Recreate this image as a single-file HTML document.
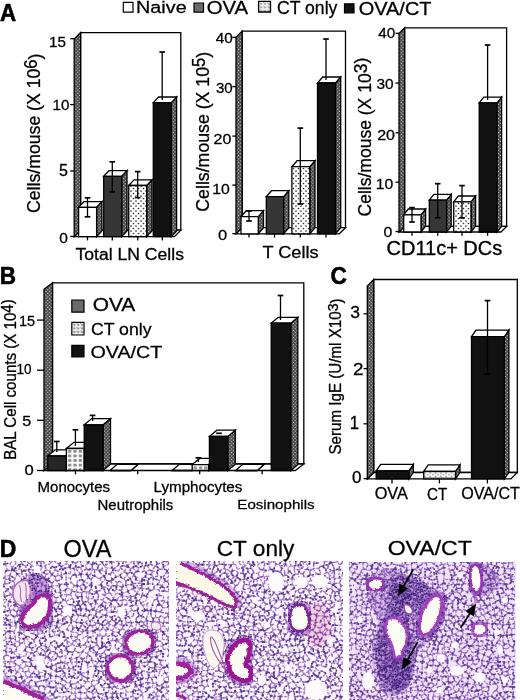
<!DOCTYPE html><html><head><meta charset="utf-8"><style>
html,body{margin:0;padding:0;background:#fff;overflow:hidden;}
svg{display:block;will-change:transform;}
text{font-family:"Liberation Sans", sans-serif;}
</style></head><body>
<svg width="520" height="700" viewBox="0 0 520 700">
<defs>
<pattern id="wall" width="2.5" height="2.5" patternUnits="userSpaceOnUse" patternTransform="rotate(45)">
<rect width="2.5" height="2.5" fill="#4a4a4a"/><rect x="0.6" y="0.6" width="1.1" height="1.1" fill="#d8d8d8"/>
</pattern>
<pattern id="side" width="2.5" height="2.5" patternUnits="userSpaceOnUse" patternTransform="rotate(45)">
<rect width="2.5" height="2.5" fill="#444"/><rect x="0.6" y="0.6" width="1.15" height="1.15" fill="#d8d8d8"/>
</pattern>
<pattern id="dots" width="5" height="5" patternUnits="userSpaceOnUse">
<rect width="5" height="5" fill="#fff"/><circle cx="1" cy="1" r="0.85" fill="#333"/><circle cx="3.5" cy="3.5" r="0.85" fill="#333"/>
</pattern>
<pattern id="ldots" width="2.6" height="2.6" patternUnits="userSpaceOnUse">
<rect width="2.6" height="2.6" fill="#fff"/><rect width="1.3" height="1.3" fill="#555"/><rect x="1.3" y="1.3" width="1.3" height="1.3" fill="#555"/>
</pattern>
<pattern id="cdots" width="5.3" height="8.3" patternUnits="userSpaceOnUse" x="424.95" y="470.65">
<rect width="5.3" height="8.3" fill="#9a9a9a"/><circle cx="2.65" cy="4.15" r="2.45" fill="#fff"/><circle cx="2.65" cy="4.15" r="0.75" fill="#777"/>
</pattern>
<pattern id="lgrid" width="3.9" height="3.6" patternUnits="userSpaceOnUse" x="259.2" y="2">
<rect width="3.9" height="3.6" fill="#fff"/><rect x="0.7" y="0.7" width="2.5" height="2.2" rx="0.5" fill="#aaa"/><circle cx="0" cy="0" r="0.6" fill="#222"/>
</pattern>
<pattern id="lgrid2" width="3.8" height="3.6" patternUnits="userSpaceOnUse" x="72.5" y="323">
<rect width="3.8" height="3.6" fill="#fff"/><rect x="0.7" y="0.7" width="2.4" height="2.2" rx="0.5" fill="#999"/><circle cx="0" cy="0" r="0.6" fill="#333"/>
</pattern>
<pattern id="grid" width="5.35" height="4.6" patternUnits="userSpaceOnUse" x="67" y="449">
<rect width="5.35" height="4.6" fill="#fff"/><rect x="0.9" y="0.9" width="3.5" height="2.8" rx="0.9" fill="#8c8c8c"/>
</pattern>
<pattern id="grid2" width="5.3" height="6" patternUnits="userSpaceOnUse" x="192.6" y="465">
<rect width="5.3" height="6" fill="#fff"/><rect x="0.9" y="1.2" width="3.5" height="3.4" rx="1" fill="#9a9a9a"/>
</pattern>

<pattern id="alv" width="168" height="168" patternUnits="userSpaceOnUse">
<rect width="168" height="168" fill="#fdf7fd"/>
<path d="M135.9 150.5L138.0 145.8M135.9 150.5L131.9 145.7M133.6 143.6L132.5 144.4M131.9 145.7L132.5 144.4M137.3 144.3L138.0 145.8M70.8 74.1L72.0 71.5M72.0 71.5L75.2 70.8M76.5 71.1L75.2 70.8M71.6 77.0L76.0 76.4M11.0 134.7L10.5 136.6M11.0 134.7L10.3 134.0M10.3 134.0L6.2 134.1M6.2 134.1L5.2 136.1M10.5 136.6L13.3 140.8M7.3 139.0L7.2 140.2M56.6 168.3L56.0 172.2M168.2 152.1L169.2 146.7M81.7 75.4L77.2 77.4M58.3 116.4L62.5 115.6M58.3 116.4L57.1 112.0M60.3 110.5L64.0 113.4M64.0 113.4L62.5 115.6M57.1 112.0L58.0 110.7M51.8 79.4L51.8 81.9M51.8 81.9L59.4 81.7M59.8 80.9L57.2 77.2M59.8 80.9L59.4 81.7M55.5 75.7L57.2 77.2M66.8 80.9L71.2 78.4M66.8 80.9L66.3 80.6M70.8 74.1L66.1 74.1M66.1 74.1L66.3 80.6M57.2 77.2L62.2 74.8M80.7 70.4L80.7 70.3M75.2 70.8L74.2 64.4M74.2 64.4L75.1 63.8M60.3 110.5L61.9 108.2M64.0 113.4L64.4 113.4M64.4 113.4L68.0 111.9M68.0 111.9L67.2 107.3M73.0 111.8L77.2 110.8M72.8 106.7L75.4 105.9M71.8 106.2L72.8 106.7M70.9 113.7L68.0 111.9M70.9 113.7L73.0 111.8M67.2 107.3L67.6 106.2M116.4 72.6L120.1 71.9M117.1 78.8L113.2 75.3M128.2 87.0L125.8 81.2M132.9 80.4L125.9 81.1M133.1 79.8L132.9 80.4M119.9 77.0L123.8 81.7M126.0 77.0L123.6 74.5M123.6 74.5L121.2 73.9M143.7 118.2L146.6 116.3M143.7 118.2L140.7 117.6M142.4 112.3L140.7 117.6M142.4 112.3L146.2 114.4M-2.9 76.9L-1.1 77.7M2.2 81.6L1.3 82.5M1.3 82.5L-4.0 83.7M-0.3 87.9L-3.7 86.7M-0.3 87.9L-1.4 92.0M1.0 87.2L1.3 82.5M1.0 87.2L-0.3 87.9M0.1 135.8L0.6 136.9M0.3 139.0L0.6 136.9M0.3 139.0L-4.7 141.0M26.4 161.9L24.4 157.9M31.5 161.9L29.3 162.8M31.5 161.9L31.3 158.1M5.6 146.4L6.6 143.6M6.6 143.6L6.1 142.4M6.1 142.4L1.7 141.2M1.7 141.2L-0.0 145.2M-0.0 145.2L1.2 146.7M5.2 136.1L0.6 136.9M0.3 139.0L1.7 141.2M7.2 140.2L6.1 142.4M67.5 137.4L72.5 140.1M66.6 143.4L72.5 140.2M66.3 135.4L66.5 134.6M66.3 135.4L67.5 137.4M72.5 140.1L73.3 137.2M70.7 132.8L73.3 137.2M62.5 115.6L63.4 120.3M28.6 166.6L29.3 162.8M28.6 166.6L30.9 170.4M33.3 168.8L30.9 170.4M33.3 168.8L35.2 164.1M35.2 164.1L34.9 163.1M62.5 165.7L60.6 164.0M60.6 164.0L56.7 163.5M56.6 168.3L56.1 167.4M56.1 167.4L52.7 166.1M138.5 169.7L140.9 168.9M138.5 169.7L137.5 170.4M63.8 168.4L65.3 169.3M65.3 169.3L64.9 171.2M65.3 169.3L68.4 169.0M62.5 165.7L63.8 164.0M63.8 164.0L70.0 165.3M68.4 169.0L70.0 165.3M74.8 170.1L72.9 164.5M82.6 155.5L82.8 156.4M86.8 152.6L86.4 158.1M76.7 157.8L81.8 158.3M76.7 157.8L76.7 157.9M80.6 163.2L76.6 161.7M80.6 163.2L81.4 162.5M76.7 157.9L76.6 161.7M81.4 162.5L81.8 158.3M79.5 152.7L76.6 153.8M81.8 158.3L82.8 156.4M111.5 150.1L113.2 152.6M111.5 150.1L111.6 149.2M119.2 147.7L117.4 145.5M119.2 149.3L115.3 152.5M117.4 145.5L116.2 145.1M113.2 152.6L115.3 152.5M122.2 152.8L119.2 149.3M115.3 152.5L116.8 153.6M100.8 149.8L102.9 153.4M93.8 127.0L96.9 125.2M92.4 121.7L93.1 127.1M96.9 125.2L95.1 121.0M168.0 145.2L169.7 141.2M113.2 152.6L112.1 157.8M116.8 153.6L119.1 157.3M112.1 157.8L113.5 159.1M113.5 159.1L119.1 157.3M122.6 153.2L119.5 157.4M122.6 153.2L122.2 152.8M119.5 157.4L119.1 157.3M140.9 134.6L139.1 139.1M133.7 137.7L133.5 137.3M133.6 143.6L133.7 137.7M137.3 144.3L140.3 141.2M140.3 141.2L139.1 139.1M156.8 152.9L156.1 148.3M156.8 152.9L162.3 148.9M156.6 153.2L153.3 152.1M151.9 146.0L156.1 148.3M151.9 146.0L151.0 147.1M156.6 153.2L156.9 154.4M160.4 156.4L156.9 154.4M163.3 145.4L168.0 145.2M168.2 152.1L167.3 152.3M163.3 145.4L162.8 142.3M162.8 142.3L158.2 141.9M159.6 146.8L156.5 143.3M151.9 146.0L152.6 143.3M156.5 143.3L152.6 143.3M150.9 147.2L148.0 149.3M150.9 147.2L144.2 143.3M144.2 143.3L143.1 147.8M151.0 147.1L150.9 147.2M153.3 152.1L151.1 153.8M154.0 158.1L149.5 157.6M151.1 153.8L149.5 157.6M167.1 160.9L172.7 157.0M167.1 160.9L166.6 162.4M166.0 169.3L171.4 167.2M168.4 163.4L171.4 167.2M-0.7 152.3L-4.0 150.9M0.2 152.1L1.2 146.7M116.4 72.6L112.4 67.4M112.1 75.4L110.2 70.0M81.3 69.8L86.6 70.4M81.3 69.8L81.7 67.4M86.6 70.4L88.5 65.8M80.7 70.3L81.3 69.8M75.8 63.0L75.1 63.8M75.8 63.0L80.9 63.5M80.9 63.5L81.7 67.4M106.7 54.5L107.6 50.6M106.7 54.5L103.8 56.0M106.4 50.0L107.6 50.6M106.7 54.5L111.1 57.3M111.2 58.2L103.5 56.8M92.9 59.9L93.0 55.3M95.1 59.2L98.0 55.4M93.0 55.3L96.2 53.2M98.0 55.4L97.3 53.3M91.9 60.8L92.9 59.9M91.9 60.8L88.2 58.8M88.2 58.8L90.8 54.3M98.6 61.1L95.1 59.2M98.6 61.1L102.4 59.1M102.5 50.9L100.1 49.8M102.3 58.3L103.5 56.8M100.1 49.8L99.8 50.0M99.8 50.0L97.3 53.3M138.3 39.2L139.4 36.4M132.5 33.8L138.9 35.2M112.0 15.3L112.9 21.7M114.6 14.6L116.3 15.4M115.5 20.5L116.6 16.1M116.3 15.4L116.6 16.1M112.4 22.0L108.4 20.2M108.4 20.2L109.4 15.3M109.5 15.2L112.0 15.3M117.3 25.6L112.4 25.5M112.4 25.4L112.4 25.5M106.4 50.0L106.0 47.0M100.7 44.8L102.5 43.7M106.0 47.0L102.5 43.7M102.6 16.0L109.4 15.3M108.4 20.2L105.6 20.9M97.2 4.1L99.1 -0.8M93.7 3.5L96.1 -3.1M99.1 -0.8L96.1 -3.1M88.3 -0.0L95.8 -3.6M88.3 -0.0L87.7 -5.3M103.0 -0.6L102.8 -0.4M97.2 4.1L99.7 6.4M98.8 11.0L93.5 14.2M98.7 8.3L92.5 8.9M93.5 14.2L92.3 13.5M92.3 13.5L91.1 10.6M95.0 16.4L97.0 18.0M93.7 3.5L93.5 3.5M93.5 3.5L92.5 8.9M65.2 46.3L61.7 48.1M65.2 46.3L66.8 41.7M61.7 48.1L59.5 45.5M66.8 41.7L65.9 40.3M65.9 40.3L64.3 41.1M64.3 41.1L59.5 45.5M173.7 17.8L167.5 19.5M170.5 24.2L167.2 20.9M167.2 20.9L167.5 19.5M170.5 24.2L170.6 24.4M166.0 1.3L171.4 -0.8M166.0 1.3L164.8 0.4M166.0 1.3L168.0 4.8M4.9 121.2L9.7 120.3M9.7 120.3L10.2 122.2M10.3 118.7L14.9 118.2M10.3 118.7L9.7 120.3M16.3 121.8L10.2 122.2M15.5 118.7L14.9 118.2M6.2 134.1L4.7 130.6M7.8 127.3L6.8 127.8M11.3 144.6L6.6 143.6M13.3 140.8L14.2 141.4M35.1 69.8L33.7 74.3M33.4 129.7L35.9 123.4M29.6 127.9L29.9 123.5M29.9 123.5L35.9 123.4M30.1 115.9L30.9 117.2M30.1 115.9L24.1 117.3M29.0 122.3L30.9 117.2M29.0 122.3L25.7 121.9M24.2 126.5L23.4 123.1M29.9 123.5L29.0 122.3M15.5 118.7L19.9 116.7M14.9 118.2L14.6 112.6M17.3 111.4L17.1 111.3M49.9 125.4L44.5 119.0M49.9 125.4L50.7 120.5M50.7 120.5L50.4 119.2M50.4 119.2L46.8 117.9M55.6 105.7L58.0 110.7M52.5 113.1L49.9 111.2M49.9 111.2L50.8 107.9M50.8 107.9L55.1 105.5M31.1 91.4L28.5 86.9M31.1 91.4L34.9 91.4M35.2 86.6L30.3 84.3M28.5 86.9L30.3 84.3M74.2 64.4L70.7 64.3M70.5 69.7L70.7 64.3M66.0 74.1L66.3 69.4M66.1 74.1L66.0 74.1M66.3 80.6L62.3 79.9M70.5 69.7L66.3 69.4M65.6 67.5L66.1 69.2M70.7 64.3L70.2 63.9M62.5 64.6L65.6 67.5M62.5 64.6L60.8 71.2M55.6 105.7L57.6 104.5M99.9 74.4L101.6 78.8M101.6 78.8L105.6 75.4M104.0 72.1L104.3 72.1M97.4 74.2L97.2 74.8M97.4 74.2L99.9 74.4M100.9 81.2L101.6 78.8M100.9 81.2L96.9 81.0M97.4 74.2L96.7 73.1M99.9 68.4L104.0 72.1M106.6 80.9L107.9 77.2M107.9 77.2L105.6 75.4M102.6 82.7L103.4 82.9M104.5 82.6L103.4 82.9M110.2 70.0L106.3 70.2M106.3 70.2L104.3 72.1M101.2 65.6L105.9 68.2M80.3 111.1L80.9 105.2M80.3 111.1L81.8 112.1M81.8 112.1L84.4 111.6M80.9 105.2L85.9 104.9M86.8 105.9L85.9 104.9M80.3 111.1L79.0 111.2M75.4 105.9L75.8 105.3M80.7 105.0L75.8 105.3M71.8 106.2L72.9 100.9M72.9 100.9L74.9 102.2M75.8 105.3L74.9 102.2M78.0 97.9L81.8 95.6M78.7 100.8L80.2 102.0M108.6 45.2L106.0 47.0M108.6 45.2L111.4 48.7M112.9 51.2L112.4 50.5M112.0 50.3L112.4 50.5M138.1 50.7L135.4 45.9M131.5 50.1L132.3 45.4M132.3 45.4L135.4 45.9M132.2 55.8L126.2 54.0M126.2 54.0L125.5 52.4M126.4 51.1L125.5 52.4M126.4 51.1L131.5 50.1M120.1 71.9L120.3 70.5M113.1 65.7L118.4 67.2M118.4 67.2L120.5 63.7M120.3 70.5L124.6 67.9M124.6 67.2L124.6 67.9M127.9 87.6L128.2 87.0M133.4 84.5L134.2 86.2M135.7 76.0L141.8 77.4M141.8 77.4L141.8 79.0M141.9 81.3L133.5 82.2M141.9 81.3L142.2 79.8M173.2 94.3L167.9 99.0M168.8 101.7L167.9 99.0M172.2 108.2L168.9 107.8M140.7 117.6L138.4 118.8M138.4 118.8L140.3 122.1M143.7 120.7L141.9 122.0M147.2 116.9L152.5 118.0M147.2 116.9L146.9 121.9M152.4 121.4L152.5 118.0M146.6 116.3L147.2 116.9M159.3 118.6L157.4 123.1M153.1 117.3L152.5 118.0M152.4 121.4L153.8 122.6M147.4 125.0L147.9 123.7M147.4 125.0L151.9 129.1M151.9 129.1L152.7 128.6M122.6 122.4L122.6 124.6M127.5 126.9L125.9 126.9M127.5 126.9L129.9 122.2M122.6 124.6L125.9 126.9M0.9 119.2L0.6 112.9M0.9 119.2L-4.3 118.2M-0.2 112.2L0.6 112.9M-0.2 112.2L-3.5 114.2M22.5 75.7L17.5 70.0M17.5 70.0L21.3 68.9M2.2 81.6L2.9 81.5M2.9 81.5L6.9 85.6M10.3 106.6L13.3 105.7M15.6 100.6L8.5 102.6M-3.3 97.7L-0.3 98.8M-0.1 92.7L4.5 92.3M6.9 85.8L11.1 90.5M15.2 46.2L16.6 45.4M15.2 46.2L14.5 46.0M13.6 39.0L14.3 38.2M18.2 42.7L17.3 38.1M14.3 38.2L17.3 38.1M22.5 41.8L22.3 37.6M22.3 37.6L22.0 37.1M31.3 61.4L35.7 63.7M31.3 61.4L30.2 65.0M30.2 65.0L36.0 67.5M35.7 63.7L36.3 67.2M37.0 61.1L37.2 57.4M37.0 61.1L41.8 62.1M37.2 57.4L40.6 57.8M45.8 49.3L43.4 51.0M43.4 51.0L44.8 54.1M51.1 50.2L50.0 49.2M51.1 50.2L48.3 55.5M36.5 56.4L37.2 57.4M54.2 50.9L56.3 46.1M54.2 50.9L51.1 50.2M50.8 44.8L50.0 49.2M55.5 75.7L55.4 72.6M60.5 71.6L57.9 71.4M55.4 72.6L57.9 71.4M34.8 44.7L34.9 44.6M28.6 39.5L30.9 36.8M28.6 39.5L28.3 41.1M30.9 36.8L32.2 36.9M32.2 36.9L34.9 44.6M25.1 168.4L23.4 167.6M25.1 168.4L26.0 171.7M23.4 167.6L20.9 169.8M26.4 161.9L22.7 164.4M22.7 164.4L23.4 167.6M28.6 166.6L25.1 168.4M20.1 163.7L16.8 167.7M20.1 163.7L22.7 164.4M16.8 167.7L16.8 167.9M16.8 167.9L20.9 169.8M16.8 167.9L14.9 172.0M21.0 148.5L19.6 150.8M19.6 150.8L15.8 146.6M16.9 143.6L15.8 146.6M13.7 148.6L15.8 146.6M16.8 143.0L14.3 141.7M11.6 147.4L12.1 148.2M24.2 157.4L24.4 157.9M24.2 157.4L23.8 157.3M19.4 162.2L23.8 157.3M45.3 148.9L48.9 145.0M45.3 148.9L43.8 145.9M48.9 145.0L48.4 143.8M48.4 143.8L47.4 143.7M47.4 143.7L43.8 145.9M45.3 148.9L45.3 151.6M45.3 151.6L40.5 150.7M40.5 150.7L42.0 145.6M66.3 143.8L62.1 140.5M66.5 146.0L61.9 146.8M61.9 146.8L58.6 142.4M72.7 140.4L72.5 140.2M69.1 147.8L68.1 147.9M59.6 135.9L55.6 136.7M59.6 135.9L60.2 133.9M55.5 136.6L55.6 136.7M58.6 130.5L55.1 131.6M58.0 142.4L58.6 142.4M58.0 142.4L55.6 136.7M66.5 134.6L65.0 132.6M61.1 127.8L63.4 127.8M61.1 127.8L58.6 130.5M52.4 137.8L55.5 136.6M56.1 144.0L50.4 140.5M61.1 127.8L59.8 126.4M55.1 131.6L53.4 128.2M50.6 132.7L49.6 132.5M49.6 132.5L49.4 126.1M48.9 145.0L51.0 147.4M56.1 144.0L54.8 147.7M48.4 143.8L50.4 140.5M51.0 147.4L54.8 147.7M44.7 171.8L45.8 168.2M45.8 168.2L45.3 166.8M45.3 166.8L44.3 166.9M33.3 168.8L38.0 171.8M35.2 164.1L39.5 168.4M39.1 155.8L37.0 156.5M39.1 155.8L40.6 156.9M40.6 156.9L39.5 161.2M35.2 162.9L38.1 162.2M39.5 152.0L34.6 152.0M35.5 155.8L34.6 152.0M35.5 155.8L37.0 156.5M40.5 150.7L40.2 150.8M31.4 156.8L35.5 155.8M81.4 169.3L81.4 169.4M88.2 168.2L88.3 168.4M136.2 163.4L138.5 163.1M136.2 163.4L138.5 169.7M138.5 163.1L142.2 165.5M148.2 160.4L143.7 163.0M142.6 166.6L147.5 168.1M149.5 163.4L147.5 168.1M136.2 163.4L134.6 163.2M134.6 163.2L134.5 157.6M140.1 159.3L134.5 157.6M137.5 170.4L136.2 170.8M132.2 167.4L133.1 164.2M132.2 167.4L136.1 170.8M136.1 170.8L136.2 170.8M87.9 159.2L91.3 156.4M95.4 162.4L91.3 156.4M95.4 162.4L87.7 162.7M86.4 158.1L87.9 159.2M86.8 152.6L88.3 151.2M91.8 153.3L88.3 151.2M91.4 155.9L97.8 158.3M97.8 158.3L95.7 162.6M88.3 168.0L87.7 162.7M95.8 164.4L95.8 162.8M95.8 162.8L95.7 162.6M88.2 168.2L88.3 168.0M80.6 163.2L80.7 168.6M72.7 140.4L75.9 142.5M75.0 136.5L79.0 141.7M75.9 142.5L79.0 141.7M79.5 152.7L80.7 149.4M87.4 149.6L82.6 147.6M74.4 146.7L80.7 149.4M82.6 147.6L82.5 147.3M86.9 142.6L82.5 147.3M86.9 142.6L85.0 140.5M79.9 142.1L85.0 140.5M72.6 148.2L72.9 149.0M72.9 149.0L70.6 155.3M76.5 153.8L70.9 155.7M109.3 146.2L106.2 145.4M106.2 145.4L106.1 144.0M106.1 144.0L110.5 140.9M111.3 141.8L110.5 140.9M114.8 142.3L116.2 145.1M111.5 150.1L106.5 151.8M104.6 146.6L106.2 145.4M90.2 143.2L90.6 143.7M90.2 143.2L86.9 142.6M87.4 149.6L89.2 146.5M90.6 143.7L89.2 146.5M101.3 162.1L101.8 157.9M101.3 162.1L101.6 162.3M101.6 162.3L105.6 161.6M101.8 157.9L105.8 156.9M105.6 161.6L107.5 158.4M97.8 158.3L99.0 156.8M107.8 158.5L112.1 157.8M107.8 158.5L107.5 158.4M105.5 154.3L105.8 156.9M95.6 151.5L96.4 150.2M96.4 150.2L96.6 150.0M102.9 153.4L101.7 153.7M100.8 149.8L96.8 149.6M89.2 146.5L96.4 150.2M96.7 149.4L96.8 149.6M92.0 144.0L90.6 143.7M85.7 138.2L87.1 137.8M96.9 125.2L97.9 125.4M97.7 118.6L100.0 119.9M95.1 121.0L96.0 119.4M100.0 119.9L97.9 125.4M100.0 131.4L98.4 131.9M100.0 131.4L99.8 126.5M122.6 122.4L121.7 121.1M114.5 123.2L114.4 122.4M114.5 123.2L120.2 125.9M115.9 119.4L116.8 119.5M121.7 121.1L116.8 119.5M122.0 117.7L120.4 115.7M111.9 113.7L113.6 111.1M119.5 112.7L117.3 113.5M107.8 158.5L109.7 165.1M109.7 165.1L113.2 162.2M113.5 159.1L113.5 159.2M121.3 161.8L119.2 163.2M121.3 161.8L124.8 162.5M120.2 167.8L118.1 165.4M119.7 157.7L119.5 157.4M119.7 157.7L127.4 157.8M127.0 160.7L127.4 157.8M132.2 167.4L130.1 168.7M133.1 164.2L127.0 160.7M125.7 166.6L124.9 164.1M120.9 169.9L123.1 170.6M123.1 170.6L125.7 166.6M114.4 168.1L115.6 166.2M173.2 136.1L168.6 136.9M168.3 139.0L168.6 136.9M154.7 165.5L154.3 166.4M147.5 168.1L148.2 169.3M154.4 164.2L154.8 165.0M155.4 160.5L160.5 159.9M148.2 160.4L148.3 158.1M148.3 158.1L149.5 157.6M160.4 165.7L163.0 163.8M160.4 165.7L158.9 170.0M164.8 168.4L164.0 163.6M164.8 168.4L160.2 173.5M164.0 163.6L163.4 163.6M154.8 165.0L160.4 165.7M155.1 162.3L163.0 163.8M154.7 165.5L158.9 170.0M152.4 142.7L144.1 142.4M144.4 140.3L152.0 138.9M144.1 142.4L143.7 141.7M158.2 137.1L157.3 136.6M144.2 143.3L144.1 142.4M150.7 136.6L152.3 132.5M150.7 136.6L152.0 138.9M152.3 132.5L157.0 134.0M157.0 134.0L157.3 136.6M140.3 141.2L143.7 141.7M148.1 158.0L146.0 154.4M148.1 158.0L141.7 158.7M146.0 154.4L140.5 152.9M141.7 158.7L141.1 158.5M148.3 158.1L148.1 158.0M143.7 163.0L141.7 158.7M-0.7 152.3L-2.0 156.8M90.8 54.3L90.4 53.0M96.2 53.2L92.9 50.7M92.9 50.7L90.4 53.0M112.1 64.1L106.5 64.1M112.1 64.1L112.0 61.0M112.0 61.0L111.5 58.5M106.5 64.1L104.1 61.9M111.2 58.2L104.0 61.6M111.2 58.2L111.5 58.5M104.1 61.9L104.0 61.6M118.8 60.4L118.5 57.4M118.5 57.4L111.5 58.5M113.7 51.4L112.9 51.2M113.7 51.4L118.7 57.1M118.7 57.1L118.5 57.4M97.3 65.7L99.3 66.7M91.5 77.5L91.0 75.4M91.4 80.9L84.0 77.6M84.0 77.6L88.4 73.5M91.0 75.4L88.4 73.5M86.6 70.4L88.0 71.6M88.0 71.6L88.4 73.5M77.7 81.9L76.1 87.8M74.5 81.7L71.4 86.1M75.8 87.9L76.1 87.8M71.2 78.4L74.5 81.7M77.2 77.4L77.1 81.6M66.8 80.9L67.3 83.8M67.3 83.8L71.4 86.1M67.3 83.8L65.1 86.3M65.1 86.3L66.5 90.4M70.5 90.5L72.3 94.0M75.7 91.9L75.8 87.9M81.9 89.0L76.1 87.8M161.3 30.9L166.9 31.0M164.0 36.8L160.9 31.2M157.3 24.0L161.9 24.1M157.3 24.0L156.7 30.2M156.7 30.2L159.2 31.8M159.2 31.8L160.9 31.2M139.0 43.2L142.5 49.3M139.4 42.4L141.8 42.4M144.8 45.8L143.8 48.7M142.5 49.3L143.8 48.7M140.5 51.7L142.5 49.3M131.4 44.6L132.3 45.4M156.7 30.2L152.2 30.2M156.5 36.8L157.7 36.3M157.7 36.3L159.2 31.8M154.3 -1.6L154.7 5.0M154.7 5.0L151.2 5.3M151.2 5.3L149.1 5.2M149.1 5.2L148.2 1.3M124.0 35.0L123.1 36.0M128.1 38.6L124.2 40.4M125.6 34.2L128.1 35.0M108.8 12.7L105.7 10.7M112.8 10.4L113.4 8.3M105.7 10.7L105.7 9.7M112.0 5.9L113.4 8.3M109.5 15.2L108.8 12.7M114.6 14.6L112.8 10.4M102.1 15.4L102.6 16.0M102.3 14.3L105.7 10.7M100.1 6.3L105.7 9.7M105.4 3.7L106.7 8.2M112.0 5.5L111.3 1.7M120.1 9.9L120.1 10.1M120.1 9.9L119.1 9.1M120.1 10.1L116.3 15.4M119.1 9.1L113.4 8.3M112.0 5.5L118.4 4.0M119.1 9.1L118.4 4.0M111.3 1.7L111.4 1.7M114.4 0.1L118.6 3.4M117.3 25.6L119.0 26.6M119.0 26.6L117.7 30.1M117.7 39.6L115.5 35.9M117.7 39.6L122.4 38.8M118.0 32.5L118.3 31.3M134.4 10.2L132.3 9.3M134.4 10.2L138.0 8.1M138.0 8.1L136.2 2.8M132.3 9.3L131.9 8.7M136.1 2.8L136.2 2.8M136.1 2.8L131.8 8.0M131.9 8.7L131.8 8.0M125.9 9.5L131.9 8.7M131.3 7.3L127.2 5.9M100.6 44.7L97.1 37.7M88.2 0.2L88.3 0.4M87.6 9.3L91.1 10.6M87.6 9.3L87.5 6.8M102.5 43.7L103.0 42.8M103.0 42.8L102.4 36.2M98.8 22.2L103.6 21.6M98.8 22.2L98.3 24.2M103.6 21.6L101.1 28.2M101.0 28.3L101.1 28.2M97.0 19.2L98.8 22.2M93.0 26.1L97.0 30.4M100.0 30.1L97.0 30.4M100.0 30.1L101.0 28.3M105.8 23.1L104.0 27.9M106.6 29.0L104.0 27.9M105.6 20.9L105.8 23.1M103.0 -0.6L105.9 -1.9M111.4 1.7L109.1 -1.4M90.6 29.1L95.3 32.5M100.0 30.1L102.6 35.9M97.0 30.4L95.3 32.5M102.6 35.9L102.4 36.2M97.1 37.6L95.7 37.3M94.1 35.5L94.1 35.0M90.3 30.4L87.7 34.0M87.7 34.0L88.1 35.7M92.4 26.0L93.2 22.4M90.5 26.6L87.1 25.3M91.4 20.1L87.1 19.2M87.1 19.2L86.2 21.2M90.6 29.1L90.5 26.6M97.0 19.2L93.2 22.4M86.2 26.0L85.1 31.6M85.1 31.6L87.7 34.0M95.0 16.4L91.4 20.1M80.1 26.9L86.2 26.0M80.1 26.9L81.0 20.6M81.0 20.6L86.2 21.2M87.2 18.0L87.1 19.2M158.6 5.4L158.9 2.0M157.7 36.3L162.9 40.5M156.3 15.2L157.5 13.5M167.2 20.9L163.3 23.4M167.5 19.5L166.3 16.2M166.3 16.2L162.3 15.1M167.0 30.9L167.1 28.3M167.2 33.6L170.1 37.1M170.1 37.1L171.7 35.6M161.9 24.1L162.7 23.5M90.2 121.2L88.7 122.5M90.2 121.2L89.9 116.3M88.7 122.5L85.3 117.9M85.3 117.9L89.0 115.9M96.0 119.4L91.6 115.9M91.6 115.9L89.9 116.3M84.4 111.6L87.7 113.0M81.9 118.6L85.3 117.9M87.7 113.0L89.0 115.9M93.0 127.2L87.5 126.8M93.0 127.2L93.0 132.9M87.5 126.8L87.5 131.8M91.3 133.6L88.4 132.6M87.5 131.8L88.4 132.6M93.1 127.1L93.0 127.2M87.1 124.9L88.7 122.5M98.4 131.9L96.1 133.5M91.3 138.1L91.3 133.6M87.1 137.8L88.4 132.6M87.5 131.8L83.6 133.4M83.6 133.4L82.7 135.3M0.9 119.2L1.3 119.4M5.3 114.1L1.3 119.4M0.5 124.7L6.8 127.8M0.5 124.7L2.1 120.8M1.3 119.4L2.1 120.8M6.7 112.3L5.9 114.1M5.9 114.1L7.0 115.7M4.2 108.2L0.9 107.8M-0.1 109.4L0.9 107.8M-0.1 109.4L-0.2 112.2M14.6 112.6L13.1 112.2M10.3 118.7L9.3 117.0M16.3 121.8L16.6 122.3M19.9 116.7L20.6 116.9M24.1 117.3L23.2 116.2M20.5 122.6L21.6 123.3M-1.1 125.9L2.6 131.0M-4.4 129.5L0.1 133.4M4.7 130.6L2.6 131.0M0.1 135.8L0.1 133.4M25.0 146.1L21.0 148.5M16.8 143.0L19.1 142.0M25.3 144.8L26.4 143.2M23.9 138.2L26.4 143.2M39.8 76.4L40.1 78.0M33.4 74.6L37.0 79.8M37.0 79.8L40.1 78.0M15.7 100.8L18.3 103.5M16.8 107.9L18.1 106.2M18.3 103.5L18.1 106.2M50.4 119.2L52.5 117.2M49.3 111.3L47.1 113.6M45.1 104.2L48.3 105.0M49.3 111.3L43.9 108.0M59.4 81.7L59.4 83.8M65.1 86.3L60.8 87.0M59.4 83.8L60.8 87.0M66.5 90.4L60.8 90.9M60.8 90.9L60.4 88.0M60.8 87.0L60.4 88.0M52.8 91.6L55.6 88.6M55.6 88.6L55.0 85.6M51.3 91.2L52.0 83.4M52.0 83.4L55.0 85.6M60.4 88.0L55.6 88.6M51.5 82.4L52.0 83.4M30.9 97.7L28.5 96.7M30.0 92.2L28.5 96.7M51.9 100.8L52.0 100.9M52.0 100.9L52.7 101.0M54.0 99.3L50.1 94.3M45.1 100.5L51.9 100.8M46.2 96.7L48.5 95.9M45.1 104.2L44.0 102.2M44.0 102.2L45.1 100.5M56.1 97.9L55.9 94.1M56.1 97.9L54.0 99.3M51.6 91.5L50.1 94.3M33.2 80.9L30.3 84.0M33.2 80.9L30.1 76.5M30.3 84.0L27.3 80.7M27.3 80.7L29.1 76.5M35.2 86.6L36.6 84.2M30.3 84.3L30.3 84.0M35.8 81.5L36.6 84.2M33.4 74.6L30.1 76.5M30.5 69.2L29.3 76.5M33.1 117.1L30.9 117.2M34.9 115.9L34.4 111.6M33.2 102.3L29.5 105.2M33.2 102.3L34.0 102.3M29.5 105.2L32.2 107.8M61.7 48.1L62.2 51.0M58.0 44.9L56.3 46.1M54.2 50.9L54.6 51.6M54.6 51.6L61.9 51.3M62.2 51.0L61.9 51.3M62.5 64.6L62.4 64.5M69.9 63.3L62.4 64.5M67.6 106.2L66.7 103.0M66.7 103.0L63.2 103.2M57.6 104.5L59.4 99.7M60.5 92.6L63.6 96.1M67.0 90.9L64.9 96.4M63.6 96.1L59.4 99.6M59.4 99.6L59.4 99.7M96.8 87.5L96.5 88.7M90.8 85.0L96.2 88.8M90.8 85.0L91.9 81.4M96.2 88.8L96.5 88.7M91.5 80.9L91.9 81.4M102.6 82.7L100.8 86.2M93.3 94.6L93.3 90.7M93.3 94.6L88.4 94.8M88.4 94.8L88.1 94.4M88.1 94.4L89.3 88.3M89.3 88.3L93.3 90.7M98.7 90.8L97.9 95.3M89.2 88.1L86.4 87.8M86.4 87.8L86.4 93.9M86.4 93.9L88.1 94.4M83.4 98.4L83.4 99.2M87.9 97.1L89.1 99.9M85.9 104.9L86.3 102.2M80.2 102.0L83.4 99.2M88.4 94.8L87.9 97.1M95.4 96.9L95.3 97.3M91.0 100.4L95.3 97.3M91.0 100.4L89.1 99.9M72.3 94.1L66.1 97.3M74.2 97.0L72.7 100.6M66.1 97.3L67.4 101.1M72.3 94.0L72.3 94.1M64.9 96.4L66.1 97.3M72.9 100.9L72.7 100.6M66.7 103.0L67.4 101.1M118.7 57.1L119.1 56.8M120.7 62.4L123.2 61.7M119.1 56.8L122.8 57.2M122.8 57.2L123.2 61.7M124.6 67.2L127.0 62.3M119.0 45.2L118.6 50.5M113.7 51.4L118.6 50.5M112.4 50.5L116.7 43.4M116.7 43.4L119.0 45.2M119.1 56.8L121.0 51.8M125.5 52.4L122.1 51.5M125.2 56.2L122.8 57.2M131.4 44.6L130.1 44.8M126.4 51.1L126.6 48.2M122.5 45.6L122.6 45.5M117.7 39.6L116.6 43.1M141.8 54.3L141.1 58.0M144.4 61.9L145.7 61.5M144.4 61.9L144.0 66.9M138.0 67.1L140.9 69.0M138.0 67.1L138.4 64.0M127.0 62.3L127.3 62.2M127.4 61.8L132.6 57.0M135.9 73.2L135.7 76.0M133.9 71.4L130.3 74.7M123.6 74.5L127.4 71.5M130.3 74.7L127.4 71.5M124.6 67.9L127.5 69.7M127.4 71.5L127.5 69.7M133.6 111.7L133.5 107.1M136.3 113.8L139.6 111.6M133.5 107.1L137.1 106.4M137.1 106.4L137.9 105.6M139.6 111.6L142.0 111.8M142.0 111.8L144.1 107.0M136.9 89.9L136.7 89.1M136.7 89.1L140.2 84.3M140.2 84.3L141.7 83.7M141.7 83.7L142.0 84.1M134.9 92.2L130.8 92.6M134.2 86.2L136.7 89.1M130.6 92.4L130.8 92.6M133.7 83.5L140.2 84.3M126.8 110.5L131.7 105.8M131.7 105.8L130.2 102.3M127.9 87.6L122.1 89.5M130.6 92.4L128.7 92.9M122.1 89.5L121.7 90.5M121.9 91.6L128.7 92.9M121.7 91.3L121.7 90.5M123.8 81.7L122.2 83.2M122.1 89.5L121.5 86.7M122.2 83.2L121.5 86.7M117.1 78.8L116.7 81.3M153.1 117.3L153.5 114.9M158.6 114.0L155.6 113.2M153.5 114.9L155.6 113.2M142.6 101.5L145.1 106.3M142.6 101.5L147.1 100.1M146.9 106.3L147.1 100.1M167.9 99.0L167.7 98.8M167.7 98.8L167.9 92.7M172.3 89.3L169.0 87.2M164.5 114.2L161.2 111.6M159.8 118.3L163.2 118.5M163.7 118.2L163.2 118.5M163.7 118.2L164.5 114.2M163.7 118.2L168.9 119.2M168.6 112.9L168.9 119.2M162.8 103.9L167.9 103.4M168.9 107.8L167.9 109.4M155.6 113.2L155.4 107.1M138.7 126.7L138.9 126.9M139.8 127.1L145.6 125.5M147.4 125.0L146.3 125.6M126.7 118.4L131.0 118.5M126.7 118.4L125.2 115.8M131.0 118.5L129.6 113.4M125.2 115.8L125.9 111.8M126.2 111.7L125.9 111.8M125.0 120.8L126.7 118.4M133.6 111.7L129.6 113.4M133.5 107.1L131.7 105.8M126.8 110.5L126.2 111.7M131.1 121.0L131.5 119.0M131.1 121.0L135.1 125.5M131.5 119.0L136.1 117.6M135.1 125.5L136.9 118.2M136.9 118.2L136.1 117.6M129.9 122.2L131.1 121.0M138.4 118.8L136.9 118.2M135.4 126.3L138.7 126.7M135.4 126.3L135.1 125.5M131.4 134.7L131.9 129.7M127.2 132.7L129.5 128.2M129.5 128.2L131.8 129.2M131.8 129.2L131.9 129.7M138.1 133.0L131.9 129.7M133.5 137.3L131.5 136.1M127.5 126.9L129.5 128.2M138.1 133.0L138.9 126.9M127.5 141.1L129.3 137.1M129.6 147.6L124.8 144.0M129.6 147.6L131.9 145.7M117.4 145.5L122.5 140.9M124.5 142.4L122.5 140.9M112.3 126.3L114.5 123.2M120.2 125.9L118.7 128.5M118.7 128.5L112.7 127.6M112.7 136.4L112.3 130.5M112.7 136.4L108.8 137.3M112.7 136.4L117.0 136.7M117.0 136.7L116.3 132.9M114.8 142.3L117.2 136.9M108.8 137.3L108.7 137.7M112.7 127.6L112.2 130.4M116.3 132.9L118.8 129.6M16.2 58.8L14.5 56.4M21.4 59.8L21.8 58.4M19.5 60.8L19.1 60.7M26.5 72.0L30.3 69.1M27.7 66.3L25.8 65.7M25.8 65.7L25.4 66.1M25.7 74.4L26.5 72.0M25.7 74.4L29.1 76.5M30.5 69.2L30.3 69.1M22.3 67.2L21.3 68.9M22.3 67.2L25.4 66.1M24.6 74.4L25.7 74.4M22.3 67.2L20.1 64.2M25.8 62.3L21.4 59.8M8.6 79.8L10.9 77.3M14.5 80.8L13.8 77.0M13.8 77.0L10.9 77.3M6.9 85.6L10.6 83.6M5.1 75.1L9.2 75.8M9.2 75.8L10.9 77.3M21.0 77.2L21.3 81.7M21.0 77.2L22.5 75.7M28.5 86.9L26.4 86.6M26.4 86.6L24.8 87.9M4.6 107.8L5.8 102.5M8.5 102.6L8.0 102.1M-0.3 40.4L4.7 43.6M-0.3 40.4L2.1 37.3M4.7 43.6L7.9 40.9M7.9 40.9L7.9 40.7M7.9 40.7L2.1 37.3M20.2 46.0L23.9 43.6M20.2 46.0L23.2 50.9M23.6 51.0L25.0 44.6M16.3 49.2L20.0 51.5M20.0 51.5L23.2 50.9M24.6 51.7L23.1 56.8M28.3 41.1L24.8 44.0M30.2 47.2L32.1 45.2M30.2 47.2L25.0 44.6M4.7 43.6L4.6 44.4M13.6 39.0L8.4 40.1M22.0 37.1L24.4 34.1M29.7 35.1L24.4 34.1M8.3 36.5L10.2 32.4M10.2 32.4L12.4 34.0M19.3 36.6L18.1 32.7M12.4 34.0L18.1 32.7M37.0 61.1L35.7 63.7M41.8 62.1L42.3 62.6M42.3 62.6L39.9 67.1M40.5 74.1L41.9 73.1M41.9 73.1L41.8 68.3M50.4 59.7L45.3 61.6M45.3 61.6L45.0 62.0M59.7 60.6L61.5 55.3M61.4 55.2L54.7 54.6M67.8 56.3L64.2 51.2M54.6 51.6L54.7 54.6M50.7 58.3L53.7 56.7M59.8 61.3L55.1 63.6M55.1 63.6L55.3 65.5M59.7 60.6L59.8 61.3M66.9 57.3L66.8 59.6M66.8 59.6L61.4 62.7M69.9 63.3L69.6 62.3M69.6 62.3L66.8 59.6M62.4 64.5L61.7 63.6M57.9 71.4L57.9 67.6M55.4 72.6L52.1 70.8M37.1 35.1L32.2 36.9M37.1 35.1L36.9 42.0M34.9 44.6L35.8 44.1M36.9 42.0L35.8 44.1M41.7 49.7L41.4 44.4M36.6 49.1L34.8 44.7M35.8 44.1L41.4 44.4M0.2 152.1L3.4 153.0M6.2 148.3L6.1 151.0M13.7 148.6L17.0 152.6M9.9 152.2L11.3 154.4M17.0 152.6L11.3 154.4M19.6 150.8L18.9 153.0M17.0 152.6L18.9 153.0M47.4 143.7L45.2 142.0M45.2 142.0L46.1 135.9M46.1 135.9L46.0 135.7M45.2 142.0L41.0 141.7M40.1 142.9L41.0 141.7M40.2 150.8L36.5 147.2M36.5 147.2L37.6 143.3M41.0 141.7L41.2 140.4M56.9 123.2L58.3 124.2M58.3 124.2L62.8 120.3M62.8 120.3L57.6 118.3M57.6 118.3L57.3 118.5M59.8 126.4L58.3 124.2M52.0 126.4L56.9 123.2M49.9 125.9L49.9 125.4M50.7 120.5L56.7 122.2M63.4 120.3L62.8 120.3M52.5 117.2L57.3 118.5M50.1 170.7L45.8 168.2M31.4 156.8L30.4 155.1M30.4 155.1L33.8 151.4M31.4 144.2L36.1 142.3M32.7 148.7L33.1 148.9M61.9 146.8L61.6 147.2M54.8 147.7L55.6 149.1M55.6 149.1L56.7 149.8M60.6 164.0L60.0 158.7M56.7 163.5L55.7 160.7M55.7 160.7L56.3 159.7M122.6 153.2L124.8 153.1M127.4 157.8L127.6 157.1M127.6 157.1L124.8 153.1M123.2 146.7L125.8 151.1M129.2 148.8L125.8 151.1M125.8 151.1L124.8 153.1M60.9 158.1L60.2 153.3M64.4 159.1L66.4 151.9M66.4 151.9L62.6 152.0M58.0 152.0L54.5 156.5M63.8 164.0L64.7 159.3M66.7 151.7L66.4 151.9M66.6 159.5L70.1 165.2M70.1 165.2L72.7 164.3M71.1 158.3L73.6 163.0M72.7 164.3L73.6 163.0M64.7 159.3L66.6 159.5M76.7 157.9L71.1 158.3M76.6 161.7L73.6 163.0M105.2 139.7L105.2 141.6M112.3 126.3L108.3 125.1M114.4 122.4L109.3 120.2M109.3 120.2L108.3 125.1M120.0 112.0L122.4 110.8M120.0 112.0L116.5 108.0M116.5 108.0L121.0 104.4M121.0 104.4L121.7 105.4M119.5 112.7L120.0 112.0M125.9 111.8L122.4 110.8M125.9 105.4L121.7 105.4M86.8 105.9L89.6 106.6M89.6 106.6L92.2 105.4M89.6 106.6L89.8 110.3M91.6 115.9L95.1 112.1M89.8 110.3L95.1 112.1M96.0 98.4L95.3 97.3M116.5 108.0L113.8 107.5M113.8 107.5L112.8 108.1M168.5 124.7L170.1 120.8M168.6 112.9L173.3 114.1M168.9 119.2L169.3 119.4M144.6 137.6L149.8 136.2M149.8 136.2L146.4 132.1M150.7 136.6L149.8 136.2M144.4 140.3L144.6 137.6M151.7 129.7L146.4 132.1M146.3 125.6L145.1 131.9M151.9 129.1L151.7 129.7M162.5 135.4L168.1 135.8M170.6 131.0L168.1 133.4M168.1 133.4L168.1 135.8M162.5 135.4L162.2 131.5M162.2 131.5L163.6 129.5M154.3 166.4L154.7 173.0M92.9 50.7L92.3 47.3M93.0 46.8L92.3 47.3M94.1 44.4L93.2 42.0M91.7 35.9L91.1 41.3M93.2 42.0L91.1 41.3M84.4 87.4L82.7 87.9M82.7 87.9L80.0 82.3M80.0 82.3L82.8 79.8M83.7 77.6L82.8 79.8M86.4 87.8L84.4 87.4M81.9 89.0L82.7 87.9M77.7 81.9L80.0 82.3M94.6 72.1L94.6 65.9M94.5 72.1L90.4 70.4M90.4 70.4L92.7 64.9M92.7 64.9L94.6 65.9M96.7 73.1L94.6 72.1M97.3 65.7L94.6 65.9M92.4 64.6L92.7 64.9M145.0 31.1L146.1 30.6M145.0 31.1L142.7 29.9M142.7 29.9L143.1 25.1M143.2 36.6L139.4 36.4M143.2 36.6L145.1 32.1M138.9 35.2L139.9 30.9M145.1 32.1L145.0 31.1M139.9 30.9L142.7 29.9M156.5 36.8L154.7 40.1M154.7 40.1L150.7 38.6M150.7 38.6L150.3 35.6M151.6 30.9L146.1 30.6M148.2 35.7L150.3 35.6M152.2 30.2L151.6 27.3M151.6 27.3L149.5 25.1M147.5 0.1L142.6 -1.4M142.2 -2.5L142.6 -1.4M123.6 3.4L123.1 2.6M125.7 -1.4L130.1 0.7M131.3 7.3L129.8 1.9M122.7 8.4L124.9 8.8M120.1 9.9L122.7 8.4M118.6 3.4L120.9 1.9M132.2 -0.6L130.1 0.7M118.1 -2.6L120.2 -0.2M120.2 -0.2L124.9 -3.9M115.6 -1.8L114.4 0.1M115.6 -1.8L118.1 -2.6M167.1 67.5L169.0 72.4M169.0 72.4L164.3 74.9M164.3 74.9L162.8 73.6M169.0 72.4L171.6 73.6M164.3 74.9L165.1 76.9M167.1 66.5L167.1 67.5M163.4 64.7L161.7 65.4M160.2 72.1L161.6 73.4M144.0 66.9L145.7 67.9M147.4 61.7L149.8 65.9M149.8 65.9L145.7 67.9M150.5 59.9L147.4 61.7M149.8 65.9L152.2 67.3M116.3 20.9L120.1 21.9M120.1 21.9L120.9 25.2M102.6 35.9L105.5 35.3M106.6 29.0L107.4 29.9M112.4 27.9L111.2 29.4M107.4 29.9L111.2 29.4M115.5 35.9L112.6 35.5M118.3 31.3L117.7 30.1M108.9 42.2L108.8 42.1M108.9 42.2L111.7 42.9M111.7 42.9L113.0 42.7M113.0 42.7L111.6 36.1M108.6 45.2L108.9 42.2M103.0 42.8L108.8 42.1M111.4 48.7L111.7 42.9M105.5 35.3L109.1 36.9M112.6 35.5L111.6 36.1M80.1 26.9L80.2 31.0M85.1 31.6L81.8 32.4M62.1 29.4L62.1 25.8M62.1 25.8L65.1 23.9M67.4 25.7L65.1 23.9M66.2 36.5L68.4 35.2M71.9 44.5L72.9 40.0M87.2 37.0L86.0 37.4M87.6 9.3L85.9 9.9M87.2 18.0L83.5 14.1M85.9 9.9L83.5 14.1M45.2 22.6L45.4 23.7M44.2 21.4L40.8 21.0M40.8 21.0L37.7 24.4M37.7 24.4L38.3 25.8M49.8 20.2L53.1 22.7M49.8 20.2L45.2 22.6M46.1 25.9L45.4 23.7M46.1 25.9L53.1 22.7M53.1 22.7L53.1 22.7M49.8 20.2L51.1 15.5M49.2 14.4L51.1 15.5M49.2 14.4L47.5 14.7M47.5 14.7L45.0 15.4M42.0 13.3L38.3 14.7M39.6 19.8L40.8 21.0M65.9 28.9L68.2 31.9M68.4 35.2L68.2 31.9M64.3 41.1L59.4 39.6M63.0 35.0L59.4 39.6M57.2 34.4L55.4 39.1M57.2 34.4L62.4 34.4M55.4 39.4L55.4 39.1M38.7 27.9L44.5 28.8M36.3 30.8L38.7 27.9M62.1 29.4L56.7 28.9M58.7 24.0L62.1 25.8M58.7 24.0L55.8 26.1M46.2 26.4L51.4 27.5M51.4 27.5L54.9 25.7M50.2 44.0L52.1 40.3M46.6 7.9L49.5 10.0M49.5 10.0L50.6 9.3M49.2 14.4L49.5 10.0M47.5 14.7L45.3 7.7M45.3 7.7L46.6 7.9M46.8 -4.8L45.3 -1.2M86.7 64.9L85.4 61.7M80.9 63.5L81.6 62.2M81.6 62.2L85.4 61.7M88.2 58.8L88.0 58.8M88.0 58.8L85.4 61.7M92.3 47.3L89.3 47.1M89.3 47.1L86.6 44.8M77.5 46.0L84.1 44.8M77.5 46.0L76.5 45.0M83.0 41.6L80.3 40.0M78.2 40.2L80.3 40.0M77.1 38.9L78.2 40.2M84.1 44.9L86.6 44.8M84.1 44.9L84.1 44.8M81.9 36.0L80.3 40.0M77.1 38.9L76.7 36.0M160.4 -2.3L154.8 -3.0M158.9 2.0L160.4 -2.3M148.2 1.3L147.5 0.1M163.4 64.7L163.5 62.1M157.1 59.9L156.2 62.0M159.3 64.9L156.2 62.0M163.5 62.1L162.8 58.7M166.6 15.8L166.9 10.4M166.6 15.8L172.8 12.5M172.8 12.3L169.2 9.3M166.3 16.2L166.6 15.8M169.3 5.2L169.2 9.3M161.8 13.6L164.6 9.7M160.2 5.5L159.3 5.5M161.7 14.1L161.8 13.6M157.4 5.8L156.3 10.9M156.3 10.9L157.5 13.5M158.6 5.4L159.3 5.5M168.0 4.8L163.0 6.6M164.8 0.4L160.2 5.5M66.5 125.6L70.9 118.9M71.5 127.7L73.3 124.0M79.0 111.2L75.6 117.8M70.9 113.7L71.7 117.0M75.6 117.8L71.7 117.0M71.7 117.0L71.0 118.2M70.7 132.8L71.1 132.2M77.6 134.7L77.2 133.3M71.5 127.7L71.7 128.0M71.1 132.2L71.7 128.0M16.6 122.3L14.4 127.1M21.6 123.3L19.7 128.6M47.3 126.4L44.4 129.1M44.7 134.1L44.4 129.1M28.5 96.7L25.3 99.0M25.7 100.5L25.3 99.0M25.6 91.9L23.0 97.5M25.3 99.0L23.0 97.5M27.1 105.3L27.8 111.4M27.1 105.3L25.3 103.7M25.3 103.7L24.1 104.4M24.1 104.4L22.4 107.2M27.8 111.4L24.3 112.2M29.1 112.0L27.8 111.4M29.5 105.2L27.1 105.3M31.2 111.0L32.2 107.8M19.9 103.3L24.1 104.4M22.2 97.3L23.0 97.5M18.3 103.5L19.9 103.3M18.1 106.2L22.4 107.2M40.2 115.0L36.3 110.8M42.3 109.2L38.0 107.5M36.3 110.8L37.6 107.6M38.0 107.5L37.6 107.6M47.1 113.6L42.1 112.5M43.9 108.0L42.3 109.2M35.1 105.8L37.6 107.6M46.2 96.7L43.7 91.3M51.3 91.2L47.3 89.4M47.3 89.4L43.7 91.3M45.9 97.1L41.1 96.0M40.5 91.2L41.1 90.9M41.1 90.9L43.7 91.3M40.6 96.7L36.3 98.5M40.6 96.7L43.1 102.0M35.3 96.5L36.3 98.5M35.0 91.5L40.5 91.2M44.0 102.2L43.1 102.0M34.0 102.3L36.4 99.8M38.0 107.5L40.9 102.3M67.9 50.5L68.4 48.1M67.9 50.5L70.1 52.8M70.1 52.8L72.7 49.6M65.2 46.3L68.4 48.1M67.8 56.3L70.5 54.7M72.1 44.8L72.0 44.9M69.6 62.3L72.9 58.4M70.5 54.7L71.0 54.9M72.9 58.4L71.0 54.9M75.8 63.0L75.6 59.3M132.9 63.8L130.3 64.5M132.9 63.8L136.1 67.8M130.4 68.2L133.8 70.2M133.9 71.4L133.8 70.2M135.9 73.2L141.2 72.9M136.7 62.4L134.7 61.7M141.1 58.0L139.2 58.3M138.4 64.0L136.7 62.4M140.5 51.7L140.5 51.8M132.6 57.0L133.4 57.5M132.9 63.8L134.7 61.7M136.8 96.5L139.3 96.6M139.3 96.6L141.3 99.6M141.3 99.6L141.4 100.6M135.5 100.8L138.4 102.8M130.9 96.1L130.8 92.6M146.3 92.2L147.0 93.4M146.3 92.2L142.8 91.3M147.2 95.2L141.3 99.6M148.3 98.5L148.6 97.8M148.6 97.8L147.2 95.2M145.1 106.3L144.1 107.0M127.3 100.9L126.6 96.8M121.7 100.8L122.7 96.6M126.6 96.8L126.0 96.1M126.0 96.1L123.2 95.4M122.7 96.6L123.2 95.4M130.9 96.1L126.6 96.8M120.0 101.7L115.2 96.1M115.2 96.1L115.3 96.1M128.7 92.9L126.0 96.1M121.7 91.3L115.3 96.1M116.3 85.1L114.9 87.2M114.9 87.2L114.1 87.2M114.1 87.2L111.1 83.9M112.4 81.8L111.3 82.9M111.3 82.9L111.1 83.9M116.7 81.3L116.2 81.8M104.5 82.6L108.9 85.9M164.0 87.1L164.3 86.7M164.3 86.7L164.0 83.7M164.0 83.7L161.6 82.2M163.0 91.9L163.5 92.2M159.0 91.4L159.4 87.4M169.3 82.5L169.0 87.2M170.2 81.6L166.9 77.7M170.2 81.6L169.3 82.5M165.1 76.9L161.5 81.9M161.5 81.9L161.6 82.2M142.2 79.8L147.8 80.3M142.0 84.1L148.6 85.5M161.5 81.9L158.8 79.9M158.8 79.9L154.1 82.2M159.0 85.7L153.6 84.9M154.1 82.2L153.6 84.9M158.0 91.9L159.0 91.4M158.0 91.9L154.8 90.0M153.6 84.9L152.5 86.2M146.3 92.2L149.6 86.6M151.2 93.2L147.0 93.4M146.6 114.0L149.2 106.9M151.3 113.0L150.7 106.7M149.2 106.9L150.7 106.7M153.5 114.9L151.3 113.0M146.9 106.3L149.2 106.9M155.4 107.1L155.3 107.0M155.3 107.0L150.8 106.7M150.9 105.4L150.8 106.7M158.0 91.9L157.0 95.1M151.2 93.2L154.7 95.8M155.3 107.0L157.0 101.4M150.9 105.4L153.0 99.8M152.3 98.5L153.0 99.8M164.7 97.7L161.4 101.7M158.7 98.0L158.7 100.2M167.7 98.8L164.7 97.7M163.5 92.2L163.5 96.3M125.0 135.6L122.5 140.9M125.0 135.6L123.8 133.5M123.8 133.5L123.4 133.2M122.5 140.9L117.5 137.0M117.5 137.0L123.1 133.2M123.4 133.2L123.1 133.2M117.2 136.9L117.5 137.0M118.8 129.6L123.1 133.2M17.1 70.0L15.2 67.4M17.1 70.0L15.0 74.7M15.0 74.7L10.2 71.5M15.2 67.4L13.4 66.1M13.4 66.1L12.5 65.8M17.5 70.0L17.1 70.0M20.1 64.2L15.2 67.4M15.0 75.2L15.0 74.7M9.9 71.6L9.2 75.8M16.2 58.8L12.2 64.0M36.6 49.1L34.8 51.6M29.5 50.9L34.8 51.6M36.1 56.2L34.8 51.6M13.6 87.3L18.2 82.7M13.6 87.3L13.6 87.3M13.6 87.3L20.2 88.0M20.0 82.9L20.4 87.8M14.5 80.8L18.2 82.7M11.1 90.5L12.2 90.7M12.2 90.7L13.6 87.3M21.3 81.7L20.0 82.9M24.8 87.9L20.4 87.8M19.8 90.9L20.2 88.0M15.6 100.6L15.8 99.3M22.2 97.3L20.4 96.6M15.8 99.3L20.4 96.6M19.8 90.9L19.2 92.2M-0.1 103.4L0.9 107.8M0.8 101.7L-0.1 99.0M1.2 101.7L6.8 96.3M-0.1 99.0L5.2 94.3M5.2 94.3L6.8 96.3M-0.3 98.8L-0.1 99.0M13.0 46.2L11.0 51.1M11.0 51.1L13.8 53.4M13.8 56.2L13.8 53.4M38.3 5.0L44.7 3.8M44.7 3.8L45.0 7.6M45.0 7.6L42.4 9.3M45.3 7.7L45.0 7.6M51.0 3.6L50.1 2.7M50.1 2.7L45.8 0.2M45.8 0.2L44.7 3.8M30.9 2.4L33.3 0.8M33.3 0.8L38.0 3.8M38.0 3.8L38.0 4.7M38.0 4.7L37.8 4.8M30.6 8.0L35.1 9.7M39.5 0.4L44.3 -1.1M45.8 0.2L45.3 -1.2M35.4 10.3L41.5 8.7M29.7 35.1L29.8 31.8M24.4 34.1L23.9 31.4M36.1 14.1L36.4 14.3M36.2 20.3L34.4 18.5M20.4 29.8L20.0 26.2M14.0 28.8L15.6 25.6M52.1 70.8L52.0 70.8M52.0 70.8L47.5 75.7M46.9 76.1L41.3 78.8M41.3 78.8L40.1 78.0M45.3 73.7L47.2 75.8M42.3 43.3L46.4 43.7M46.4 43.7L46.6 43.6M46.6 43.6L46.6 42.9M46.6 42.9L42.3 36.6M41.9 36.5L42.3 36.6M41.4 44.4L42.3 43.3M45.8 49.3L46.4 43.7M50.2 44.0L46.6 43.6M37.1 35.1L37.1 35.1M41.2 35.9L41.9 36.5M52.1 40.3L49.8 38.5M47.5 38.8L46.6 42.9M44.5 36.7L42.3 36.6M44.5 36.7L47.5 38.8M9.7 163.2L9.7 163.2M9.7 163.2L14.7 162.4M15.6 166.8L14.7 162.4M5.0 170.4L3.4 167.2M3.4 167.2L7.4 163.3M11.5 171.7L11.1 166.3M5.0 171.2L5.0 170.4M16.8 167.7L15.6 166.8M19.2 153.4L19.4 154.0M13.1 158.2L16.5 160.4M16.9 160.3L16.5 160.4M11.3 154.4L10.6 157.3M10.6 157.3L13.1 158.2M19.4 162.2L16.9 160.3M9.7 158.1L10.6 157.3M9.7 158.1L9.7 163.2M14.7 162.4L16.5 160.4M33.9 137.9L34.7 138.7M37.0 132.3L39.9 134.2M39.5 137.7L39.9 134.2M36.1 142.3L34.7 138.7M41.2 140.4L39.5 137.7M33.4 129.7L36.9 131.8M36.9 131.8L37.0 132.3M44.7 134.1L39.9 134.2M26.4 151.6L26.0 147.6M28.0 153.8L31.3 149.0M26.0 147.6L31.3 149.0M25.0 146.1L26.0 147.6M19.2 153.4L26.4 151.6M32.7 148.7L31.3 149.0M28.3 142.6L26.4 143.2M50.0 154.7L46.4 162.3M46.8 163.2L46.4 162.3M49.9 163.1L51.7 161.9M46.4 162.3L46.4 162.3M55.6 149.1L50.9 154.9M54.5 156.5L51.0 154.9M55.7 160.7L51.7 161.9M109.7 165.1L109.1 166.6M114.4 168.1L111.4 169.7M105.6 161.6L105.9 166.1M88.3 168.4L93.3 171.5M95.8 164.4L96.1 164.9M96.1 164.9L93.7 171.5M140.1 153.1L137.0 153.1M134.4 157.4L129.4 156.6M101.4 138.2L102.6 138.9M102.6 138.9L101.6 143.7M97.4 139.7L97.3 140.5M99.1 144.4L101.1 144.4M101.1 144.4L101.6 143.7M105.2 139.7L102.6 138.9M100.0 131.4L102.2 132.5M96.8 138.9L97.4 139.7M96.7 149.4L99.1 144.4M106.2 126.3L107.7 125.4M106.2 126.3L102.9 124.8M102.9 124.8L102.7 121.5M99.8 126.5L102.9 124.8M101.6 120.1L102.7 121.5M108.5 118.1L106.0 115.5M101.6 120.1L103.5 117.0M115.0 103.7L111.1 100.2M111.3 107.9L111.1 100.2M106.0 111.0L107.3 108.3M111.3 107.9L107.3 108.3M157.4 123.1L157.6 123.5M152.7 128.6L155.6 128.7M157.8 132.3L156.5 129.3M155.6 128.7L156.5 129.3M163.6 128.5L161.5 127.1M163.6 128.5L166.9 125.9M163.4 121.2L167.0 125.7M163.4 121.2L160.3 125.0M167.0 125.7L166.9 125.9M163.6 129.5L163.6 128.5M156.5 129.3L161.5 127.1M170.6 131.0L166.9 125.9M163.2 118.5L163.4 121.2M168.5 124.7L167.0 125.7M28.6 -1.4L30.9 2.4M29.9 5.2L28.1 5.0M25.1 0.4L26.0 3.7M28.1 5.0L26.0 3.7M8.8 22.8L6.2 19.5M6.2 19.5L5.7 17.9M15.4 17.3L11.8 14.2M15.4 17.3L15.3 19.3M11.7 20.8L14.8 20.2M15.3 19.3L14.8 20.2M9.0 17.1L11.8 14.2M15.4 17.3L20.2 13.7M20.2 13.7L20.1 12.2M162.3 41.1L158.7 44.2M152.2 45.6L156.9 45.7M154.7 40.3L157.8 44.5M154.7 40.3L154.7 40.1M162.3 41.1L162.9 40.5M158.7 44.2L157.8 44.5M151.3 56.1L152.7 55.0M146.8 54.7L147.7 50.2M151.9 50.8L150.4 49.5M149.6 49.5L150.4 49.5M146.6 54.7L146.8 54.7M150.5 59.9L151.3 56.1M154.5 62.5L156.2 62.0M155.7 55.5L152.7 55.0M143.8 48.7L147.7 50.2M152.2 45.6L150.4 49.5M157.0 48.8L156.9 45.7M157.0 48.8L151.9 50.8M147.2 44.4L149.6 49.5M149.2 40.5L146.0 37.5M148.3 42.8L148.6 42.7M148.3 42.8L144.4 40.6M148.2 35.7L146.0 37.5M147.2 44.4L148.3 42.8M141.8 42.4L144.4 40.6M143.2 36.6L144.6 37.8M134.4 10.2L135.8 12.8M138.0 8.1L140.1 8.1M135.8 12.8L140.8 13.4M140.8 13.4L141.1 12.7M148.4 15.4L152.1 15.5M152.1 15.5L153.5 11.5M153.4 11.5L153.5 11.5M140.8 13.4L140.9 13.7M147.6 16.7L148.4 15.4M151.2 5.3L153.4 11.5M147.5 6.9L147.4 10.1M156.3 10.9L153.5 11.5M156.3 15.2L153.8 16.3M154.3 20.3L149.7 21.7M154.3 20.3L155.8 21.3M149.7 21.7L154.7 24.8M156.7 23.6L154.7 24.8M158.3 18.8L155.8 21.3M151.6 27.3L154.7 24.8M157.3 24.0L156.7 23.6M140.9 0.9L138.5 1.7M140.9 0.9L143.3 6.2M143.3 6.2L141.1 7.1M141.1 7.1L137.5 2.4M137.5 2.4L138.5 1.7M142.6 -1.4L140.9 0.9M147.5 6.9L143.3 6.2M161.6 73.4L159.7 76.5M158.8 79.9L158.7 79.5M159.7 76.5L158.7 79.5M116.6 16.1L121.6 17.2M120.1 21.9L121.3 20.8M121.6 17.2L123.8 15.4M126.4 26.2L127.4 26.7M127.6 27.7L127.4 26.7M127.6 27.7L125.3 31.6M120.9 25.2L123.9 26.4M121.3 20.8L125.6 21.3M125.6 34.2L125.3 31.6M131.4 33.1L131.1 32.3M131.4 33.1L132.1 33.4M131.1 32.3L134.1 25.4M132.1 33.4L137.1 28.8M137.1 28.8L136.4 26.9M136.4 26.9L134.1 25.4M128.1 35.0L131.4 33.1M127.6 27.7L131.1 32.3M132.7 23.9L134.1 25.4M75.8 29.5L73.9 34.3M78.3 31.8L75.5 34.6M76.7 36.0L75.5 34.6M80.2 31.0L78.3 31.8M67.4 25.7L68.7 25.7M68.2 31.9L70.8 27.9M73.2 34.2L72.6 28.2M72.6 28.2L75.0 26.9M76.0 25.8L75.0 26.9M80.2 20.0L74.8 22.0M80.2 20.0L80.0 16.5M48.1 33.9L50.3 34.8M50.3 34.8L51.2 34.5M53.2 32.3L51.9 30.9M44.5 36.7L48.1 33.9M49.8 38.5L50.3 34.8M54.9 25.7L55.8 26.1M89.3 47.1L87.8 50.5M84.1 44.9L83.3 50.9M83.3 50.9L87.8 50.5M90.4 53.0L88.8 52.4M88.0 58.8L85.1 55.9M163.7 48.0L166.5 43.8M168.4 50.5L168.8 46.8M163.5 48.8L163.6 49.6M163.3 40.4L165.8 41.1M166.5 43.8L165.8 41.1M170.1 37.3L167.7 40.4M170.0 51.7L169.1 51.3M76.2 123.2L76.8 118.6M80.2 123.8L82.0 119.9M76.8 118.6L81.8 118.7M73.3 124.0L76.2 123.2M87.1 124.9L82.0 119.9M87.1 126.2L84.2 126.9M77.9 130.6L77.1 128.6M82.7 128.0L78.2 126.8M82.7 128.0L81.8 130.8M77.2 133.3L77.9 130.6M71.7 128.0L77.1 128.6M84.2 126.9L82.7 128.0M78.4 124.9L78.2 126.8M24.2 126.5L23.5 130.1M19.7 128.6L19.9 129.0M23.5 130.1L26.2 132.8M23.9 138.2L24.5 134.9M30.2 139.4L26.0 133.4M26.2 132.8L26.0 133.4M18.8 137.6L15.8 137.3M18.8 137.6L20.4 134.6M20.4 134.6L18.3 133.1M15.8 137.3L15.0 134.2M24.5 134.9L20.4 134.6M44.5 119.0L44.1 119.1M43.7 122.8L44.1 119.1M33.1 117.1L37.0 122.3M37.0 122.3L36.8 123.2M37.0 122.3L40.3 117.1M50.5 82.7L47.1 88.3M75.7 51.3L74.8 53.6M74.8 53.6L78.6 57.0M81.9 52.7L82.1 54.8M80.3 56.7L78.6 57.0M77.5 46.0L78.0 49.8M83.3 50.9L81.9 52.7M81.6 62.2L80.3 56.7M111.0 89.6L113.3 94.4M108.6 88.8L105.8 90.3M113.4 95.8L113.3 94.4M105.0 91.3L105.0 92.2M116.4 89.2L113.3 94.4M108.9 85.9L108.6 88.8M115.2 96.1L113.4 95.8M110.9 98.3L111.0 100.0M110.9 98.3L111.5 97.1M111.1 100.2L111.0 100.0M102.8 95.8L105.0 92.2M102.8 95.8L97.9 95.3M28.7 51.5L32.5 57.2M32.5 57.2L30.1 59.7M28.0 58.2L29.0 59.7M30.1 59.7L29.0 59.7M24.6 51.7L27.1 52.0M29.5 50.9L28.7 51.5M36.1 56.2L32.5 57.2M31.3 61.4L30.1 59.7M25.8 62.3L29.0 59.7M12.8 91.7L8.8 97.4M13.2 91.9L15.3 98.8M15.8 99.3L15.3 98.8M-4.4 49.6L0.4 50.5M-4.3 48.0L-1.5 43.8M0.4 50.5L0.8 46.8M0.8 46.8L-1.5 43.8M-2.2 41.1L-1.5 43.8M-0.3 40.4L-2.2 41.1M7.3 66.2L5.5 59.7M12.2 64.0L10.0 59.6M13.8 56.2L12.7 56.6M10.0 59.6L12.7 56.6M-4.0 36.8L-0.8 33.6M-1.1 31.0L-0.8 33.6M2.1 37.3L2.1 37.1M8.3 36.5L3.7 35.6M2.1 37.1L3.7 35.6M29.8 31.8L30.7 31.1M21.6 24.9L20.0 26.2M31.0 26.0L27.0 26.6M31.1 20.2L29.7 19.5M31.1 20.2L32.8 24.3M28.0 20.0L27.4 20.7M30.7 31.1L31.0 26.0M26.7 28.9L27.0 26.6M36.1 14.1L29.7 14.1M34.4 18.5L31.1 20.2M22.6 15.8L23.5 15.9M23.5 15.9L28.0 20.0M8.7 30.5L8.7 24.7M8.7 30.5L5.4 30.7M5.4 30.7L2.6 24.8M2.6 24.4L8.5 24.2M8.5 24.2L8.7 24.7M9.8 31.2L8.7 30.5M3.7 35.6L5.4 30.7M-1.1 31.0L-1.0 30.9M-0.9 28.3L2.6 24.8M-0.9 28.3L-1.0 30.9M8.8 22.8L8.5 24.2M2.5 24.2L6.2 19.5M2.5 24.2L2.6 24.4M46.1 65.9L49.6 67.0M49.6 67.0L50.4 69.1M41.8 68.3L43.5 68.1M45.3 73.7L45.8 70.5M47.5 75.7L47.2 75.8M9.7 158.1L5.2 157.3M7.4 163.3L5.1 162.1M5.1 162.1L5.2 157.3M4.7 157.0L-0.9 160.9M99.1 167.2L97.2 172.1M102.8 167.6L103.1 170.5M96.1 164.9L99.1 167.2M103.0 167.4L102.8 167.6M131.2 151.2L136.1 152.0M130.6 154.1L136.7 152.7M136.1 152.0L136.7 152.7M129.2 148.8L131.2 151.2M107.3 108.3L106.1 105.6M105.8 111.2L103.7 111.2M103.7 111.2L98.8 114.4M95.6 111.9L98.3 114.5M98.3 114.5L98.8 114.4M25.1 0.4L23.4 -0.4M21.4 5.1L26.0 3.7M21.4 5.1L21.4 5.0M21.4 5.0L20.9 1.8M16.8 -0.1L20.9 1.8M16.8 -0.3L20.1 -4.3M22.3 9.7L22.6 9.4M22.6 9.4L23.5 9.1M23.5 9.1L29.1 10.8M29.0 13.3L27.5 13.7M23.5 15.9L27.5 13.7M21.4 5.1L22.6 9.4M28.1 5.0L23.5 9.1M29.7 14.1L29.0 13.3M0.0 4.8L-5.0 6.6M-1.7 16.2L-0.5 19.5M-0.9 28.3L-4.7 23.4M2.5 24.2L-0.8 20.9M-1.4 15.8L-1.1 10.4M4.8 12.5L4.8 12.3M4.8 12.3L1.2 9.3M-3.4 9.7L-1.1 10.4M5.7 17.8L4.8 12.5M10.3 12.0L11.7 13.8M10.3 12.0L6.9 11.1M6.9 11.1L4.8 12.3M6.9 11.1L7.2 4.8M5.0 3.2L7.2 4.8M163.4 57.2L164.3 57.0M163.4 57.2L161.6 54.8M163.6 49.6L162.1 50.8M164.3 57.0L169.1 51.3M155.7 55.5L156.5 55.0M140.9 13.7L140.2 18.3M139.4 18.3L140.2 18.3M139.4 18.3L133.3 18.8M146.9 19.2L142.6 21.0M132.7 23.9L133.1 21.2M133.1 21.2L141.7 22.9M143.1 25.1L142.0 22.8M142.6 21.0L142.0 22.8M141.7 22.9L142.0 22.8M141.2 72.9L142.3 74.3M145.7 67.9L146.7 69.9M146.7 69.9L144.9 73.2M144.9 73.2L142.3 74.3M141.8 77.4L142.2 75.9M142.3 74.3L142.2 75.9M152.2 67.3L152.2 67.5M146.7 69.9L151.9 70.7M152.2 67.5L151.9 70.7M159.3 64.9L156.9 67.4M152.2 67.5L156.9 67.4M126.3 20.2L125.3 15.6M126.3 20.2L132.9 19.9M129.0 14.6L126.8 14.7M126.8 14.7L125.3 15.6M123.8 15.4L125.3 15.6M133.3 18.8L133.2 19.0M125.9 9.5L126.8 14.7M50.1 2.7L52.7 -1.9M61.6 16.1L56.0 16.0M56.3 17.5L56.0 16.0M56.3 17.5L59.2 21.2M59.2 21.2L63.1 20.2M64.8 20.7L66.8 19.1M64.8 20.7L63.1 20.2M66.7 18.0L66.8 19.1M66.7 18.0L64.3 13.9M64.3 13.9L64.1 14.0M55.5 15.3L56.0 16.0M74.7 21.8L71.9 21.2M74.7 21.8L75.9 16.5M75.9 16.5L72.0 15.9M72.0 15.9L71.2 20.3M71.2 20.3L71.9 21.2M76.5 15.9L80.0 16.5M76.5 15.9L75.9 16.5M70.8 13.2L66.7 18.0M76.5 15.9L75.5 11.7M75.5 11.7L70.8 12.1M70.0 -2.7L70.1 -2.8M169.1 60.2L170.6 61.0M163.5 62.1L169.1 60.2M170.0 51.7L171.1 54.7M41.0 125.5L38.6 129.8M36.8 123.2L37.8 130.2M44.4 129.1L43.6 128.8M36.8 123.2L36.8 123.2M36.9 131.8L37.8 130.2M45.0 85.4L46.1 82.3M42.2 80.8L46.0 82.2M46.0 82.2L46.1 82.3M40.4 84.6L41.5 86.0M47.1 88.3L45.0 85.4M41.1 90.9L41.5 86.0M41.3 78.8L42.2 80.8M1.1 60.2L-0.7 58.0M-0.7 58.0L-3.7 57.0M-0.9 66.5L0.4 66.0M-0.9 66.5L-0.9 67.5M5.0 67.7L5.4 72.0M1.0 72.4L3.6 73.6M3.6 73.6L4.4 73.6M1.1 60.2L2.6 61.0M2.6 61.0L0.4 66.0M5.5 59.7L2.6 61.0M9.9 71.6L5.4 72.0M-1.1 77.7L3.6 73.6M3.1 54.7L2.0 51.7M5.2 57.2L8.6 53.9M2.0 51.7L6.3 49.9M6.3 49.9L8.3 51.7M-0.7 58.0L3.1 54.7M-3.7 57.0L1.1 51.3M1.1 51.3L2.0 51.7M5.6 59.6L5.2 57.2M12.7 56.6L8.6 53.9M11.0 51.1L8.3 51.7M3.4 167.2L0.4 163.4M3.4 167.2L-2.0 169.3M0.4 163.4L-1.4 162.4M-1.4 162.4L-4.0 163.6M-3.2 168.4L-2.0 169.3M5.1 162.1L0.4 163.4M-0.9 160.9L-1.4 162.4M101.4 101.1L104.9 103.5M110.9 98.3L106.4 98.9M106.1 105.5L104.9 103.5M102.8 95.8L103.2 97.5M99.2 101.5L96.0 107.1M99.2 101.5L100.3 101.5M98.9 108.0L96.5 107.9M96.0 107.1L96.5 107.9M96.0 98.4L99.2 101.5M93.8 105.8L96.0 107.1M106.1 105.6L101.3 106.0M103.7 111.2L98.9 108.0M15.8 7.8L12.0 9.3M15.8 7.8L16.0 5.7M16.0 5.7L14.9 4.0M14.9 4.0L11.5 3.7M9.7 4.6L11.5 3.7M10.3 12.0L12.0 9.3M7.2 4.8L9.7 4.6M15.6 -1.2L11.1 -1.7M5.0 3.2L5.0 2.4M5.0 2.4L10.2 -2.6M149.1 74.5L148.0 76.9M149.1 74.5L152.7 73.0M153.5 74.5L153.5 74.8M153.5 74.5L153.3 73.4M153.5 74.8L152.2 79.4M153.3 73.4L152.7 73.0M148.3 79.9L152.2 79.4M144.9 73.2L149.1 74.5M151.9 70.7L152.7 73.0M159.7 76.5L153.5 74.5M88.2 0.2L81.4 1.3M80.6 -4.8L80.7 0.6M81.4 1.3L80.7 0.6M69.9 11.1L66.7 10.9M70.6 4.0L71.9 4.9M64.3 13.9L66.7 10.9M70.8 12.1L69.9 11.1M68.4 1.0L70.6 4.0M64.9 3.2L66.0 6.6M59.2 4.7L61.6 6.5M56.0 4.3L56.0 4.2M56.0 4.3L55.3 9.0M55.3 9.0L56.5 12.1M62.4 7.9L59.7 11.2M56.5 12.1L59.7 11.2M63.8 0.4L59.2 4.7M51.0 3.6L56.0 4.3M50.6 9.3L55.3 9.0M55.5 15.3L56.5 12.1M0.4 -4.6L3.4 -0.8M3.4 -0.8L7.4 -4.7M-2.0 1.3L3.4 -0.8M5.0 2.4L3.4 -0.8M56.7 -4.5L56.1 -0.6M56.1 -0.6L56.6 0.3M56.6 0.3L62.4 -1.7M62.5 -2.3L62.4 -1.7M52.7 -1.9L56.1 -0.6M56.0 4.2L56.6 0.3M70.0 -2.7L68.4 1.0M81.9 7.4L77.8 9.8M81.9 7.4L81.9 3.4M81.9 14.3L77.8 9.8M81.4 1.3L81.4 1.4M75.5 11.7L77.7 9.8M72.9 4.7L76.3 7.0M72.9 4.7L71.9 4.9M72.9 -3.5L74.8 2.1M72.9 -3.5L80.1 0.6M72.9 4.7L74.8 2.1M80.7 0.6L80.1 0.6" stroke="#a87ecc" stroke-width="1.35" fill="none" stroke-dasharray="2.6 1.0"/>
<path d="M133.6 143.6L137.3 144.3M70.8 74.1L71.6 77.0M76.5 71.1L76.0 76.4M10.5 136.6L7.3 139.0M13.3 140.8L7.2 140.2M62.4 166.3L56.6 168.3M63.8 168.4L59.2 172.7M171.4 153.0L168.2 152.1M160.7 156.2L166.0 156.8M80.7 70.4L76.5 71.1M80.7 70.4L81.7 75.4M76.0 76.4L77.2 77.4M60.3 110.5L58.0 110.7M51.8 79.4L55.5 75.7M59.8 80.9L62.3 79.9M80.7 70.3L75.1 63.8M61.9 108.2L67.2 107.3M77.2 110.8L75.4 105.9M119.9 77.0L117.1 78.8M116.4 72.6L113.2 75.3M133.4 84.5L133.7 83.5M133.4 84.5L128.2 87.0M133.7 83.5L133.5 82.2M133.5 82.2L132.9 80.4M125.9 81.1L125.8 81.2M126.0 77.0L130.3 74.9M126.0 77.0L125.9 81.1M130.3 74.9L133.1 79.8M146.2 114.4L146.6 116.3M-1.1 77.7L2.2 81.6M-5.5 135.4L0.1 135.8M26.4 161.9L29.3 162.8M24.4 157.9L31.3 158.1M5.6 146.4L1.2 146.7M-4.7 145.4L-0.0 145.2M67.5 137.4L66.6 143.4M72.5 140.1L72.5 140.2M64.4 113.4L66.3 118.6M66.3 118.6L63.5 120.4M63.4 120.3L63.5 120.4M31.5 161.9L34.9 163.1M62.5 165.7L62.4 166.3M56.7 163.5L56.1 167.4M68.4 169.0L70.6 172.0M80.1 168.6L74.8 170.1M80.1 168.6L72.9 164.5M82.6 155.5L86.8 152.6M86.4 158.1L82.8 156.4M76.7 157.8L76.6 153.8M82.6 155.5L79.5 152.7M122.2 152.8L116.8 153.6M106.5 151.8L105.5 154.3M106.5 151.8L104.1 148.6M104.1 148.6L100.8 149.8M105.5 154.3L102.9 153.4M93.8 127.0L93.1 127.1M92.4 121.7L95.1 121.0M168.0 145.2L169.2 146.7M138.2 133.3L140.9 134.6M138.2 133.3L133.5 137.3M139.1 139.1L133.7 137.7M156.1 148.3L159.6 146.8M159.6 146.8L162.1 147.5M156.6 153.2L156.8 152.9M160.4 156.4L160.7 156.2M164.0 150.9L162.3 148.9M148.0 149.3L143.1 147.8M148.0 149.3L147.9 150.0M173.1 162.1L168.4 163.4M166.6 162.4L168.4 163.4M112.1 75.4L113.2 75.3M110.2 70.0L112.4 67.4M88.5 65.8L86.7 64.9M86.7 64.9L81.7 67.4M106.4 50.0L102.5 50.9M102.5 50.9L103.8 56.0M111.1 57.3L111.2 58.2M103.8 56.0L103.5 56.8M92.9 59.9L95.1 59.2M90.8 54.3L93.0 55.3M102.4 59.1L102.3 58.3M102.3 58.3L98.0 55.4M133.1 39.3L132.5 33.8M133.1 39.3L138.3 39.2M112.9 21.7L115.5 20.5M112.4 22.0L112.9 21.7M109.4 15.3L109.5 15.2M112.4 22.0L112.4 25.4M117.3 25.6L116.3 20.9M116.3 20.9L115.5 20.5M100.7 44.8L100.1 49.8M105.6 20.9L105.3 20.8M97.2 4.1L93.7 3.5M99.7 6.4L100.1 6.3M102.8 -0.4L103.1 2.5M100.1 6.3L103.1 2.5M102.1 15.4L102.3 14.3M102.1 15.4L97.0 18.0M95.0 16.4L93.5 14.2M102.3 14.3L98.8 11.0M99.7 6.4L98.7 8.3M164.0 -4.4L164.8 0.4M169.3 5.2L168.0 4.8M10.2 122.2L9.9 127.2M16.3 121.8L15.5 118.7M10.3 134.0L9.9 127.2M9.9 127.2L9.9 127.2M4.7 130.6L6.8 127.8M14.3 141.7L14.2 141.4M40.5 74.1L39.8 76.4M39.8 76.4L33.7 74.3M33.4 129.7L29.7 129.1M24.1 117.3L25.7 121.9M25.7 121.9L23.4 123.1M19.9 116.7L17.3 111.4M14.6 112.6L17.1 111.3M55.6 105.7L55.1 105.5M57.1 112.0L52.5 113.1M35.2 86.6L34.9 91.4M66.3 69.4L66.1 69.2M66.1 69.2L60.8 71.2M62.4 74.1L60.5 71.6M60.5 71.6L60.8 71.2M61.9 108.2L61.1 105.2M57.6 104.5L61.1 105.2M99.9 74.4L104.0 72.1M105.6 75.4L104.3 72.1M107.9 77.2L110.8 76.7M110.8 76.7L112.1 75.4M101.2 65.6L99.3 66.7M106.3 70.2L105.9 68.2M99.9 68.4L99.3 66.7M84.4 111.6L86.8 105.9M79.0 111.2L77.2 110.8M80.9 105.2L80.7 105.0M82.2 93.3L81.6 92.2M82.2 93.3L81.8 95.6M81.6 92.2L78.2 92.8M76.0 97.0L78.0 97.9M80.7 105.0L80.2 102.0M74.9 102.2L78.7 100.8M112.0 50.3L111.4 48.7M111.1 57.3L112.9 51.2M133.0 53.2L131.5 50.1M132.2 55.8L133.0 53.2M112.4 67.4L113.1 65.7M119.0 60.9L113.0 65.5M120.7 62.4L120.5 63.7M113.1 65.7L113.0 65.5M120.5 63.7L124.6 67.2M127.9 87.6L130.3 91.5M133.5 79.6L141.8 79.0M133.1 79.8L133.5 79.6M168.8 101.7L167.9 103.4M143.7 118.2L143.7 120.7M146.9 121.9L147.9 123.7M143.7 120.7L146.9 121.9M159.3 118.6L153.1 117.3M157.4 123.1L153.8 122.6M122.6 122.4L125.0 120.8M22.5 75.7L24.6 74.4M24.6 74.4L21.3 68.9M6.9 85.8L4.3 89.3M15.7 100.8L15.6 100.6M15.7 100.8L13.3 105.7M10.3 106.6L9.9 106.3M9.9 106.3L8.5 102.6M-1.4 92.0L-0.1 92.7M-0.1 92.7L-0.3 98.8M4.3 89.3L4.5 92.3M11.1 90.5L4.8 92.6M16.6 45.4L18.2 42.7M14.5 46.0L13.6 39.0M22.5 41.8L18.2 42.7M17.3 38.1L19.3 36.6M36.3 67.2L36.0 67.5M40.6 57.8L41.8 62.1M45.8 49.3L50.0 49.2M48.3 55.5L44.8 54.1M36.5 56.4L42.8 50.8M42.8 50.8L43.4 51.0M40.6 57.8L43.1 57.0M43.1 57.0L44.8 54.1M50.8 44.8L56.3 46.1M28.3 41.1L32.1 45.2M21.0 148.5L16.9 143.6M11.3 144.6L11.6 147.4M5.6 146.4L6.2 148.3M11.6 147.4L6.2 148.3M13.7 148.6L12.1 148.2M20.1 163.7L19.4 162.2M43.8 145.9L42.0 145.6M66.3 143.8L66.5 146.0M62.1 140.5L58.6 142.4M66.6 143.4L66.3 143.8M68.1 147.9L66.5 146.0M66.3 135.4L62.7 138.1M62.7 138.1L62.1 140.5M54.9 132.0L55.1 131.6M65.0 132.6L60.2 133.9M65.0 132.6L63.4 127.8M50.6 132.7L54.9 132.0M56.1 144.0L58.0 142.4M52.4 137.8L50.4 139.1M50.4 140.5L50.4 139.1M59.8 126.4L53.4 128.2M49.4 126.1L49.9 125.9M52.0 126.4L53.4 128.2M45.3 151.6L46.3 152.5M46.3 152.5L47.5 152.6M47.5 152.6L51.0 147.4M39.5 168.4L38.0 171.8M37.0 156.5L35.2 162.9M39.5 161.2L38.1 162.2M46.3 152.5L43.3 157.2M43.3 157.2L40.6 156.9M34.9 163.1L35.2 162.9M44.3 166.9L38.1 162.2M81.4 169.3L80.7 168.6M80.7 168.6L80.1 168.6M88.2 168.2L81.4 169.3M81.9 171.4L81.4 169.4M142.6 166.6L140.9 168.9M138.5 163.1L140.1 159.3M133.1 164.2L134.6 163.2M87.9 159.2L87.4 162.3M91.8 153.3L91.4 155.9M91.4 155.9L91.3 156.4M95.7 162.6L95.4 162.4M72.6 148.2L69.1 147.8M74.4 146.7L75.9 142.5M73.3 137.2L75.0 136.5M87.4 149.6L88.3 151.2M80.7 149.4L82.6 147.6M79.0 141.7L79.3 141.7M76.6 153.8L76.5 153.8M68.1 147.9L66.7 151.7M70.9 155.7L70.6 155.3M109.3 146.2L111.3 141.8M104.1 148.6L104.6 146.6M95.8 162.8L101.3 162.1M99.0 156.8L101.8 157.9M98.9 156.4L95.6 151.5M101.7 153.7L96.6 150.0M99.0 156.8L98.9 156.4M96.8 149.6L96.6 150.0M96.7 149.4L92.0 144.0M90.2 143.2L90.4 138.9M85.7 138.2L85.0 140.5M97.7 118.6L96.0 119.4M93.8 127.0L98.4 131.9M114.4 122.4L115.9 119.4M122.6 124.6L120.2 125.9M121.7 121.1L122.0 117.7M116.8 119.5L120.4 115.7M114.8 117.2L117.3 113.5M114.8 117.2L112.3 116.4M112.3 116.4L111.9 113.7M115.9 119.4L114.8 117.2M120.4 115.7L119.5 112.7M113.2 162.2L113.5 159.2M124.8 162.5L124.9 164.1M124.9 164.1L120.2 167.8M119.2 163.2L118.1 165.4M115.6 166.2L118.1 165.4M120.9 169.9L118.6 171.4M118.6 171.4L114.4 168.1M162.8 142.3L163.3 141.0M169.7 141.2L168.3 139.0M163.3 141.0L168.3 139.0M163.3 141.0L161.0 137.2M158.2 137.1L161.0 137.2M149.5 163.4L154.4 164.2M154.7 165.5L154.8 165.0M154.3 166.4L148.2 169.3M154.0 158.1L155.4 160.5M160.4 156.4L160.5 159.9M154.4 164.2L155.1 162.3M155.4 160.5L155.1 162.3M163.0 163.8L163.4 163.6M166.6 162.4L164.0 163.6M166.0 169.3L164.8 168.4M160.5 159.9L163.4 163.6M152.4 142.7L152.1 139.1M144.4 140.3L143.7 141.7M152.0 138.9L152.1 139.1M152.6 143.3L152.4 142.7M157.3 136.6L152.1 139.1M142.3 148.3L143.1 147.8M141.1 158.5L140.1 153.1M147.9 150.0L146.0 154.4M142.3 148.3L140.5 152.9M105.9 68.2L106.5 64.1M113.0 65.5L112.1 64.1M119.0 60.9L118.8 60.4M102.4 59.1L104.0 61.6M111.2 58.2L111.2 58.2M98.6 61.1L97.3 65.7M91.5 80.9L91.5 77.5M81.7 75.4L83.7 77.6M83.7 77.6L84.0 77.6M77.1 81.6L77.7 81.9M77.1 81.6L74.5 81.7M71.8 87.1L71.4 86.1M71.8 87.1L75.8 87.9M70.5 90.5L67.0 90.9M70.5 90.5L71.8 87.1M67.0 90.9L66.5 90.4M81.6 92.2L81.9 89.0M75.7 91.9L78.2 92.8M167.2 33.6L166.9 31.0M161.3 30.9L160.9 31.2M161.3 30.9L161.9 24.1M139.0 43.2L139.4 42.4M141.8 42.4L144.8 45.8M140.5 51.7L138.1 50.7M135.4 45.9L139.0 43.2M133.1 39.3L131.6 40.9M138.3 39.2L139.4 42.4M131.6 40.9L131.4 44.6M156.5 36.8L151.5 34.3M151.5 34.3L151.6 30.9M154.3 -1.6L148.2 1.3M123.1 36.0L122.4 38.8M122.4 38.8L124.2 40.4M128.1 38.6L128.1 35.0M108.8 12.7L112.8 10.4M106.7 8.2L112.0 5.9M112.0 5.5L112.0 5.9M111.3 1.7L105.4 3.7M118.4 4.0L118.6 3.4M111.4 1.7L114.4 0.1M112.4 25.5L112.4 27.9M112.4 27.9L117.7 30.1M115.5 35.9L118.0 32.5M124.9 8.8L127.2 5.9M131.3 7.3L131.8 8.0M100.6 44.7L97.1 44.0M97.1 44.0L97.1 37.7M88.3 0.4L87.4 6.4M88.3 -0.0L88.2 0.2M100.7 44.8L100.6 44.7M102.4 36.2L97.1 37.6M98.3 24.2L101.0 28.3M97.0 18.0L97.0 19.2M93.0 26.1L98.3 24.2M107.7 25.7L106.6 29.0M107.7 25.7L105.8 23.1M112.4 25.4L107.7 25.7M90.3 30.4L94.1 35.0M94.1 35.0L95.3 32.5M95.7 37.3L94.1 35.5M92.4 26.0L90.5 26.6M93.2 22.4L91.4 20.1M87.1 25.3L86.2 21.2M87.2 18.0L92.3 13.5M154.3 -1.6L154.7 -2.5M154.7 5.0L157.4 5.8M157.4 5.8L158.6 5.4M164.0 36.8L163.3 40.4M163.3 40.4L162.9 40.5M158.3 18.8L160.5 18.5M158.3 18.8L156.3 15.2M160.5 18.5L162.3 15.1M157.5 13.5L161.7 14.1M161.7 14.1L162.3 15.1M163.3 23.4L162.7 23.5M170.6 24.8L167.1 28.3M170.6 24.4L170.6 24.8M163.3 23.4L167.1 28.3M92.4 121.7L90.2 121.2M87.1 124.9L87.1 126.2M87.1 126.2L87.5 126.8M96.8 138.9L96.1 133.5M96.8 138.9L91.3 138.1M75.0 136.5L77.6 134.7M79.3 141.7L80.1 136.5M0.6 112.9L5.3 114.1M4.9 121.2L4.3 120.9M4.3 120.9L2.1 120.8M-4.6 121.2L-1.0 125.7M-1.0 125.7L0.5 124.7M6.7 112.3L10.5 110.3M10.5 110.3L13.1 112.2M9.3 117.0L7.0 115.7M5.3 114.1L5.9 114.1M10.3 106.6L10.5 110.3M9.9 106.3L4.6 107.8M13.3 105.7L16.8 107.9M16.8 107.9L17.1 111.3M4.3 120.9L7.0 115.7M23.4 123.1L21.6 123.3M-1.1 125.9L-4.4 128.5M0.1 133.4L2.6 131.0M25.0 146.1L25.3 144.8M19.1 142.0L20.3 139.5M20.3 139.5L23.9 138.2M33.4 74.6L33.7 74.3M52.5 113.1L52.5 117.2M49.9 111.2L49.3 111.3M46.8 117.9L47.1 113.6M45.1 104.2L43.9 108.0M50.8 107.9L48.3 105.0M55.9 94.1L60.5 92.6M55.9 94.1L52.8 91.6M60.5 92.6L60.8 90.9M51.8 81.9L51.5 82.4M30.9 97.7L35.3 96.5M31.1 91.4L30.0 92.2M34.9 91.4L35.0 91.5M51.9 100.8L48.5 95.9M52.7 101.0L54.0 99.3M50.1 94.3L48.5 95.9M45.9 97.1L45.1 100.5M45.9 97.1L46.2 96.7M55.1 105.5L52.7 101.0M30.1 76.5L29.3 76.5M29.1 76.5L29.3 76.5M35.1 69.2L30.5 69.2M33.1 117.1L34.9 115.9M29.1 112.0L31.2 111.0M31.2 111.0L34.4 111.6M32.2 107.8L35.1 105.8M58.0 44.9L59.5 45.5M70.2 63.9L69.9 63.3M61.1 105.2L63.2 103.2M63.2 103.2L59.4 99.7M64.9 96.4L63.6 96.1M56.1 97.9L59.4 99.6M95.3 81.7L96.8 87.5M100.8 86.2L96.8 87.5M98.7 90.8L96.5 88.7M97.9 95.3L95.4 96.9M96.2 88.8L93.3 90.7M89.2 88.1L90.8 85.0M86.3 102.2L83.4 99.2M83.4 98.4L87.9 97.1M78.0 97.9L78.7 100.8M81.8 95.6L83.4 98.4M72.3 94.1L74.2 97.0M72.7 100.6L67.4 101.1M123.2 61.7L127.0 62.3M119.0 45.2L122.5 45.6M122.5 45.6L122.1 51.5M118.6 50.5L121.0 51.8M126.2 54.0L125.2 56.2M130.1 44.8L124.6 42.6M130.1 44.8L126.6 48.2M126.6 48.2L122.6 45.5M124.6 42.6L122.6 45.5M131.6 40.9L128.1 38.6M124.2 40.4L124.6 42.6M116.6 43.1L116.7 43.4M146.6 54.7L145.7 61.5M144.0 66.9L140.9 69.0M143.1 61.3L138.4 64.0M125.2 56.2L127.4 61.8M130.3 74.9L130.3 74.7M135.9 73.2L133.9 71.4M137.1 106.4L139.6 111.6M136.9 89.9L142.4 91.5M142.4 91.5L142.8 91.3M142.8 91.3L142.0 84.1M134.9 92.2L136.9 89.9M141.9 81.3L141.7 83.7M126.8 110.5L125.9 105.4M130.2 102.3L129.9 102.3M121.9 91.6L121.7 91.3M122.2 83.2L116.7 81.3M159.8 118.3L158.6 114.0M159.8 118.3L159.3 118.6M145.1 106.3L146.9 106.3M172.5 92.3L167.9 92.7M164.5 114.2L167.8 112.2M167.8 112.2L167.9 109.4M167.9 109.4L160.9 108.4M158.6 114.0L161.2 111.6M168.6 112.9L167.8 112.2M160.6 107.9L160.9 108.4M160.6 107.9L162.8 103.9M160.6 107.9L155.4 107.1M138.7 126.7L140.3 122.1M141.9 122.0L145.6 125.5M129.6 113.4L126.2 111.7M131.0 118.5L131.5 119.0M136.3 113.8L136.1 117.6M131.4 134.7L127.2 132.7M138.1 133.0L138.2 133.3M131.5 136.1L131.4 134.7M135.4 126.3L131.8 129.2M132.5 144.4L127.5 141.1M131.5 136.1L129.3 137.1M124.8 144.0L124.5 142.4M127.5 141.1L124.5 142.4M124.8 144.0L123.2 146.7M123.2 146.7L119.2 147.7M112.3 126.3L112.7 127.6M107.3 132.7L112.2 130.4M112.3 130.5L112.2 130.4M112.3 130.5L116.3 132.9M108.7 137.7L110.5 140.9M117.0 136.7L117.2 136.9M118.7 128.5L118.8 129.6M21.8 58.4L18.7 54.3M18.7 54.3L14.5 56.4M26.5 72.0L25.4 66.1M30.3 69.1L27.7 66.3M30.2 65.0L27.7 66.3M20.1 64.2L19.5 60.8M11.5 83.7L14.5 80.8M2.9 81.5L4.7 79.5M4.7 79.5L8.6 79.8M4.7 79.5L5.1 75.1M27.3 80.7L24.7 82.2M21.3 81.7L24.7 82.2M24.7 82.2L26.4 86.6M30.0 92.2L25.7 91.9M25.7 91.9L24.8 87.9M23.6 51.0L23.2 50.9M25.0 44.6L24.8 44.0M23.9 43.6L24.8 44.0M16.6 45.4L20.2 46.0M22.5 41.8L23.9 43.6M20.0 51.5L18.7 54.3M24.6 51.7L23.6 51.0M28.6 39.5L22.3 37.6M4.6 44.4L6.8 48.4M7.9 40.9L11.5 45.8M6.8 48.4L11.5 45.8M14.5 46.0L13.0 46.2M13.0 46.2L11.5 45.8M30.9 36.8L29.7 35.1M36.3 67.2L39.9 67.1M43.1 57.0L45.3 61.6M48.3 55.5L50.7 58.3M50.7 58.3L50.4 59.7M59.7 60.6L53.7 56.7M61.5 55.3L61.4 55.2M67.8 56.3L66.9 57.3M66.9 57.3L61.5 55.3M64.2 51.2L62.2 51.0M61.9 51.3L61.4 55.2M59.8 61.3L61.4 62.7M61.7 63.6L61.4 62.7M61.7 63.6L57.9 67.6M57.9 67.6L55.3 65.5M51.7 62.3L55.1 63.6M52.1 70.8L55.3 65.5M41.7 49.7L36.6 49.1M3.4 153.0L6.1 151.0M6.1 151.0L9.9 152.2M40.1 142.9L37.6 143.3M46.0 135.7L41.2 140.4M56.9 123.2L56.7 122.2M56.7 122.2L57.3 118.5M58.3 116.4L57.6 118.3M34.6 152.0L33.8 151.4M36.5 147.2L33.1 148.9M33.8 151.4L33.1 148.9M31.4 144.2L32.7 148.7M61.6 147.2L56.7 149.8M60.0 158.7L56.3 159.7M129.6 147.6L129.2 148.8M60.9 158.1L64.4 159.1M60.2 153.3L62.6 152.0M60.0 158.7L60.9 158.1M58.0 152.0L60.2 153.3M64.7 159.3L64.4 159.1M61.6 147.2L62.6 152.0M56.7 149.8L58.0 152.0M66.6 159.5L70.5 157.6M71.1 158.3L70.5 157.6M70.9 155.7L70.5 157.6M70.0 165.3L70.1 165.2M72.9 164.5L72.7 164.3M108.7 137.7L105.2 139.7M106.1 144.0L105.2 141.6M108.5 118.1L108.5 118.4M108.5 118.1L112.3 116.4M109.3 120.2L108.5 118.4M122.4 110.8L121.7 105.4M91.0 100.4L92.2 105.4M87.7 113.0L89.8 110.3M96.0 98.4L93.8 105.8M92.2 105.4L93.8 105.8M120.0 101.7L120.3 101.8M120.0 101.7L115.0 103.7M120.3 101.8L121.0 104.4M142.8 134.2L144.4 132.2M139.8 127.1L144.4 132.2M168.6 136.9L168.1 135.8M157.0 134.0L157.8 132.3M168.1 133.4L163.6 129.5M99.8 50.0L93.0 46.8M97.1 44.0L94.1 44.4M95.7 37.3L93.2 42.0M88.1 35.7L87.2 37.0M87.2 37.0L88.9 41.3M91.1 41.3L88.9 41.3M85.8 83.2L82.8 79.8M85.8 83.2L84.4 87.4M91.4 80.9L85.8 83.2M94.6 72.1L94.5 72.1M91.0 75.4L94.5 72.1M88.0 71.6L90.4 70.4M88.5 65.8L92.4 64.6M92.4 64.6L91.9 60.8M151.5 34.3L150.3 35.6M145.1 32.1L148.2 35.7M147.5 26.0L149.5 25.1M147.5 0.1L149.5 -4.6M126.3 3.9L129.8 1.9M126.3 3.9L123.6 3.4M123.1 2.6L125.7 -1.4M129.8 1.9L130.1 0.7M127.2 5.9L126.3 3.9M122.7 8.4L123.6 3.4M120.9 1.9L123.1 2.6M136.1 2.8L132.2 -0.6M120.9 1.9L120.2 -0.2M125.7 -1.4L124.9 -3.9M132.2 -0.6L133.1 -3.8M167.1 67.5L162.8 73.6M166.9 77.7L171.6 73.6M166.9 77.7L165.1 76.9M167.1 66.5L163.4 64.7M147.4 61.7L145.7 61.5M150.5 59.9L154.5 62.5M154.5 62.5L152.2 67.3M105.5 35.3L107.4 29.9M111.2 29.4L112.6 35.5M111.6 36.1L109.1 36.9M116.6 43.1L113.0 42.7M80.1 26.9L80.1 26.9M80.2 31.0L81.8 32.4M65.9 28.9L67.4 25.7M66.8 41.7L71.9 44.5M65.9 40.3L66.2 36.5M72.9 40.0L70.7 35.4M70.7 35.4L68.4 35.2M81.5 35.4L81.8 32.4M81.5 35.4L81.9 36.0M45.2 22.6L44.2 21.4M45.4 23.7L38.3 25.8M45.0 15.4L44.2 21.4M42.0 13.3L45.0 15.4M38.3 14.7L39.6 19.8M35.9 23.9L36.2 20.3M35.9 23.9L37.7 24.4M39.6 19.8L36.2 20.3M62.3 29.7L62.4 34.4M66.2 36.5L63.0 35.0M62.4 34.4L63.0 35.0M58.0 44.9L56.7 40.8M59.4 39.6L56.7 40.8M56.7 40.8L55.4 39.4M38.7 27.9L38.3 25.8M46.1 25.9L46.2 26.4M46.2 26.4L45.4 28.2M44.5 28.8L45.4 28.2M37.1 35.1L36.3 30.8M37.1 35.1L41.2 35.9M44.5 28.8L41.2 35.9M57.2 34.4L55.6 32.2M53.1 22.7L54.9 25.7M50.8 44.8L50.2 44.0M46.6 7.9L50.7 4.2M50.7 4.2L50.6 9.3M44.3 -1.1L45.3 -1.2M88.9 41.3L86.6 44.8M76.5 45.0L78.2 40.2M84.1 44.8L83.0 41.6M72.1 44.8L71.9 44.5M72.9 40.0L77.1 38.9M86.0 37.4L83.0 41.6M76.7 36.0L81.5 35.4M154.7 -2.5L154.8 -3.0M170.1 37.1L170.1 37.3M157.1 59.9L162.8 58.7M161.7 65.4L159.3 64.9M169.2 9.3L166.9 10.4M161.8 13.6L159.3 5.5M164.6 9.7L163.0 6.6M163.0 6.6L160.2 5.5M166.9 10.4L164.6 9.7M66.5 125.6L71.5 127.7M73.3 124.0L70.9 118.9M65.8 125.6L66.5 125.6M71.0 118.2L70.9 118.9M77.2 133.3L71.1 132.2M9.9 127.2L13.8 127.4M13.8 127.4L14.4 127.1M45.8 135.1L44.7 134.1M30.9 97.7L31.6 101.2M31.6 101.2L25.7 100.5M22.4 107.2L22.2 110.7M24.3 112.2L22.2 110.7M31.6 101.2L33.2 102.3M25.7 100.5L25.3 103.7M17.3 111.4L22.2 110.7M40.2 115.0L42.1 112.5M42.1 112.5L42.3 109.2M34.9 115.9L39.9 116.2M39.9 116.2L40.2 115.0M34.4 111.6L36.3 110.8M41.1 96.0L40.5 91.2M40.9 102.3L43.1 102.0M36.4 99.8L36.3 98.5M41.1 96.0L40.6 96.7M68.4 48.1L72.0 44.9M72.0 44.9L72.7 49.6M64.2 51.2L67.9 50.5M72.9 58.4L75.6 59.3M130.3 64.5L130.4 68.2M136.1 67.8L133.8 70.2M127.3 62.2L130.3 64.5M127.5 69.7L130.4 68.2M138.0 67.1L136.1 67.8M139.2 58.3L136.7 62.4M139.2 58.3L134.8 57.3M134.8 57.3L133.4 57.5M133.4 57.5L134.7 61.7M141.8 54.3L140.5 51.8M136.8 96.5L136.6 96.7M136.6 96.7L135.5 100.8M134.9 92.2L136.8 96.5M130.9 96.1L131.4 97.4M131.4 97.4L136.6 96.7M142.4 91.5L139.3 96.6M130.4 102.1L135.5 100.8M147.2 95.2L147.0 93.4M142.6 101.5L141.4 100.6M147.1 100.1L148.3 98.5M137.9 105.6L138.4 102.8M127.3 100.9L121.7 100.8M120.3 101.8L121.7 100.8M115.3 96.1L122.7 96.6M121.9 91.6L123.2 95.4M116.3 85.1L116.2 81.8M116.2 81.8L112.4 81.8M121.5 86.7L116.3 85.1M121.7 90.5L116.4 89.2M110.8 76.7L112.4 81.8M106.6 80.9L111.3 82.9M108.9 85.9L111.1 83.9M164.0 87.1L159.4 87.4M161.6 82.2L159.0 85.7M159.4 87.4L159.0 85.7M167.7 87.9L164.3 86.7M159.0 91.4L163.0 91.9M169.3 82.5L164.0 83.7M152.5 86.2L149.6 86.6M148.6 85.5L149.6 86.6M146.2 114.4L146.6 114.0M150.7 106.7L150.8 106.7M157.0 95.1L154.7 95.8M148.6 97.8L152.3 98.5M154.7 95.8L152.3 98.5M163.5 96.3L164.7 97.7M163.5 96.3L158.7 98.0M161.4 101.7L158.7 100.2M157.0 95.1L158.7 98.0M162.8 103.9L161.4 101.7M157.0 101.4L158.7 100.2M129.3 137.1L125.0 135.6M122.5 140.9L122.5 140.9M127.2 132.7L123.8 133.5M125.9 126.9L123.4 133.2M10.2 71.5L11.3 66.5M11.3 66.5L12.5 65.8M9.9 71.6L10.2 71.5M19.1 60.7L13.4 66.1M12.2 64.0L12.5 65.8M30.2 47.2L29.5 50.9M36.5 56.4L36.1 56.2M42.8 50.8L41.7 49.7M18.2 82.7L20.0 82.9M20.2 88.0L20.4 87.8M11.5 83.7L13.6 87.3M25.6 91.9L19.8 90.9M0.8 101.7L1.2 101.7M-0.1 103.4L0.8 101.7M5.8 102.5L1.2 101.7M8.0 102.1L8.6 97.5M16.3 49.2L13.8 53.4M14.5 56.4L13.8 56.2M38.3 5.0L41.5 8.7M42.4 9.3L41.5 8.7M30.9 2.4L30.1 5.0M30.1 5.0L37.8 4.8M29.9 5.2L30.1 5.0M35.2 -3.9L33.3 0.8M35.2 -3.9L39.5 0.4M39.5 0.4L38.0 3.8M38.3 5.0L38.0 4.7M35.4 10.3L35.1 9.7M23.9 31.4L26.7 28.9M35.4 10.3L36.1 14.1M38.3 14.7L36.4 14.3M20.4 29.8L18.2 32.2M15.9 25.3L15.6 25.6M23.9 31.4L20.4 29.8M18.1 32.7L18.2 32.2M10.2 32.4L9.8 31.2M9.8 31.2L14.0 28.8M51.8 79.4L47.5 75.7M46.9 76.1L47.2 75.8M41.9 73.1L45.3 73.7M42.3 43.3L41.5 40.2M41.5 40.2L41.9 36.5M47.5 38.8L49.8 38.5M9.7 163.2L10.2 165.4M11.1 166.3L10.2 165.4M11.1 166.3L15.6 166.8M5.0 170.4L10.2 165.4M7.4 163.3L9.7 163.2M19.2 153.4L19.1 153.3M19.1 153.3L13.1 158.2M23.8 157.3L19.4 154.0M33.9 137.9L34.0 136.0M34.0 136.0L37.0 132.3M31.4 144.2L28.3 142.6M30.2 139.4L28.3 142.6M27.5 132.2L34.0 136.0M28.1 154.0L28.0 153.8M50.9 154.9L50.0 154.7M50.9 154.9L51.0 154.9M51.0 154.9L51.7 161.9M46.8 163.2L49.9 163.1M47.5 152.6L50.0 154.7M43.3 157.2L46.4 162.3M52.7 166.1L49.9 163.1M111.4 169.7L109.1 166.6M109.1 166.6L105.9 166.1M101.6 162.3L103.0 167.4M105.9 166.1L103.0 167.4M134.5 157.6L134.4 157.4M134.4 157.4L137.0 153.1M127.6 157.1L129.4 156.6M130.1 168.7L129.8 169.9M129.8 169.9L126.3 171.9M97.3 140.5L99.1 144.4M102.2 132.5L101.4 138.2M102.2 132.5L105.9 131.9M105.2 141.6L101.6 143.7M92.0 144.0L97.3 140.5M107.7 125.4L105.5 120.9M102.7 121.5L105.5 120.9M105.9 131.9L106.2 126.3M108.3 125.1L107.7 125.4M108.5 118.4L105.5 120.9M100.0 119.9L101.6 120.1M111.9 113.7L106.0 111.0M105.8 111.2L106.0 115.5M103.5 117.0L106.0 115.5M112.8 108.1L111.3 107.9M155.6 128.7L157.6 123.5M160.3 125.0L161.5 127.1M28.6 -1.4L25.1 0.4M11.7 20.8L9.0 17.1M20.1 12.2L17.1 10.0M163.7 48.0L162.3 41.1M163.7 48.0L163.5 48.8M163.5 48.8L158.7 44.2M152.2 45.6L150.9 43.7M156.9 45.7L157.8 44.5M151.3 56.1L146.8 54.7M157.1 59.9L155.7 55.5M147.2 44.4L144.8 45.8M149.2 40.5L148.6 42.7M144.4 40.6L144.6 37.8M144.6 37.8L146.0 37.5M150.7 38.6L149.2 40.5M141.1 12.7L140.1 8.1M147.6 10.5L148.4 15.4M147.6 10.5L153.4 11.5M141.1 12.7L147.4 10.1M147.4 10.1L147.6 10.5M147.6 16.7L140.9 13.7M149.1 5.2L147.5 6.9M155.8 21.3L156.7 23.6M149.5 21.7L149.7 21.7M146.9 19.2L147.6 16.7M149.5 25.1L149.5 21.7M136.2 -4.6L138.5 1.7M140.1 8.1L141.1 7.1M136.2 2.8L137.5 2.4M120.1 10.1L123.8 15.4M126.4 26.2L123.9 26.4M123.9 26.4L121.8 30.6M121.8 30.6L125.3 31.6M125.6 21.3L126.4 26.2M121.3 30.9L121.8 30.6M132.5 33.8L132.1 33.4M132.7 23.9L127.4 26.7M109.1 -1.4L109.7 -2.9M75.8 29.5L78.3 31.8M73.9 34.3L75.5 34.6M73.2 34.2L73.9 34.3M68.7 25.7L70.8 27.9M70.8 27.9L72.6 28.2M75.8 29.5L75.0 26.9M80.1 26.9L76.0 25.8M81.0 20.6L80.2 20.0M76.0 25.8L74.8 22.0M83.5 14.1L81.9 14.3M80.0 16.5L81.9 14.3M48.1 33.9L47.5 30.9M47.5 30.9L51.9 30.9M51.2 34.5L53.2 32.3M45.4 28.2L47.5 30.9M51.4 27.5L51.9 30.9M55.6 32.2L53.2 32.3M88.8 52.4L87.8 50.5M168.4 50.5L163.6 49.6M165.8 41.1L167.7 40.4M168.4 66.0L173.0 67.7M168.4 50.5L169.1 51.3M168.8 46.8L172.6 44.4M167.7 40.4L172.7 43.6M170.2 81.6L170.9 81.5M78.4 124.9L80.2 123.8M78.4 124.9L76.2 123.2M81.8 118.7L82.0 119.9M75.6 117.8L76.8 118.6M84.2 126.9L80.2 123.8M81.9 118.6L81.8 118.7M77.9 130.6L81.8 130.8M19.9 129.0L23.5 130.1M27.5 132.2L26.2 132.8M24.5 134.9L26.0 133.4M14.2 141.4L15.8 137.3M20.3 139.5L18.8 137.6M19.9 129.0L18.3 133.1M13.8 127.4L15.4 133.7M11.0 134.7L15.0 134.2M35.9 123.4L36.8 123.2M39.9 116.2L40.3 117.1M40.3 117.1L44.1 119.1M47.3 89.4L47.1 88.3M75.7 51.3L78.0 49.8M78.0 49.8L81.9 52.7M72.7 49.6L75.7 51.3M71.0 54.9L74.8 53.6M75.6 59.3L78.6 57.0M85.1 55.9L82.1 54.8M111.0 89.6L108.6 88.8M111.5 97.1L105.0 92.2M111.5 97.1L113.4 95.8M105.8 90.3L105.0 91.3M103.4 82.9L105.8 90.3M102.2 90.2L105.0 91.3M27.1 52.0L28.7 51.5M23.1 56.8L28.0 58.2M12.8 91.7L13.2 91.9M8.8 97.4L15.3 98.8M12.2 90.7L12.8 91.7M19.2 92.2L13.2 91.9M8.6 97.5L8.8 97.4M4.6 44.4L0.8 46.8M7.3 66.2L11.3 66.5M5.5 59.7L5.6 59.6M5.6 59.6L10.0 59.6M-0.8 33.6L2.1 37.1M36.3 30.8L34.7 29.9M20.2 13.7L22.6 15.8M15.3 19.3L21.7 21.2M22.6 15.8L21.7 21.2M21.6 24.9L21.9 21.6M14.8 20.2L15.9 25.3M31.0 26.0L32.2 25.5M26.7 26.3L27.4 20.7M34.7 29.9L32.2 25.5M29.7 14.1L29.7 19.5M21.6 24.9L26.7 26.3M21.9 21.6L27.4 20.7M5.4 30.7L5.4 30.7M2.6 24.4L2.6 24.8M-1.0 30.9L5.4 30.7M46.1 65.9L43.5 68.1M43.5 68.1L45.8 70.5M45.8 70.5L50.4 69.1M51.7 62.3L49.6 67.0M45.0 62.0L46.1 65.9M52.0 70.8L50.4 69.1M3.4 153.0L4.7 157.0M4.7 157.0L5.2 157.3M99.1 167.2L102.8 167.6M135.9 150.5L136.1 152.0M111.0 100.0L106.1 105.5M106.1 105.6L106.1 105.5M97.7 118.6L98.3 114.5M95.1 112.1L95.6 111.9M23.4 -0.4L22.7 -3.6M16.8 -0.1L16.8 -0.3M22.3 9.7L27.5 13.7M29.1 10.8L29.0 13.3M20.1 12.2L22.3 9.7M30.6 8.0L29.1 10.8M0.0 4.8L-2.0 1.3M-3.2 0.4L-2.0 1.3M-4.7 23.4L-0.8 20.9M5.7 17.8L5.7 17.9M5.7 17.8L-0.5 19.5M-1.4 15.8L4.8 12.5M-1.1 10.4L1.2 9.3M-1.7 16.2L-1.4 15.8M1.3 5.2L1.2 9.3M1.3 5.2L0.0 4.8M161.6 54.8L162.1 50.8M161.6 54.8L156.5 55.0M162.1 50.8L157.5 49.4M156.5 55.0L157.5 49.4M163.4 57.2L162.8 58.7M157.0 48.8L157.5 49.4M135.8 12.8L135.7 13.0M135.7 13.0L139.4 18.3M135.7 13.0L133.3 18.8M140.2 18.3L142.6 21.0M136.4 26.9L141.7 22.9M156.9 67.4L158.0 72.0M133.2 19.0L132.9 19.9M133.1 21.2L132.9 19.9M132.3 9.3L129.0 14.6M61.6 16.1L63.1 20.2M64.1 14.0L61.6 16.1M53.1 22.7L56.3 17.5M51.1 15.5L55.5 15.3M68.7 25.7L71.9 21.2M70.8 13.2L72.0 15.9M66.8 19.1L71.2 20.3M70.8 13.2L70.8 12.1M167.3 58.0L171.1 54.7M164.3 57.0L167.3 58.0M41.0 125.5L40.6 124.4M40.6 124.4L36.8 123.2M37.8 130.2L38.6 129.8M43.6 128.8L38.6 129.8M42.2 80.8L40.4 84.6M50.5 82.7L46.1 82.3M46.9 76.1L46.0 82.2M-0.9 67.5L1.0 72.4M5.4 72.0L4.4 73.6M-4.6 64.7L-0.9 66.5M-3.7 74.9L1.0 72.4M7.3 66.2L5.0 67.7M5.1 75.1L4.4 73.6M8.3 51.7L8.6 53.9M6.8 48.4L6.3 49.9M1.1 51.3L0.4 50.5M3.4 167.2L3.4 167.2M105.4 171.7L111.3 169.7M111.4 169.7L111.3 169.7M101.4 101.1L103.2 97.5M104.9 103.5L106.4 98.9M103.2 97.5L106.4 98.9M100.3 101.5L101.3 106.0M101.3 106.0L98.9 108.0M101.4 101.1L100.3 101.5M95.6 111.9L96.5 107.9M12.0 9.3L9.7 4.6M17.1 10.0L15.8 7.8M21.4 5.0L16.0 5.7M16.8 -0.1L14.9 4.0M16.8 -0.3L15.6 -1.2M11.1 -1.7L10.2 -2.6M148.0 76.9L148.3 79.9M142.2 75.9L148.0 76.9M147.8 80.3L148.3 79.9M158.0 72.0L153.3 73.4M69.9 11.1L71.9 4.9M66.7 10.9L65.1 8.7M70.6 4.0L66.0 6.6M65.3 1.3L64.9 3.2M59.2 4.7L56.0 4.2M62.4 7.9L61.6 6.5M65.3 1.3L63.8 0.4M64.9 3.2L61.6 6.5M65.1 8.7L62.4 7.9M64.1 14.0L59.7 11.2M3.4 -0.8L3.4 -0.8M63.8 0.4L62.4 -1.7M81.9 3.4L81.4 1.4M81.4 1.4L76.3 7.0M77.8 9.8L77.7 9.8M85.9 9.9L81.9 7.4M87.4 6.4L81.9 3.4M80.1 0.6L74.8 2.1" stroke="#9060c0" stroke-width="1.5" fill="none" stroke-dasharray="3 1.2"/>
<g fill="#553a92"><circle cx="133.4" cy="143.8" r="0.8"/><circle cx="71.1" cy="75.0" r="0.9"/><circle cx="73.5" cy="71.1" r="1.0"/><circle cx="75.5" cy="70.8" r="1.0"/><circle cx="6.4" cy="137.8" r="0.9"/><circle cx="11.6" cy="138.2" r="0.8"/><circle cx="63.2" cy="167.5" r="1.0"/><circle cx="58.4" cy="167.7" r="0.9"/><circle cx="62.7" cy="169.4" r="1.0"/><circle cx="162.9" cy="152.6" r="1.1"/><circle cx="62.8" cy="115.1" r="1.0"/><circle cx="57.7" cy="111.1" r="1.1"/><circle cx="59.1" cy="79.9" r="0.7"/><circle cx="59.5" cy="81.4" r="0.7"/><circle cx="66.5" cy="80.8" r="1.0"/><circle cx="71.3" cy="77.8" r="0.8"/><circle cx="66.3" cy="78.8" r="1.1"/><circle cx="59.1" cy="76.3" r="0.8"/><circle cx="80.7" cy="70.3" r="1.1"/><circle cx="73.0" cy="110.6" r="1.1"/><circle cx="75.9" cy="107.3" r="1.2"/><circle cx="73.8" cy="106.4" r="1.0"/><circle cx="72.3" cy="106.5" r="0.8"/><circle cx="72.1" cy="112.6" r="1.1"/><circle cx="67.5" cy="106.4" r="1.0"/><circle cx="115.6" cy="73.3" r="1.0"/><circle cx="120.8" cy="73.2" r="1.1"/><circle cx="133.5" cy="82.5" r="0.8"/><circle cx="128.3" cy="75.9" r="1.1"/><circle cx="132.2" cy="78.3" r="1.1"/><circle cx="142.0" cy="117.9" r="0.7"/><circle cx="143.4" cy="112.8" r="0.7"/><circle cx="146.3" cy="115.0" r="0.8"/><circle cx="1.9" cy="81.8" r="1.1"/><circle cx="-0.7" cy="89.6" r="0.9"/><circle cx="30.3" cy="162.4" r="0.8"/><circle cx="31.4" cy="159.3" r="0.8"/><circle cx="5.0" cy="142.1" r="0.7"/><circle cx="1.2" cy="142.4" r="0.7"/><circle cx="0.9" cy="146.4" r="1.2"/><circle cx="68.8" cy="142.2" r="0.8"/><circle cx="67.9" cy="134.0" r="1.0"/><circle cx="62.7" cy="116.9" r="0.8"/><circle cx="30.2" cy="169.2" r="0.8"/><circle cx="32.7" cy="162.3" r="0.8"/><circle cx="35.1" cy="163.8" r="1.0"/><circle cx="59.6" cy="163.9" r="0.9"/><circle cx="56.3" cy="167.7" r="0.9"/><circle cx="137.9" cy="170.1" r="0.8"/><circle cx="79.0" cy="158.0" r="1.2"/><circle cx="81.7" cy="160.0" r="0.9"/><circle cx="81.6" cy="154.6" r="1.1"/><circle cx="82.3" cy="157.2" r="0.8"/><circle cx="111.5" cy="149.5" r="0.9"/><circle cx="113.6" cy="152.6" r="0.8"/><circle cx="106.1" cy="152.8" r="1.0"/><circle cx="95.2" cy="126.2" r="1.0"/><circle cx="117.3" cy="157.9" r="0.9"/><circle cx="119.4" cy="157.4" r="1.0"/><circle cx="140.2" cy="134.2" r="1.2"/><circle cx="158.9" cy="147.1" r="0.7"/><circle cx="161.0" cy="147.2" r="1.2"/><circle cx="155.8" cy="152.9" r="1.1"/><circle cx="159.5" cy="155.9" r="1.0"/><circle cx="163.1" cy="149.8" r="1.1"/><circle cx="167.9" cy="152.2" r="0.8"/><circle cx="157.5" cy="142.5" r="0.8"/><circle cx="143.7" cy="145.1" r="0.9"/><circle cx="151.6" cy="153.4" r="0.9"/><circle cx="149.9" cy="152.4" r="1.0"/><circle cx="150.6" cy="157.7" r="1.1"/><circle cx="150.4" cy="155.5" r="0.9"/><circle cx="166.9" cy="161.6" r="1.1"/><circle cx="167.7" cy="163.0" r="1.0"/><circle cx="170.1" cy="167.7" r="0.9"/><circle cx="-1.4" cy="152.0" r="0.7"/><circle cx="112.4" cy="75.4" r="1.2"/><circle cx="81.2" cy="69.9" r="0.7"/><circle cx="78.7" cy="63.3" r="1.1"/><circle cx="107.4" cy="50.5" r="1.0"/><circle cx="109.6" cy="56.4" r="1.0"/><circle cx="111.2" cy="57.8" r="1.2"/><circle cx="106.6" cy="57.4" r="0.9"/><circle cx="92.9" cy="58.9" r="0.8"/><circle cx="92.2" cy="60.6" r="1.0"/><circle cx="91.8" cy="54.8" r="1.0"/><circle cx="102.3" cy="58.6" r="0.9"/><circle cx="100.8" cy="57.3" r="0.8"/><circle cx="132.7" cy="36.2" r="1.1"/><circle cx="113.3" cy="14.9" r="0.8"/><circle cx="115.2" cy="14.9" r="0.8"/><circle cx="109.5" cy="15.3" r="1.1"/><circle cx="117.1" cy="24.6" r="1.0"/><circle cx="112.4" cy="25.4" r="1.2"/><circle cx="101.5" cy="44.3" r="1.0"/><circle cx="103.9" cy="45.0" r="1.0"/><circle cx="103.8" cy="18.0" r="1.0"/><circle cx="106.9" cy="20.6" r="0.9"/><circle cx="95.1" cy="-0.4" r="0.7"/><circle cx="102.9" cy="-0.5" r="1.0"/><circle cx="101.1" cy="5.0" r="1.1"/><circle cx="98.8" cy="10.1" r="1.1"/><circle cx="91.7" cy="9.8" r="0.8"/><circle cx="100.7" cy="12.8" r="0.7"/><circle cx="98.9" cy="7.9" r="0.8"/><circle cx="63.6" cy="47.1" r="0.8"/><circle cx="66.5" cy="41.2" r="1.0"/><circle cx="165.7" cy="1.1" r="0.9"/><circle cx="6.3" cy="124.2" r="0.7"/><circle cx="6.4" cy="120.9" r="0.9"/><circle cx="9.8" cy="120.9" r="0.7"/><circle cx="8.4" cy="127.3" r="1.1"/><circle cx="15.7" cy="119.6" r="1.2"/><circle cx="15.2" cy="118.5" r="0.7"/><circle cx="9.9" cy="127.2" r="1.0"/><circle cx="7.4" cy="127.5" r="0.8"/><circle cx="5.8" cy="129.1" r="0.7"/><circle cx="40.3" cy="74.8" r="1.0"/><circle cx="27.3" cy="122.1" r="1.2"/><circle cx="18.2" cy="117.5" r="1.2"/><circle cx="19.3" cy="115.3" r="0.9"/><circle cx="50.4" cy="122.4" r="1.1"/><circle cx="48.5" cy="118.5" r="0.9"/><circle cx="56.4" cy="107.5" r="1.1"/><circle cx="50.5" cy="109.1" r="1.2"/><circle cx="73.4" cy="64.4" r="1.0"/><circle cx="66.2" cy="69.3" r="1.0"/><circle cx="61.9" cy="73.5" r="1.1"/><circle cx="63.1" cy="65.3" r="1.1"/><circle cx="56.0" cy="105.4" r="0.9"/><circle cx="60.0" cy="105.0" r="0.9"/><circle cx="104.7" cy="73.3" r="0.8"/><circle cx="104.1" cy="72.1" r="1.2"/><circle cx="101.1" cy="80.6" r="1.1"/><circle cx="101.7" cy="81.9" r="1.1"/><circle cx="109.0" cy="70.1" r="0.8"/><circle cx="99.9" cy="66.3" r="0.8"/><circle cx="106.1" cy="69.2" r="0.9"/><circle cx="99.6" cy="67.6" r="0.9"/><circle cx="83.8" cy="111.7" r="1.1"/><circle cx="86.2" cy="105.2" r="1.1"/><circle cx="78.2" cy="111.0" r="0.8"/><circle cx="80.8" cy="105.1" r="1.1"/><circle cx="75.2" cy="103.1" r="0.9"/><circle cx="81.9" cy="92.8" r="1.0"/><circle cx="77.7" cy="93.7" r="1.2"/><circle cx="79.1" cy="97.2" r="1.1"/><circle cx="80.4" cy="102.9" r="1.0"/><circle cx="77.6" cy="101.1" r="1.2"/><circle cx="79.4" cy="101.4" r="1.0"/><circle cx="131.9" cy="48.1" r="0.9"/><circle cx="132.4" cy="55.1" r="1.0"/><circle cx="129.6" cy="50.5" r="0.8"/><circle cx="120.2" cy="71.2" r="0.7"/><circle cx="112.8" cy="66.3" r="0.8"/><circle cx="115.7" cy="66.5" r="0.8"/><circle cx="142.1" cy="80.1" r="1.0"/><circle cx="168.2" cy="99.9" r="1.1"/><circle cx="168.2" cy="102.9" r="1.1"/><circle cx="139.6" cy="118.2" r="1.0"/><circle cx="141.4" cy="122.0" r="1.1"/><circle cx="152.5" cy="119.6" r="1.1"/><circle cx="147.0" cy="116.7" r="0.9"/><circle cx="152.7" cy="117.7" r="0.9"/><circle cx="149.0" cy="126.5" r="1.0"/><circle cx="152.5" cy="128.8" r="1.1"/><circle cx="153.5" cy="124.1" r="0.7"/><circle cx="123.7" cy="121.6" r="1.0"/><circle cx="126.8" cy="121.3" r="1.1"/><circle cx="0.1" cy="112.4" r="0.9"/><circle cx="-2.0" cy="113.3" r="0.8"/><circle cx="23.8" cy="75.0" r="0.8"/><circle cx="3.9" cy="82.5" r="1.1"/><circle cx="2.7" cy="88.3" r="1.1"/><circle cx="16.9" cy="44.8" r="1.0"/><circle cx="17.9" cy="41.1" r="1.0"/><circle cx="33.5" cy="66.4" r="1.1"/><circle cx="39.0" cy="57.6" r="0.8"/><circle cx="40.8" cy="52.6" r="0.8"/><circle cx="43.2" cy="51.0" r="1.1"/><circle cx="50.6" cy="46.1" r="0.9"/><circle cx="52.3" cy="45.2" r="0.9"/><circle cx="29.8" cy="38.1" r="0.9"/><circle cx="31.6" cy="36.8" r="1.0"/><circle cx="32.9" cy="39.0" r="0.7"/><circle cx="25.3" cy="169.2" r="1.1"/><circle cx="25.8" cy="168.0" r="0.9"/><circle cx="18.3" cy="168.5" r="1.1"/><circle cx="20.1" cy="147.4" r="0.8"/><circle cx="5.9" cy="147.4" r="0.8"/><circle cx="11.9" cy="147.9" r="0.7"/><circle cx="23.9" cy="157.4" r="0.8"/><circle cx="47.0" cy="147.1" r="0.9"/><circle cx="44.5" cy="147.2" r="0.7"/><circle cx="43.3" cy="151.2" r="1.1"/><circle cx="40.9" cy="149.1" r="0.8"/><circle cx="66.4" cy="144.4" r="1.0"/><circle cx="64.0" cy="142.0" r="1.1"/><circle cx="59.9" cy="141.7" r="1.0"/><circle cx="68.8" cy="147.8" r="1.0"/><circle cx="67.4" cy="147.0" r="0.9"/><circle cx="62.4" cy="139.5" r="1.1"/><circle cx="59.1" cy="131.5" r="1.2"/><circle cx="61.2" cy="137.0" r="0.7"/><circle cx="58.3" cy="142.4" r="1.2"/><circle cx="64.0" cy="132.9" r="1.1"/><circle cx="63.9" cy="129.5" r="1.1"/><circle cx="62.6" cy="127.8" r="1.0"/><circle cx="54.2" cy="137.1" r="0.8"/><circle cx="50.8" cy="138.8" r="0.9"/><circle cx="50.1" cy="132.6" r="0.9"/><circle cx="49.6" cy="130.5" r="1.1"/><circle cx="45.3" cy="169.8" r="0.9"/><circle cx="45.5" cy="167.4" r="1.1"/><circle cx="35.1" cy="170.0" r="0.9"/><circle cx="38.9" cy="161.7" r="1.2"/><circle cx="35.8" cy="156.0" r="0.8"/><circle cx="40.3" cy="150.8" r="1.1"/><circle cx="35.1" cy="162.9" r="1.1"/><circle cx="81.4" cy="169.3" r="0.7"/><circle cx="80.4" cy="168.6" r="1.1"/><circle cx="136.9" cy="163.3" r="0.9"/><circle cx="149.1" cy="162.6" r="0.7"/><circle cx="144.8" cy="162.4" r="1.1"/><circle cx="133.5" cy="168.5" r="1.1"/><circle cx="133.6" cy="163.9" r="1.1"/><circle cx="136.1" cy="170.8" r="1.1"/><circle cx="88.9" cy="158.4" r="1.1"/><circle cx="95.7" cy="162.6" r="1.1"/><circle cx="88.2" cy="168.2" r="1.1"/><circle cx="80.6" cy="165.2" r="1.0"/><circle cx="73.3" cy="147.7" r="0.8"/><circle cx="82.6" cy="147.5" r="0.8"/><circle cx="80.5" cy="143.2" r="0.8"/><circle cx="83.6" cy="141.0" r="0.8"/><circle cx="76.6" cy="153.8" r="1.1"/><circle cx="72.3" cy="150.7" r="0.8"/><circle cx="69.7" cy="154.5" r="1.0"/><circle cx="108.6" cy="146.0" r="1.1"/><circle cx="90.1" cy="144.6" r="1.0"/><circle cx="104.7" cy="161.7" r="1.2"/><circle cx="103.0" cy="157.6" r="1.1"/><circle cx="106.3" cy="157.3" r="1.1"/><circle cx="100.7" cy="154.7" r="0.8"/><circle cx="100.1" cy="152.5" r="1.1"/><circle cx="96.0" cy="150.8" r="1.0"/><circle cx="99.0" cy="156.7" r="1.0"/><circle cx="102.0" cy="153.6" r="0.7"/><circle cx="94.0" cy="146.3" r="0.9"/><circle cx="88.5" cy="138.3" r="1.0"/><circle cx="97.4" cy="125.3" r="0.8"/><circle cx="98.8" cy="125.9" r="0.7"/><circle cx="115.3" cy="120.7" r="1.0"/><circle cx="116.1" cy="119.5" r="0.9"/><circle cx="119.4" cy="116.8" r="1.0"/><circle cx="121.6" cy="117.2" r="1.0"/><circle cx="112.1" cy="115.4" r="0.9"/><circle cx="112.2" cy="113.1" r="0.9"/><circle cx="114.8" cy="111.9" r="0.9"/><circle cx="113.3" cy="161.3" r="1.2"/><circle cx="124.8" cy="163.4" r="1.1"/><circle cx="118.5" cy="164.6" r="0.7"/><circle cx="120.5" cy="159.8" r="1.2"/><circle cx="129.7" cy="162.2" r="1.1"/><circle cx="121.7" cy="170.1" r="1.1"/><circle cx="120.7" cy="169.1" r="0.7"/><circle cx="124.9" cy="167.9" r="0.8"/><circle cx="114.7" cy="164.6" r="1.1"/><circle cx="166.1" cy="139.8" r="1.1"/><circle cx="152.5" cy="163.9" r="0.7"/><circle cx="152.9" cy="167.1" r="1.1"/><circle cx="149.2" cy="157.8" r="1.2"/><circle cx="155.3" cy="161.4" r="1.1"/><circle cx="163.3" cy="163.6" r="1.0"/><circle cx="156.5" cy="167.4" r="1.0"/><circle cx="152.3" cy="141.5" r="0.8"/><circle cx="148.2" cy="142.5" r="1.1"/><circle cx="152.5" cy="142.9" r="1.2"/><circle cx="151.9" cy="133.6" r="0.8"/><circle cx="141.2" cy="147.7" r="1.1"/><circle cx="142.6" cy="148.1" r="0.8"/><circle cx="141.8" cy="141.4" r="0.8"/><circle cx="144.8" cy="158.4" r="0.8"/><circle cx="140.8" cy="157.3" r="1.2"/><circle cx="141.6" cy="150.2" r="1.0"/><circle cx="90.6" cy="53.6" r="1.2"/><circle cx="105.8" cy="60.7" r="0.9"/><circle cx="111.3" cy="58.3" r="1.1"/><circle cx="118.8" cy="59.8" r="1.0"/><circle cx="102.1" cy="64.4" r="0.8"/><circle cx="115.8" cy="53.8" r="1.0"/><circle cx="97.7" cy="64.0" r="1.0"/><circle cx="91.5" cy="79.1" r="1.0"/><circle cx="89.4" cy="74.3" r="0.8"/><circle cx="82.3" cy="76.1" r="1.0"/><circle cx="77.3" cy="81.7" r="1.1"/><circle cx="74.8" cy="87.7" r="0.8"/><circle cx="78.1" cy="88.2" r="0.8"/><circle cx="165.9" cy="34.8" r="0.9"/><circle cx="162.1" cy="33.3" r="1.0"/><circle cx="157.0" cy="27.5" r="0.8"/><circle cx="161.6" cy="28.0" r="0.9"/><circle cx="140.8" cy="46.4" r="1.1"/><circle cx="144.4" cy="46.9" r="1.0"/><circle cx="143.3" cy="48.9" r="0.8"/><circle cx="136.2" cy="45.3" r="1.0"/><circle cx="132.6" cy="39.8" r="0.7"/><circle cx="139.1" cy="41.4" r="1.0"/><circle cx="131.5" cy="42.0" r="1.1"/><circle cx="151.9" cy="30.5" r="0.8"/><circle cx="148.6" cy="3.2" r="1.1"/><circle cx="125.2" cy="34.4" r="1.0"/><circle cx="111.9" cy="10.9" r="1.0"/><circle cx="108.0" cy="12.2" r="1.0"/><circle cx="109.1" cy="14.0" r="0.8"/><circle cx="113.1" cy="11.2" r="0.7"/><circle cx="103.9" cy="2.9" r="1.0"/><circle cx="117.7" cy="25.9" r="0.8"/><circle cx="122.4" cy="32.6" r="0.7"/><circle cx="135.5" cy="9.6" r="0.8"/><circle cx="137.3" cy="6.0" r="1.1"/><circle cx="131.9" cy="8.3" r="0.8"/><circle cx="88.8" cy="6.1" r="0.9"/><circle cx="87.5" cy="6.7" r="0.9"/><circle cx="100.7" cy="44.7" r="0.9"/><circle cx="102.5" cy="37.5" r="1.2"/><circle cx="98.8" cy="37.1" r="0.9"/><circle cx="101.2" cy="21.9" r="0.8"/><circle cx="99.2" cy="25.6" r="1.0"/><circle cx="98.2" cy="21.1" r="1.2"/><circle cx="95.8" cy="29.1" r="1.0"/><circle cx="94.6" cy="25.6" r="0.8"/><circle cx="106.7" cy="24.4" r="1.0"/><circle cx="105.7" cy="22.0" r="1.0"/><circle cx="102.6" cy="28.1" r="0.8"/><circle cx="90.4" cy="30.0" r="0.9"/><circle cx="94.4" cy="34.4" r="0.8"/><circle cx="88.0" cy="25.7" r="1.1"/><circle cx="90.6" cy="27.1" r="1.1"/><circle cx="94.3" cy="17.2" r="0.9"/><circle cx="89.6" cy="15.9" r="0.9"/><circle cx="155.7" cy="5.2" r="0.8"/><circle cx="159.8" cy="38.0" r="0.7"/><circle cx="159.6" cy="18.6" r="1.1"/><circle cx="157.5" cy="17.3" r="1.0"/><circle cx="161.9" cy="15.9" r="0.8"/><circle cx="163.1" cy="23.4" r="1.2"/><circle cx="161.3" cy="20.1" r="1.2"/><circle cx="163.1" cy="15.3" r="1.1"/><circle cx="171.8" cy="30.7" r="0.7"/><circle cx="169.8" cy="25.5" r="0.8"/><circle cx="89.9" cy="121.4" r="0.8"/><circle cx="90.0" cy="117.5" r="1.0"/><circle cx="81.9" cy="115.9" r="1.0"/><circle cx="87.5" cy="128.9" r="0.9"/><circle cx="93.0" cy="127.2" r="0.9"/><circle cx="87.7" cy="124.0" r="0.7"/><circle cx="96.2" cy="134.8" r="1.2"/><circle cx="92.7" cy="138.3" r="1.0"/><circle cx="79.5" cy="140.1" r="1.1"/><circle cx="79.2" cy="135.8" r="0.9"/><circle cx="3.4" cy="113.6" r="0.7"/><circle cx="2.2" cy="118.2" r="1.1"/><circle cx="-0.7" cy="125.5" r="1.1"/><circle cx="10.3" cy="115.7" r="0.8"/><circle cx="6.4" cy="114.8" r="1.0"/><circle cx="2.5" cy="108.0" r="0.9"/><circle cx="5.9" cy="110.9" r="0.9"/><circle cx="4.3" cy="108.0" r="1.1"/><circle cx="7.4" cy="107.0" r="1.0"/><circle cx="13.4" cy="112.3" r="1.1"/><circle cx="5.4" cy="118.7" r="1.1"/><circle cx="22.2" cy="116.5" r="0.9"/><circle cx="1.9" cy="129.9" r="0.8"/><circle cx="-2.3" cy="131.3" r="1.0"/><circle cx="3.4" cy="130.9" r="0.9"/><circle cx="38.4" cy="79.0" r="1.1"/><circle cx="17.4" cy="102.6" r="0.8"/><circle cx="17.3" cy="107.3" r="0.9"/><circle cx="52.5" cy="115.8" r="1.0"/><circle cx="49.7" cy="111.2" r="1.0"/><circle cx="51.4" cy="118.3" r="1.1"/><circle cx="49.8" cy="106.7" r="0.7"/><circle cx="59.4" cy="82.7" r="0.9"/><circle cx="60.4" cy="86.1" r="0.9"/><circle cx="60.5" cy="88.9" r="0.8"/><circle cx="55.3" cy="87.2" r="0.9"/><circle cx="51.4" cy="91.3" r="1.2"/><circle cx="60.7" cy="91.8" r="1.0"/><circle cx="35.2" cy="94.8" r="0.9"/><circle cx="50.4" cy="100.8" r="0.9"/><circle cx="44.4" cy="101.6" r="0.8"/><circle cx="54.3" cy="104.0" r="0.8"/><circle cx="55.4" cy="98.4" r="1.0"/><circle cx="31.6" cy="78.5" r="0.7"/><circle cx="30.0" cy="76.5" r="0.9"/><circle cx="33.8" cy="81.0" r="0.9"/><circle cx="32.4" cy="117.1" r="0.8"/><circle cx="33.6" cy="116.7" r="0.9"/><circle cx="34.6" cy="113.4" r="1.0"/><circle cx="31.4" cy="103.7" r="1.2"/><circle cx="65.4" cy="64.1" r="1.1"/><circle cx="67.0" cy="104.2" r="1.0"/><circle cx="65.8" cy="103.0" r="1.2"/><circle cx="58.3" cy="102.5" r="0.9"/><circle cx="60.6" cy="98.6" r="1.1"/><circle cx="95.8" cy="83.4" r="1.1"/><circle cx="96.7" cy="88.0" r="1.2"/><circle cx="101.8" cy="84.3" r="0.9"/><circle cx="93.3" cy="92.6" r="0.8"/><circle cx="92.1" cy="90.0" r="1.1"/><circle cx="94.8" cy="96.3" r="1.1"/><circle cx="84.8" cy="100.6" r="1.1"/><circle cx="86.0" cy="97.7" r="0.8"/><circle cx="82.7" cy="99.9" r="0.7"/><circle cx="78.3" cy="99.1" r="1.1"/><circle cx="73.7" cy="98.1" r="1.1"/><circle cx="69.3" cy="100.9" r="0.9"/><circle cx="123.0" cy="59.2" r="0.9"/><circle cx="120.3" cy="51.4" r="1.2"/><circle cx="121.8" cy="51.6" r="1.0"/><circle cx="115.9" cy="51.0" r="1.1"/><circle cx="123.0" cy="51.7" r="0.9"/><circle cx="124.1" cy="56.6" r="0.9"/><circle cx="127.9" cy="43.9" r="1.1"/><circle cx="123.9" cy="43.6" r="1.1"/><circle cx="130.6" cy="40.2" r="1.0"/><circle cx="124.3" cy="41.0" r="1.1"/><circle cx="146.1" cy="58.8" r="0.9"/><circle cx="142.0" cy="59.5" r="0.9"/><circle cx="144.2" cy="64.3" r="0.7"/><circle cx="138.7" cy="67.6" r="0.8"/><circle cx="127.2" cy="62.2" r="0.7"/><circle cx="127.4" cy="62.1" r="0.8"/><circle cx="130.3" cy="74.8" r="0.8"/><circle cx="135.8" cy="74.6" r="1.0"/><circle cx="133.5" cy="109.7" r="0.8"/><circle cx="138.7" cy="112.2" r="0.9"/><circle cx="135.0" cy="106.8" r="0.8"/><circle cx="138.5" cy="109.5" r="1.0"/><circle cx="137.3" cy="106.3" r="1.1"/><circle cx="142.2" cy="106.6" r="0.9"/><circle cx="136.9" cy="89.7" r="0.9"/><circle cx="140.9" cy="84.0" r="0.8"/><circle cx="135.7" cy="91.3" r="0.8"/><circle cx="130.4" cy="91.8" r="0.7"/><circle cx="126.3" cy="107.8" r="0.9"/><circle cx="121.8" cy="90.2" r="1.0"/><circle cx="121.7" cy="90.8" r="1.0"/><circle cx="122.8" cy="82.6" r="1.1"/><circle cx="121.8" cy="88.3" r="1.0"/><circle cx="121.7" cy="85.8" r="0.7"/><circle cx="153.3" cy="115.9" r="0.8"/><circle cx="145.7" cy="106.3" r="1.0"/><circle cx="169.3" cy="92.6" r="1.2"/><circle cx="167.8" cy="99.0" r="1.1"/><circle cx="160.5" cy="112.2" r="0.8"/><circle cx="166.9" cy="118.8" r="1.0"/><circle cx="146.6" cy="125.5" r="0.8"/><circle cx="129.0" cy="118.5" r="0.8"/><circle cx="125.5" cy="114.0" r="1.2"/><circle cx="128.3" cy="112.8" r="0.8"/><circle cx="126.4" cy="111.4" r="0.8"/><circle cx="136.5" cy="117.9" r="1.2"/><circle cx="131.2" cy="118.7" r="0.8"/><circle cx="131.8" cy="129.4" r="1.2"/><circle cx="136.7" cy="132.3" r="0.8"/><circle cx="133.1" cy="137.0" r="0.8"/><circle cx="128.6" cy="138.5" r="1.0"/><circle cx="125.3" cy="142.0" r="0.9"/><circle cx="108.1" cy="135.1" r="0.9"/><circle cx="115.7" cy="136.7" r="1.1"/><circle cx="115.4" cy="132.4" r="0.8"/><circle cx="115.4" cy="141.0" r="0.8"/><circle cx="108.7" cy="137.4" r="0.9"/><circle cx="109.4" cy="139.0" r="1.2"/><circle cx="118.7" cy="128.8" r="1.1"/><circle cx="112.3" cy="129.8" r="1.1"/><circle cx="20.5" cy="60.2" r="0.8"/><circle cx="16.0" cy="55.7" r="1.1"/><circle cx="19.2" cy="60.8" r="0.9"/><circle cx="23.8" cy="66.7" r="0.9"/><circle cx="24.9" cy="74.4" r="1.0"/><circle cx="29.0" cy="65.6" r="1.0"/><circle cx="25.8" cy="63.4" r="0.7"/><circle cx="19.6" cy="61.7" r="0.8"/><circle cx="11.0" cy="83.6" r="0.9"/><circle cx="10.2" cy="82.7" r="0.8"/><circle cx="9.5" cy="78.8" r="0.9"/><circle cx="12.9" cy="77.1" r="0.8"/><circle cx="9.9" cy="76.4" r="0.8"/><circle cx="21.9" cy="76.3" r="1.2"/><circle cx="25.3" cy="81.9" r="1.0"/><circle cx="23.0" cy="81.9" r="1.0"/><circle cx="27.8" cy="86.8" r="1.1"/><circle cx="2.0" cy="41.9" r="0.9"/><circle cx="6.5" cy="42.1" r="1.1"/><circle cx="7.9" cy="40.8" r="0.8"/><circle cx="22.0" cy="44.8" r="1.0"/><circle cx="22.2" cy="49.2" r="0.7"/><circle cx="23.4" cy="50.9" r="1.1"/><circle cx="24.5" cy="47.1" r="0.7"/><circle cx="13.3" cy="46.1" r="0.9"/><circle cx="8.4" cy="38.6" r="1.0"/><circle cx="49.5" cy="56.9" r="0.8"/><circle cx="61.5" cy="55.3" r="0.8"/><circle cx="54.7" cy="53.7" r="1.2"/><circle cx="56.3" cy="63.0" r="1.0"/><circle cx="59.9" cy="65.5" r="0.9"/><circle cx="54.3" cy="63.3" r="0.9"/><circle cx="69.7" cy="62.7" r="1.2"/><circle cx="54.7" cy="72.3" r="0.8"/><circle cx="35.8" cy="35.6" r="0.9"/><circle cx="41.4" cy="45.6" r="0.8"/><circle cx="11.7" cy="149.0" r="1.0"/><circle cx="13.4" cy="153.7" r="1.2"/><circle cx="17.7" cy="152.8" r="0.9"/><circle cx="46.1" cy="142.8" r="1.0"/><circle cx="45.9" cy="135.5" r="0.9"/><circle cx="46.0" cy="135.8" r="0.8"/><circle cx="41.1" cy="144.3" r="0.8"/><circle cx="37.2" cy="144.6" r="0.9"/><circle cx="56.8" cy="122.5" r="0.9"/><circle cx="57.5" cy="118.4" r="1.2"/><circle cx="55.7" cy="124.1" r="0.8"/><circle cx="58.0" cy="117.2" r="1.1"/><circle cx="31.0" cy="156.2" r="0.7"/><circle cx="29.5" cy="154.7" r="1.0"/><circle cx="32.9" cy="143.6" r="0.9"/><circle cx="55.4" cy="148.8" r="0.7"/><circle cx="58.1" cy="159.2" r="1.0"/><circle cx="127.7" cy="149.8" r="1.1"/><circle cx="60.6" cy="158.3" r="0.7"/><circle cx="55.9" cy="154.7" r="1.0"/><circle cx="69.0" cy="163.5" r="0.8"/><circle cx="106.7" cy="138.8" r="0.8"/><circle cx="118.4" cy="106.5" r="0.9"/><circle cx="119.6" cy="112.6" r="0.9"/><circle cx="88.4" cy="106.3" r="0.9"/><circle cx="89.3" cy="110.9" r="1.0"/><circle cx="89.6" cy="107.5" r="0.8"/><circle cx="93.6" cy="113.7" r="1.0"/><circle cx="95.5" cy="97.6" r="0.9"/><circle cx="92.6" cy="105.5" r="1.1"/><circle cx="120.7" cy="103.4" r="0.7"/><circle cx="114.6" cy="104.9" r="0.9"/><circle cx="113.4" cy="107.7" r="1.2"/><circle cx="169.9" cy="120.5" r="1.2"/><circle cx="145.9" cy="132.1" r="0.9"/><circle cx="144.4" cy="139.7" r="0.8"/><circle cx="141.5" cy="134.5" r="1.0"/><circle cx="145.7" cy="128.9" r="0.9"/><circle cx="169.1" cy="132.4" r="0.9"/><circle cx="162.5" cy="131.0" r="0.8"/><circle cx="95.4" cy="47.9" r="0.9"/><circle cx="92.8" cy="46.9" r="1.2"/><circle cx="93.4" cy="45.9" r="0.8"/><circle cx="94.0" cy="40.4" r="0.8"/><circle cx="91.3" cy="39.1" r="0.8"/><circle cx="83.6" cy="80.7" r="1.2"/><circle cx="92.8" cy="71.4" r="0.8"/><circle cx="89.7" cy="65.4" r="1.1"/><circle cx="144.5" cy="30.8" r="0.7"/><circle cx="151.6" cy="39.0" r="1.1"/><circle cx="148.8" cy="25.5" r="0.8"/><circle cx="142.4" cy="-1.9" r="0.7"/><circle cx="127.1" cy="3.4" r="0.7"/><circle cx="130.1" cy="0.9" r="0.8"/><circle cx="123.7" cy="8.6" r="1.0"/><circle cx="163.9" cy="74.6" r="0.7"/><circle cx="165.9" cy="77.3" r="0.7"/><circle cx="167.1" cy="66.9" r="1.1"/><circle cx="164.7" cy="65.4" r="0.8"/><circle cx="148.2" cy="61.2" r="1.0"/><circle cx="150.9" cy="66.6" r="0.8"/><circle cx="120.6" cy="24.0" r="0.9"/><circle cx="103.7" cy="35.7" r="1.0"/><circle cx="113.9" cy="35.7" r="0.9"/><circle cx="110.2" cy="36.5" r="1.0"/><circle cx="108.6" cy="44.6" r="0.8"/><circle cx="80.1" cy="27.8" r="1.0"/><circle cx="62.2" cy="29.6" r="0.8"/><circle cx="66.6" cy="27.2" r="0.8"/><circle cx="67.6" cy="35.7" r="0.8"/><circle cx="72.4" cy="42.4" r="1.0"/><circle cx="68.9" cy="35.3" r="0.8"/><circle cx="86.3" cy="37.3" r="1.0"/><circle cx="45.3" cy="23.1" r="1.0"/><circle cx="43.7" cy="24.2" r="1.0"/><circle cx="42.8" cy="21.2" r="1.2"/><circle cx="38.9" cy="23.1" r="0.9"/><circle cx="37.8" cy="24.8" r="0.9"/><circle cx="51.9" cy="21.8" r="1.1"/><circle cx="53.1" cy="22.7" r="1.1"/><circle cx="50.1" cy="19.2" r="0.7"/><circle cx="43.8" cy="14.5" r="1.0"/><circle cx="39.4" cy="14.3" r="0.9"/><circle cx="38.5" cy="19.9" r="1.1"/><circle cx="66.6" cy="29.8" r="1.1"/><circle cx="41.8" cy="28.4" r="0.7"/><circle cx="39.6" cy="35.6" r="0.8"/><circle cx="43.1" cy="31.7" r="0.7"/><circle cx="59.3" cy="29.1" r="1.1"/><circle cx="56.6" cy="25.5" r="1.0"/><circle cx="50.4" cy="44.2" r="0.7"/><circle cx="46.1" cy="7.8" r="0.9"/><circle cx="83.2" cy="62.0" r="0.8"/><circle cx="88.1" cy="58.8" r="1.0"/><circle cx="84.3" cy="39.8" r="0.7"/><circle cx="77.0" cy="37.9" r="1.0"/><circle cx="156.6" cy="-2.8" r="0.7"/><circle cx="156.6" cy="60.9" r="0.8"/><circle cx="157.6" cy="63.3" r="1.0"/><circle cx="163.2" cy="60.8" r="1.0"/><circle cx="168.1" cy="9.8" r="0.8"/><circle cx="163.4" cy="11.3" r="0.7"/><circle cx="160.5" cy="9.5" r="0.9"/><circle cx="165.4" cy="10.0" r="1.2"/><circle cx="157.2" cy="12.7" r="0.9"/><circle cx="72.8" cy="125.1" r="1.0"/><circle cx="71.6" cy="116.3" r="1.1"/><circle cx="67.2" cy="118.5" r="1.2"/><circle cx="70.9" cy="118.4" r="0.9"/><circle cx="18.4" cy="128.3" r="0.9"/><circle cx="26.1" cy="98.4" r="0.9"/><circle cx="24.3" cy="94.7" r="1.0"/><circle cx="22.3" cy="109.5" r="1.1"/><circle cx="28.3" cy="111.6" r="1.1"/><circle cx="23.0" cy="104.1" r="1.0"/><circle cx="22.4" cy="97.3" r="0.9"/><circle cx="20.9" cy="106.8" r="1.2"/><circle cx="19.3" cy="111.1" r="0.8"/><circle cx="39.1" cy="113.8" r="0.7"/><circle cx="39.9" cy="108.3" r="1.1"/><circle cx="37.9" cy="116.1" r="1.2"/><circle cx="35.9" cy="110.9" r="1.1"/><circle cx="46.2" cy="89.9" r="0.8"/><circle cx="40.7" cy="91.1" r="0.8"/><circle cx="43.0" cy="91.2" r="1.1"/><circle cx="40.7" cy="96.5" r="1.1"/><circle cx="38.9" cy="91.3" r="0.9"/><circle cx="39.2" cy="105.2" r="1.1"/><circle cx="70.4" cy="54.2" r="1.0"/><circle cx="70.7" cy="61.0" r="1.0"/><circle cx="72.5" cy="57.7" r="1.1"/><circle cx="75.8" cy="62.0" r="1.1"/><circle cx="131.9" cy="69.1" r="1.0"/><circle cx="128.0" cy="62.7" r="1.2"/><circle cx="133.8" cy="70.5" r="0.7"/><circle cx="141.0" cy="70.8" r="0.8"/><circle cx="137.3" cy="67.4" r="1.0"/><circle cx="136.0" cy="62.1" r="1.2"/><circle cx="139.9" cy="58.2" r="0.8"/><circle cx="133.4" cy="63.2" r="1.1"/><circle cx="136.7" cy="96.7" r="1.1"/><circle cx="135.9" cy="99.4" r="1.1"/><circle cx="140.9" cy="99.0" r="1.0"/><circle cx="135.6" cy="94.0" r="1.2"/><circle cx="131.2" cy="98.4" r="1.0"/><circle cx="132.9" cy="101.5" r="0.8"/><circle cx="146.5" cy="92.5" r="1.0"/><circle cx="144.1" cy="91.6" r="1.0"/><circle cx="148.1" cy="96.9" r="0.8"/><circle cx="144.3" cy="106.9" r="1.0"/><circle cx="130.2" cy="102.3" r="0.8"/><circle cx="125.1" cy="100.9" r="0.7"/><circle cx="122.9" cy="96.0" r="0.8"/><circle cx="115.2" cy="96.1" r="1.2"/><circle cx="116.3" cy="83.0" r="1.1"/><circle cx="112.9" cy="85.9" r="1.1"/><circle cx="113.4" cy="81.8" r="0.8"/><circle cx="119.5" cy="89.9" r="0.9"/><circle cx="164.2" cy="86.9" r="0.7"/><circle cx="163.1" cy="87.1" r="0.9"/><circle cx="162.4" cy="82.7" r="1.2"/><circle cx="143.9" cy="80.0" r="1.2"/><circle cx="146.3" cy="85.0" r="0.8"/><circle cx="148.4" cy="84.3" r="1.1"/><circle cx="153.9" cy="83.0" r="0.8"/><circle cx="147.6" cy="90.0" r="1.0"/><circle cx="152.8" cy="114.3" r="0.8"/><circle cx="147.5" cy="106.5" r="1.1"/><circle cx="155.3" cy="107.1" r="1.2"/><circle cx="150.8" cy="106.7" r="1.1"/><circle cx="150.9" cy="106.2" r="1.2"/><circle cx="157.3" cy="94.3" r="0.9"/><circle cx="159.2" cy="100.5" r="1.2"/><circle cx="158.3" cy="97.2" r="0.8"/><circle cx="157.8" cy="100.8" r="1.0"/><circle cx="120.2" cy="130.8" r="0.8"/><circle cx="12.3" cy="72.9" r="1.0"/><circle cx="14.2" cy="66.7" r="1.0"/><circle cx="9.4" cy="74.8" r="1.1"/><circle cx="14.7" cy="75.7" r="0.7"/><circle cx="15.5" cy="64.1" r="1.2"/><circle cx="12.4" cy="65.4" r="0.9"/><circle cx="36.3" cy="56.3" r="0.9"/><circle cx="42.5" cy="50.5" r="1.2"/><circle cx="35.2" cy="52.8" r="0.7"/><circle cx="15.6" cy="85.3" r="0.9"/><circle cx="17.4" cy="87.7" r="1.0"/><circle cx="19.2" cy="82.8" r="0.8"/><circle cx="20.3" cy="88.0" r="0.8"/><circle cx="15.7" cy="99.9" r="0.9"/><circle cx="19.5" cy="93.3" r="1.1"/><circle cx="0.6" cy="101.2" r="0.7"/><circle cx="6.4" cy="95.8" r="0.7"/><circle cx="4.9" cy="93.1" r="1.0"/><circle cx="11.4" cy="50.0" r="0.9"/><circle cx="11.9" cy="51.9" r="1.0"/><circle cx="13.8" cy="55.3" r="1.1"/><circle cx="39.2" cy="6.0" r="1.1"/><circle cx="39.9" cy="4.7" r="1.1"/><circle cx="44.8" cy="5.1" r="0.7"/><circle cx="50.4" cy="3.1" r="1.0"/><circle cx="50.8" cy="3.9" r="0.9"/><circle cx="45.4" cy="1.4" r="0.9"/><circle cx="36.5" cy="2.9" r="1.0"/><circle cx="37.9" cy="4.8" r="1.0"/><circle cx="30.0" cy="5.1" r="0.7"/><circle cx="31.5" cy="8.3" r="1.0"/><circle cx="42.0" cy="-0.4" r="1.0"/><circle cx="38.1" cy="9.6" r="0.7"/><circle cx="24.3" cy="33.4" r="0.9"/><circle cx="26.0" cy="29.6" r="1.1"/><circle cx="35.6" cy="11.3" r="0.9"/><circle cx="36.2" cy="14.1" r="0.8"/><circle cx="35.0" cy="19.1" r="0.9"/><circle cx="20.2" cy="28.1" r="0.9"/><circle cx="17.0" cy="25.6" r="0.9"/><circle cx="14.9" cy="27.0" r="0.9"/><circle cx="21.8" cy="30.4" r="0.9"/><circle cx="18.1" cy="32.5" r="1.1"/><circle cx="49.2" cy="77.2" r="1.2"/><circle cx="48.6" cy="74.5" r="0.9"/><circle cx="43.7" cy="73.4" r="1.0"/><circle cx="41.6" cy="39.0" r="0.7"/><circle cx="42.0" cy="36.6" r="1.2"/><circle cx="9.7" cy="163.2" r="1.1"/><circle cx="10.8" cy="166.0" r="1.0"/><circle cx="8.7" cy="166.8" r="1.0"/><circle cx="8.5" cy="163.3" r="0.9"/><circle cx="11.2" cy="167.7" r="1.0"/><circle cx="15.1" cy="159.5" r="0.7"/><circle cx="19.0" cy="153.2" r="1.2"/><circle cx="39.6" cy="136.8" r="0.9"/><circle cx="31.3" cy="139.0" r="1.2"/><circle cx="40.5" cy="139.3" r="1.1"/><circle cx="35.9" cy="131.2" r="1.0"/><circle cx="36.9" cy="131.9" r="1.0"/><circle cx="43.0" cy="134.1" r="1.2"/><circle cx="25.4" cy="146.7" r="0.9"/><circle cx="31.8" cy="148.9" r="0.8"/><circle cx="47.9" cy="163.2" r="0.8"/><circle cx="46.4" cy="162.3" r="0.9"/><circle cx="48.5" cy="153.5" r="1.2"/><circle cx="52.5" cy="161.7" r="0.9"/><circle cx="51.1" cy="164.4" r="1.0"/><circle cx="112.1" cy="169.3" r="1.0"/><circle cx="108.4" cy="166.5" r="1.2"/><circle cx="95.9" cy="164.6" r="0.9"/><circle cx="95.4" cy="166.8" r="1.1"/><circle cx="134.5" cy="157.5" r="0.9"/><circle cx="135.5" cy="155.6" r="0.9"/><circle cx="132.5" cy="157.1" r="0.9"/><circle cx="130.0" cy="169.0" r="0.7"/><circle cx="127.9" cy="170.9" r="1.0"/><circle cx="102.2" cy="138.7" r="0.8"/><circle cx="102.0" cy="141.9" r="1.1"/><circle cx="104.0" cy="142.3" r="0.8"/><circle cx="102.0" cy="120.6" r="1.1"/><circle cx="105.9" cy="111.1" r="0.8"/><circle cx="103.0" cy="117.8" r="1.0"/><circle cx="111.8" cy="108.0" r="0.9"/><circle cx="154.0" cy="128.7" r="0.7"/><circle cx="162.9" cy="128.0" r="1.2"/><circle cx="163.6" cy="129.1" r="0.9"/><circle cx="163.2" cy="119.3" r="0.9"/><circle cx="159.6" cy="124.5" r="0.8"/><circle cx="9.9" cy="18.3" r="0.9"/><circle cx="20.1" cy="13.3" r="0.9"/><circle cx="19.2" cy="11.6" r="1.0"/><circle cx="163.3" cy="45.9" r="1.0"/><circle cx="153.4" cy="45.6" r="0.8"/><circle cx="151.6" cy="44.7" r="0.9"/><circle cx="155.8" cy="41.8" r="1.1"/><circle cx="157.2" cy="45.3" r="1.1"/><circle cx="162.6" cy="40.9" r="0.9"/><circle cx="150.1" cy="55.8" r="0.8"/><circle cx="148.9" cy="49.8" r="1.0"/><circle cx="156.7" cy="58.6" r="0.8"/><circle cx="154.2" cy="55.3" r="1.0"/><circle cx="157.0" cy="47.7" r="0.8"/><circle cx="148.5" cy="42.7" r="1.2"/><circle cx="144.5" cy="39.4" r="0.9"/><circle cx="143.3" cy="41.3" r="1.0"/><circle cx="143.7" cy="37.0" r="1.1"/><circle cx="140.9" cy="13.1" r="0.9"/><circle cx="140.5" cy="10.0" r="0.8"/><circle cx="149.5" cy="15.4" r="1.1"/><circle cx="140.8" cy="13.5" r="1.2"/><circle cx="154.1" cy="19.1" r="0.7"/><circle cx="153.2" cy="26.0" r="1.0"/><circle cx="149.5" cy="22.9" r="0.8"/><circle cx="141.7" cy="6.9" r="1.1"/><circle cx="140.2" cy="6.0" r="0.7"/><circle cx="140.9" cy="7.4" r="0.9"/><circle cx="136.7" cy="2.7" r="0.7"/><circle cx="126.0" cy="30.4" r="0.8"/><circle cx="122.9" cy="28.5" r="1.2"/><circle cx="124.3" cy="31.3" r="1.1"/><circle cx="121.6" cy="30.7" r="1.1"/><circle cx="135.8" cy="26.5" r="1.0"/><circle cx="128.8" cy="34.6" r="1.0"/><circle cx="109.3" cy="-1.8" r="1.2"/><circle cx="77.5" cy="31.1" r="1.0"/><circle cx="75.1" cy="31.4" r="1.1"/><circle cx="74.1" cy="27.4" r="0.8"/><circle cx="80.6" cy="20.3" r="0.9"/><circle cx="80.9" cy="15.5" r="1.0"/><circle cx="49.5" cy="30.9" r="0.9"/><circle cx="52.7" cy="32.9" r="0.8"/><circle cx="52.6" cy="31.7" r="0.9"/><circle cx="45.8" cy="35.7" r="0.8"/><circle cx="46.4" cy="29.4" r="1.1"/><circle cx="50.1" cy="35.9" r="0.9"/><circle cx="85.3" cy="50.7" r="0.9"/><circle cx="164.6" cy="49.8" r="0.8"/><circle cx="168.5" cy="49.6" r="1.0"/><circle cx="164.7" cy="40.8" r="1.1"/><circle cx="166.0" cy="41.9" r="1.1"/><circle cx="167.1" cy="40.7" r="1.0"/><circle cx="172.1" cy="67.3" r="0.8"/><circle cx="168.9" cy="51.1" r="1.2"/><circle cx="78.8" cy="124.7" r="1.0"/><circle cx="77.0" cy="123.8" r="0.9"/><circle cx="81.1" cy="121.9" r="0.8"/><circle cx="80.6" cy="118.7" r="1.2"/><circle cx="82.0" cy="119.6" r="0.9"/><circle cx="85.0" cy="122.8" r="1.0"/><circle cx="86.2" cy="126.4" r="1.1"/><circle cx="78.3" cy="126.2" r="0.9"/><circle cx="19.8" cy="128.8" r="0.8"/><circle cx="21.4" cy="129.4" r="1.1"/><circle cx="26.1" cy="133.1" r="1.0"/><circle cx="23.6" cy="134.8" r="1.2"/><circle cx="43.9" cy="120.8" r="0.7"/><circle cx="34.6" cy="119.1" r="0.7"/><circle cx="51.1" cy="82.6" r="1.0"/><circle cx="82.1" cy="54.2" r="1.2"/><circle cx="74.8" cy="50.7" r="1.0"/><circle cx="108.5" cy="94.8" r="1.0"/><circle cx="108.8" cy="86.6" r="0.9"/><circle cx="114.6" cy="96.0" r="1.0"/><circle cx="28.3" cy="51.7" r="1.1"/><circle cx="25.9" cy="51.9" r="0.7"/><circle cx="24.3" cy="57.2" r="0.8"/><circle cx="29.0" cy="51.3" r="0.8"/><circle cx="14.1" cy="94.9" r="1.1"/><circle cx="8.7" cy="97.4" r="1.0"/><circle cx="-2.3" cy="50.0" r="0.7"/><circle cx="-1.0" cy="40.7" r="1.2"/><circle cx="7.3" cy="59.6" r="0.8"/><circle cx="3.3" cy="36.0" r="0.7"/><circle cx="30.4" cy="31.4" r="1.0"/><circle cx="17.0" cy="19.8" r="0.8"/><circle cx="21.8" cy="22.6" r="0.9"/><circle cx="30.2" cy="26.1" r="1.0"/><circle cx="30.3" cy="19.8" r="1.0"/><circle cx="32.5" cy="25.0" r="1.0"/><circle cx="28.4" cy="19.9" r="1.0"/><circle cx="27.8" cy="20.2" r="0.8"/><circle cx="32.5" cy="19.5" r="1.1"/><circle cx="34.0" cy="24.1" r="0.8"/><circle cx="6.7" cy="30.6" r="1.0"/><circle cx="5.4" cy="30.7" r="1.0"/><circle cx="3.7" cy="27.2" r="1.2"/><circle cx="11.6" cy="25.0" r="1.1"/><circle cx="8.6" cy="23.9" r="0.7"/><circle cx="47.4" cy="75.7" r="1.0"/><circle cx="6.9" cy="163.1" r="0.8"/><circle cx="5.1" cy="159.5" r="0.8"/><circle cx="-1.2" cy="159.7" r="0.9"/><circle cx="2.2" cy="158.8" r="1.2"/><circle cx="130.6" cy="150.5" r="0.9"/><circle cx="136.8" cy="152.9" r="0.7"/><circle cx="101.2" cy="112.8" r="1.1"/><circle cx="98.0" cy="116.5" r="1.0"/><circle cx="96.8" cy="113.0" r="0.9"/><circle cx="21.4" cy="5.0" r="1.2"/><circle cx="21.2" cy="4.2" r="0.7"/><circle cx="18.9" cy="-2.8" r="0.7"/><circle cx="23.0" cy="9.3" r="0.7"/><circle cx="24.7" cy="15.2" r="0.9"/><circle cx="21.9" cy="6.7" r="0.8"/><circle cx="-1.5" cy="2.2" r="1.0"/><circle cx="-2.6" cy="0.9" r="0.9"/><circle cx="-3.4" cy="22.6" r="1.1"/><circle cx="-3.6" cy="24.8" r="1.1"/><circle cx="1.3" cy="14.3" r="1.0"/><circle cx="4.8" cy="12.4" r="0.7"/><circle cx="-2.5" cy="10.0" r="1.1"/><circle cx="161.8" cy="53.3" r="0.7"/><circle cx="159.1" cy="54.9" r="1.2"/><circle cx="161.0" cy="50.5" r="1.0"/><circle cx="162.2" cy="55.6" r="0.9"/><circle cx="167.6" cy="53.1" r="1.1"/><circle cx="156.3" cy="55.1" r="1.1"/><circle cx="135.8" cy="12.9" r="0.9"/><circle cx="135.5" cy="18.6" r="1.1"/><circle cx="137.7" cy="22.1" r="0.9"/><circle cx="145.4" cy="72.3" r="1.1"/><circle cx="142.0" cy="76.8" r="1.1"/><circle cx="142.2" cy="75.5" r="0.9"/><circle cx="150.1" cy="70.4" r="0.7"/><circle cx="157.8" cy="66.5" r="1.0"/><circle cx="157.2" cy="68.7" r="0.7"/><circle cx="133.0" cy="20.7" r="0.8"/><circle cx="126.2" cy="11.1" r="1.0"/><circle cx="62.1" cy="17.4" r="1.1"/><circle cx="57.5" cy="19.0" r="0.9"/><circle cx="63.8" cy="20.4" r="1.1"/><circle cx="65.4" cy="15.9" r="1.0"/><circle cx="53.5" cy="15.4" r="1.2"/><circle cx="78.5" cy="16.3" r="1.2"/><circle cx="71.1" cy="13.8" r="0.8"/><circle cx="68.7" cy="19.6" r="0.8"/><circle cx="70.8" cy="12.8" r="1.1"/><circle cx="72.6" cy="11.9" r="0.7"/><circle cx="37.2" cy="125.8" r="1.0"/><circle cx="42.3" cy="127.2" r="1.0"/><circle cx="45.8" cy="83.1" r="0.8"/><circle cx="45.0" cy="81.8" r="1.1"/><circle cx="-2.7" cy="57.4" r="1.1"/><circle cx="-0.3" cy="69.0" r="0.8"/><circle cx="2.1" cy="72.9" r="0.8"/><circle cx="-0.9" cy="73.4" r="0.8"/><circle cx="6.0" cy="67.1" r="0.9"/><circle cx="4.1" cy="60.3" r="0.8"/><circle cx="2.4" cy="74.6" r="1.1"/><circle cx="2.8" cy="53.8" r="0.9"/><circle cx="4.5" cy="56.5" r="0.9"/><circle cx="4.8" cy="50.5" r="0.9"/><circle cx="1.7" cy="165.2" r="1.1"/><circle cx="-0.8" cy="162.7" r="1.0"/><circle cx="103.1" cy="102.3" r="1.1"/><circle cx="101.8" cy="100.4" r="0.9"/><circle cx="105.2" cy="104.1" r="1.0"/><circle cx="100.3" cy="106.8" r="0.7"/><circle cx="96.2" cy="109.0" r="0.8"/><circle cx="15.9" cy="6.3" r="1.0"/><circle cx="16.2" cy="8.6" r="1.1"/><circle cx="16.0" cy="-1.0" r="0.7"/><circle cx="11.3" cy="0.4" r="1.0"/><circle cx="148.9" cy="75.0" r="1.0"/><circle cx="151.1" cy="73.6" r="0.8"/><circle cx="148.2" cy="78.8" r="0.7"/><circle cx="153.5" cy="74.7" r="1.1"/><circle cx="144.2" cy="76.2" r="0.9"/><circle cx="152.7" cy="80.2" r="0.9"/><circle cx="80.7" cy="-0.6" r="0.8"/><circle cx="71.0" cy="4.3" r="0.9"/><circle cx="56.0" cy="4.3" r="0.8"/><circle cx="56.0" cy="10.8" r="1.0"/><circle cx="61.8" cy="6.9" r="1.2"/><circle cx="58.4" cy="11.5" r="0.9"/><circle cx="60.6" cy="11.7" r="0.7"/><circle cx="56.4" cy="-2.8" r="1.0"/><circle cx="56.3" cy="-0.3" r="0.8"/><circle cx="62.5" cy="-2.1" r="1.0"/><circle cx="69.5" cy="-1.5" r="0.7"/><circle cx="78.3" cy="4.7" r="0.7"/><circle cx="74.6" cy="5.9" r="0.9"/><circle cx="72.3" cy="4.8" r="1.0"/><circle cx="77.3" cy="-1.0" r="0.7"/><circle cx="78.3" cy="1.1" r="1.0"/><circle cx="73.5" cy="3.8" r="0.8"/><circle cx="80.4" cy="0.6" r="0.7"/><circle cx="76.3" cy="73.2" r="0.7"/><circle cx="74.7" cy="76.6" r="1.0"/><circle cx="10.5" cy="134.3" r="1.0"/><circle cx="7.3" cy="139.6" r="0.9"/><circle cx="11.6" cy="140.6" r="0.9"/><circle cx="59.9" cy="167.2" r="0.9"/><circle cx="61.9" cy="170.2" r="0.8"/><circle cx="170.7" cy="152.8" r="0.8"/><circle cx="79.5" cy="76.4" r="0.8"/><circle cx="59.6" cy="81.3" r="1.0"/><circle cx="56.7" cy="76.8" r="0.8"/><circle cx="67.8" cy="80.3" r="0.8"/><circle cx="66.2" cy="112.6" r="0.7"/><circle cx="67.5" cy="109.3" r="1.0"/><circle cx="72.1" cy="106.4" r="0.7"/><circle cx="67.4" cy="106.6" r="0.8"/><circle cx="133.6" cy="83.9" r="0.7"/><circle cx="131.3" cy="80.6" r="1.1"/><circle cx="125.9" cy="81.2" r="1.0"/><circle cx="0.9" cy="80.1" r="1.0"/><circle cx="1.9" cy="81.9" r="1.0"/><circle cx="-2.3" cy="87.1" r="1.0"/><circle cx="1.1" cy="85.1" r="0.9"/><circle cx="0.5" cy="136.6" r="0.8"/><circle cx="31.4" cy="160.5" r="1.0"/><circle cx="64.8" cy="119.6" r="1.0"/><circle cx="63.5" cy="120.3" r="0.9"/><circle cx="56.3" cy="166.1" r="1.0"/><circle cx="139.5" cy="169.4" r="0.7"/><circle cx="69.2" cy="167.1" r="1.0"/><circle cx="78.4" cy="162.4" r="1.0"/><circle cx="81.2" cy="162.7" r="0.8"/><circle cx="115.7" cy="152.8" r="0.8"/><circle cx="95.5" cy="126.0" r="0.9"/><circle cx="117.8" cy="155.3" r="1.1"/><circle cx="112.5" cy="158.2" r="0.7"/><circle cx="119.2" cy="157.3" r="0.9"/><circle cx="139.6" cy="139.9" r="0.9"/><circle cx="160.8" cy="147.1" r="1.0"/><circle cx="153.0" cy="146.6" r="0.7"/><circle cx="156.7" cy="153.5" r="1.0"/><circle cx="163.1" cy="149.8" r="1.0"/><circle cx="155.5" cy="143.3" r="1.1"/><circle cx="145.3" cy="148.5" r="0.7"/><circle cx="143.4" cy="146.3" r="1.0"/><circle cx="147.9" cy="149.5" r="0.8"/><circle cx="169.0" cy="159.6" r="1.0"/><circle cx="169.7" cy="165.1" r="0.8"/><circle cx="112.7" cy="75.3" r="0.9"/><circle cx="80.9" cy="70.1" r="0.8"/><circle cx="111.2" cy="58.0" r="0.8"/><circle cx="94.5" cy="59.4" r="1.0"/><circle cx="92.5" cy="60.3" r="0.9"/><circle cx="88.8" cy="57.7" r="1.0"/><circle cx="92.5" cy="55.1" r="0.9"/><circle cx="96.3" cy="59.9" r="0.8"/><circle cx="134.0" cy="34.1" r="1.0"/><circle cx="112.2" cy="16.9" r="0.8"/><circle cx="113.9" cy="21.2" r="0.9"/><circle cx="115.7" cy="19.6" r="0.8"/><circle cx="109.5" cy="15.2" r="1.1"/><circle cx="116.6" cy="22.4" r="0.8"/><circle cx="106.3" cy="49.1" r="1.0"/><circle cx="105.5" cy="20.8" r="1.0"/><circle cx="98.3" cy="1.2" r="1.0"/><circle cx="96.4" cy="4.0" r="1.0"/><circle cx="93.5" cy="-2.5" r="0.8"/><circle cx="99.4" cy="16.8" r="1.0"/><circle cx="101.4" cy="13.5" r="0.9"/><circle cx="99.3" cy="7.0" r="0.8"/><circle cx="60.3" cy="46.4" r="0.8"/><circle cx="61.1" cy="44.0" r="0.7"/><circle cx="165.1" cy="0.6" r="0.7"/><circle cx="168.6" cy="4.9" r="0.9"/><circle cx="8.4" cy="120.5" r="0.9"/><circle cx="9.9" cy="121.0" r="1.1"/><circle cx="40.2" cy="75.4" r="1.1"/><circle cx="36.8" cy="75.4" r="0.9"/><circle cx="34.0" cy="123.4" r="0.7"/><circle cx="27.7" cy="122.1" r="0.9"/><circle cx="29.4" cy="122.9" r="0.8"/><circle cx="25.0" cy="122.2" r="0.9"/><circle cx="17.5" cy="117.8" r="1.0"/><circle cx="50.5" cy="119.6" r="1.1"/><circle cx="55.3" cy="105.6" r="0.8"/><circle cx="55.5" cy="112.3" r="1.0"/><circle cx="52.0" cy="112.7" r="0.9"/><circle cx="64.6" cy="80.3" r="0.9"/><circle cx="65.9" cy="68.3" r="0.9"/><circle cx="107.2" cy="79.1" r="1.0"/><circle cx="107.0" cy="76.5" r="0.8"/><circle cx="108.7" cy="77.0" r="1.0"/><circle cx="80.8" cy="106.6" r="1.0"/><circle cx="80.7" cy="111.4" r="0.7"/><circle cx="78.6" cy="105.2" r="1.1"/><circle cx="120.3" cy="70.9" r="0.9"/><circle cx="113.0" cy="65.6" r="0.7"/><circle cx="128.1" cy="87.1" r="1.1"/><circle cx="141.9" cy="81.0" r="0.8"/><circle cx="150.7" cy="117.6" r="0.8"/><circle cx="147.1" cy="119.7" r="0.8"/><circle cx="149.6" cy="127.0" r="0.8"/><circle cx="5.7" cy="87.4" r="0.7"/><circle cx="15.7" cy="100.7" r="1.0"/><circle cx="14.1" cy="101.0" r="0.9"/><circle cx="7.5" cy="91.7" r="0.8"/><circle cx="17.5" cy="39.3" r="0.8"/><circle cx="22.4" cy="40.3" r="0.9"/><circle cx="22.1" cy="37.3" r="0.9"/><circle cx="18.5" cy="37.2" r="0.7"/><circle cx="30.9" cy="62.9" r="0.8"/><circle cx="37.1" cy="59.1" r="1.0"/><circle cx="40.6" cy="61.9" r="1.1"/><circle cx="36.6" cy="56.6" r="0.9"/><circle cx="39.7" cy="53.6" r="0.9"/><circle cx="54.8" cy="49.5" r="0.7"/><circle cx="29.2" cy="38.8" r="0.9"/><circle cx="32.9" cy="39.0" r="0.9"/><circle cx="22.6" cy="168.2" r="1.0"/><circle cx="19.7" cy="169.2" r="0.9"/><circle cx="16.2" cy="145.6" r="0.8"/><circle cx="15.0" cy="142.1" r="0.8"/><circle cx="47.8" cy="146.2" r="1.1"/><circle cx="61.2" cy="145.8" r="0.8"/><circle cx="60.9" cy="141.2" r="0.9"/><circle cx="58.2" cy="142.4" r="0.9"/><circle cx="56.6" cy="139.1" r="1.1"/><circle cx="54.9" cy="143.2" r="0.8"/><circle cx="57.4" cy="127.1" r="0.7"/><circle cx="52.5" cy="127.1" r="0.8"/><circle cx="49.8" cy="149.3" r="1.0"/><circle cx="55.8" cy="144.8" r="0.9"/><circle cx="53.9" cy="147.6" r="0.8"/><circle cx="34.9" cy="169.8" r="1.0"/><circle cx="36.5" cy="162.6" r="0.7"/><circle cx="42.1" cy="157.1" r="0.7"/><circle cx="86.7" cy="168.5" r="0.8"/><circle cx="142.0" cy="167.5" r="0.8"/><circle cx="148.7" cy="165.3" r="1.1"/><circle cx="134.6" cy="162.1" r="1.1"/><circle cx="132.6" cy="166.1" r="0.9"/><circle cx="86.8" cy="158.4" r="1.0"/><circle cx="89.6" cy="152.0" r="0.9"/><circle cx="91.4" cy="156.1" r="0.8"/><circle cx="95.2" cy="157.3" r="0.7"/><circle cx="70.3" cy="147.9" r="0.7"/><circle cx="78.1" cy="148.3" r="0.9"/><circle cx="79.2" cy="141.7" r="1.0"/><circle cx="107.3" cy="145.7" r="0.7"/><circle cx="89.6" cy="145.7" r="1.0"/><circle cx="101.4" cy="162.1" r="0.7"/><circle cx="100.6" cy="157.4" r="1.0"/><circle cx="107.6" cy="158.4" r="0.8"/><circle cx="96.5" cy="150.1" r="0.8"/><circle cx="91.3" cy="143.9" r="1.0"/><circle cx="97.2" cy="125.3" r="1.1"/><circle cx="98.8" cy="119.2" r="0.9"/><circle cx="116.2" cy="119.5" r="1.0"/><circle cx="116.0" cy="115.4" r="1.1"/><circle cx="112.5" cy="112.8" r="0.7"/><circle cx="113.3" cy="160.9" r="1.0"/><circle cx="169.3" cy="140.5" r="1.0"/><circle cx="166.4" cy="139.7" r="1.0"/><circle cx="154.7" cy="165.2" r="0.8"/><circle cx="154.7" cy="159.3" r="1.0"/><circle cx="157.0" cy="160.3" r="0.8"/><circle cx="154.5" cy="163.7" r="0.9"/><circle cx="164.6" cy="163.4" r="0.9"/><circle cx="149.2" cy="139.4" r="0.8"/><circle cx="144.1" cy="140.9" r="0.9"/><circle cx="155.0" cy="137.7" r="0.8"/><circle cx="144.1" cy="142.6" r="0.8"/><circle cx="157.2" cy="135.9" r="1.0"/><circle cx="142.7" cy="141.5" r="0.8"/><circle cx="144.6" cy="154.0" r="0.9"/><circle cx="146.4" cy="153.4" r="1.1"/><circle cx="90.5" cy="53.3" r="0.8"/><circle cx="112.0" cy="63.4" r="1.0"/><circle cx="116.8" cy="54.9" r="0.9"/><circle cx="86.9" cy="70.7" r="1.1"/><circle cx="83.8" cy="77.6" r="0.9"/><circle cx="88.2" cy="72.6" r="1.1"/><circle cx="77.3" cy="81.7" r="0.9"/><circle cx="73.7" cy="81.0" r="0.7"/><circle cx="77.1" cy="80.6" r="0.7"/><circle cx="65.6" cy="85.8" r="1.1"/><circle cx="161.1" cy="31.1" r="0.9"/><circle cx="162.9" cy="34.9" r="0.8"/><circle cx="161.5" cy="28.7" r="0.9"/><circle cx="159.6" cy="31.7" r="1.0"/><circle cx="144.1" cy="47.9" r="0.9"/><circle cx="138.2" cy="43.8" r="1.0"/><circle cx="131.5" cy="42.6" r="0.9"/><circle cx="131.9" cy="45.0" r="0.8"/><circle cx="153.8" cy="30.2" r="0.9"/><circle cx="158.0" cy="35.4" r="1.1"/><circle cx="151.7" cy="-0.4" r="0.9"/><circle cx="148.7" cy="3.6" r="0.8"/><circle cx="128.1" cy="37.8" r="1.0"/><circle cx="104.7" cy="11.7" r="0.9"/><circle cx="111.5" cy="2.9" r="0.7"/><circle cx="115.8" cy="8.6" r="0.9"/><circle cx="113.6" cy="5.1" r="0.7"/><circle cx="111.3" cy="1.7" r="1.0"/><circle cx="112.6" cy="1.0" r="0.9"/><circle cx="117.0" cy="2.1" r="0.7"/><circle cx="117.9" cy="26.0" r="1.0"/><circle cx="113.8" cy="28.4" r="0.8"/><circle cx="88.2" cy="0.1" r="0.9"/><circle cx="102.7" cy="43.3" r="0.9"/><circle cx="97.0" cy="18.7" r="0.9"/><circle cx="94.4" cy="25.6" r="1.0"/><circle cx="100.2" cy="29.7" r="0.8"/><circle cx="107.4" cy="26.4" r="0.9"/><circle cx="94.0" cy="31.6" r="0.7"/><circle cx="101.9" cy="34.2" r="1.0"/><circle cx="89.0" cy="19.6" r="0.9"/><circle cx="92.7" cy="18.8" r="1.0"/><circle cx="84.6" cy="21.0" r="0.8"/><circle cx="89.4" cy="16.1" r="0.8"/><circle cx="156.3" cy="5.5" r="0.9"/><circle cx="157.2" cy="16.8" r="0.7"/><circle cx="161.9" cy="15.8" r="0.9"/><circle cx="86.6" cy="119.6" r="0.9"/><circle cx="87.5" cy="129.0" r="1.0"/><circle cx="90.4" cy="133.3" r="1.1"/><circle cx="87.7" cy="124.0" r="0.7"/><circle cx="88.1" cy="133.9" r="0.8"/><circle cx="1.2" cy="119.4" r="0.7"/><circle cx="1.9" cy="120.4" r="0.7"/><circle cx="6.7" cy="115.3" r="0.9"/><circle cx="7.9" cy="116.2" r="1.0"/><circle cx="3.2" cy="108.0" r="0.8"/><circle cx="-0.1" cy="110.2" r="0.9"/><circle cx="23.5" cy="116.6" r="0.9"/><circle cx="25.1" cy="145.8" r="1.0"/><circle cx="25.8" cy="144.1" r="0.7"/><circle cx="38.2" cy="79.2" r="0.8"/><circle cx="52.0" cy="117.7" r="1.0"/><circle cx="60.5" cy="88.7" r="0.9"/><circle cx="55.1" cy="86.3" r="0.8"/><circle cx="29.5" cy="97.1" r="1.1"/><circle cx="30.6" cy="91.7" r="1.0"/><circle cx="45.4" cy="99.1" r="1.0"/><circle cx="54.4" cy="104.1" r="0.7"/><circle cx="32.5" cy="81.6" r="1.0"/><circle cx="29.2" cy="76.5" r="1.0"/><circle cx="36.0" cy="85.3" r="1.1"/><circle cx="34.2" cy="106.4" r="0.8"/><circle cx="58.5" cy="45.1" r="1.0"/><circle cx="70.0" cy="63.5" r="1.0"/><circle cx="67.0" cy="104.1" r="0.9"/><circle cx="64.5" cy="103.1" r="0.9"/><circle cx="62.2" cy="102.3" r="0.7"/><circle cx="63.0" cy="95.4" r="1.0"/><circle cx="96.0" cy="84.2" r="0.7"/><circle cx="91.5" cy="82.7" r="1.0"/><circle cx="91.7" cy="81.2" r="1.0"/><circle cx="98.3" cy="93.1" r="0.8"/><circle cx="83.4" cy="98.9" r="1.0"/><circle cx="90.5" cy="100.3" r="1.0"/><circle cx="70.5" cy="100.8" r="0.7"/><circle cx="122.1" cy="62.0" r="0.9"/><circle cx="122.4" cy="48.0" r="0.7"/><circle cx="119.8" cy="51.1" r="0.9"/><circle cx="117.8" cy="44.2" r="1.0"/><circle cx="145.3" cy="61.6" r="0.8"/><circle cx="146.0" cy="59.0" r="0.9"/><circle cx="140.6" cy="62.7" r="1.0"/><circle cx="135.0" cy="72.4" r="0.8"/><circle cx="135.7" cy="75.4" r="1.0"/><circle cx="126.8" cy="69.3" r="1.1"/><circle cx="137.6" cy="112.9" r="0.7"/><circle cx="141.0" cy="111.7" r="1.0"/><circle cx="131.9" cy="92.5" r="0.8"/><circle cx="135.1" cy="83.7" r="1.0"/><circle cx="126.3" cy="107.5" r="0.8"/><circle cx="159.0" cy="115.3" r="0.7"/><circle cx="144.4" cy="105.0" r="0.9"/><circle cx="170.3" cy="88.0" r="0.8"/><circle cx="156.7" cy="107.3" r="0.9"/><circle cx="138.8" cy="126.8" r="1.0"/><circle cx="137.8" cy="118.6" r="0.9"/><circle cx="137.5" cy="126.5" r="1.0"/><circle cx="133.5" cy="127.8" r="0.9"/><circle cx="131.2" cy="143.6" r="1.1"/><circle cx="130.6" cy="136.5" r="1.1"/><circle cx="128.4" cy="139.1" r="0.9"/><circle cx="124.6" cy="142.9" r="0.9"/><circle cx="126.9" cy="141.3" r="0.7"/><circle cx="124.0" cy="145.3" r="0.8"/><circle cx="118.6" cy="144.4" r="0.9"/><circle cx="123.1" cy="141.3" r="0.9"/><circle cx="119.6" cy="127.1" r="0.8"/><circle cx="116.7" cy="135.2" r="1.0"/><circle cx="109.7" cy="139.5" r="0.8"/><circle cx="19.3" cy="60.8" r="0.8"/><circle cx="22.1" cy="67.6" r="0.9"/><circle cx="24.2" cy="66.6" r="1.1"/><circle cx="21.6" cy="66.3" r="0.8"/><circle cx="22.8" cy="60.6" r="1.0"/><circle cx="19.8" cy="62.5" r="0.9"/><circle cx="8.1" cy="84.9" r="1.0"/><circle cx="21.1" cy="78.9" r="0.7"/><circle cx="21.7" cy="76.6" r="0.8"/><circle cx="7.1" cy="41.5" r="0.7"/><circle cx="23.9" cy="49.7" r="0.9"/><circle cx="18.5" cy="45.7" r="0.9"/><circle cx="25.9" cy="43.1" r="0.9"/><circle cx="27.9" cy="46.1" r="0.8"/><circle cx="6.2" cy="47.4" r="0.9"/><circle cx="13.8" cy="46.1" r="0.8"/><circle cx="30.6" cy="36.4" r="1.0"/><circle cx="40.6" cy="65.6" r="0.9"/><circle cx="41.8" cy="71.0" r="0.7"/><circle cx="60.1" cy="59.2" r="1.0"/><circle cx="61.8" cy="52.6" r="0.8"/><circle cx="61.1" cy="62.4" r="0.8"/><circle cx="52.4" cy="62.6" r="0.8"/><circle cx="59.8" cy="61.2" r="0.7"/><circle cx="69.8" cy="63.1" r="0.7"/><circle cx="36.5" cy="42.8" r="0.9"/><circle cx="35.6" cy="46.7" r="0.8"/><circle cx="11.0" cy="153.8" r="1.0"/><circle cx="41.1" cy="141.1" r="1.0"/><circle cx="30.6" cy="155.5" r="0.9"/><circle cx="34.2" cy="151.7" r="0.8"/><circle cx="56.0" cy="149.3" r="0.7"/><circle cx="56.1" cy="159.9" r="0.8"/><circle cx="127.5" cy="157.6" r="0.9"/><circle cx="62.4" cy="158.5" r="0.9"/><circle cx="61.9" cy="152.4" r="0.7"/><circle cx="64.2" cy="162.1" r="0.8"/><circle cx="73.3" cy="163.3" r="1.0"/><circle cx="75.6" cy="162.2" r="0.8"/><circle cx="107.4" cy="138.4" r="0.8"/><circle cx="105.7" cy="143.0" r="0.9"/><circle cx="119.8" cy="112.3" r="1.0"/><circle cx="93.2" cy="114.2" r="1.0"/><circle cx="95.7" cy="98.0" r="0.7"/><circle cx="92.8" cy="105.6" r="1.1"/><circle cx="120.5" cy="102.4" r="1.0"/><circle cx="169.4" cy="122.6" r="0.8"/><circle cx="148.5" cy="136.6" r="1.1"/><circle cx="164.6" cy="130.3" r="1.0"/><circle cx="93.9" cy="43.8" r="0.7"/><circle cx="85.5" cy="84.1" r="1.0"/><circle cx="83.9" cy="87.6" r="0.8"/><circle cx="81.5" cy="85.4" r="1.1"/><circle cx="94.6" cy="68.1" r="0.8"/><circle cx="94.6" cy="72.1" r="1.1"/><circle cx="145.1" cy="31.8" r="1.0"/><circle cx="156.1" cy="37.6" r="1.1"/><circle cx="150.2" cy="30.8" r="0.9"/><circle cx="148.3" cy="-1.7" r="0.9"/><circle cx="128.1" cy="2.9" r="0.9"/><circle cx="130.2" cy="3.3" r="1.1"/><circle cx="126.7" cy="4.7" r="1.0"/><circle cx="134.5" cy="1.4" r="0.8"/><circle cx="118.8" cy="-1.8" r="0.9"/><circle cx="125.4" cy="-2.4" r="1.0"/><circle cx="164.6" cy="75.8" r="1.0"/><circle cx="161.1" cy="73.0" r="0.9"/><circle cx="104.9" cy="35.4" r="0.8"/><circle cx="108.6" cy="29.8" r="0.9"/><circle cx="114.0" cy="42.8" r="0.8"/><circle cx="80.2" cy="29.8" r="0.7"/><circle cx="81.0" cy="31.7" r="0.8"/><circle cx="68.0" cy="42.3" r="1.0"/><circle cx="72.5" cy="41.9" r="0.7"/><circle cx="50.5" cy="15.2" r="1.1"/><circle cx="48.7" cy="14.5" r="0.7"/><circle cx="35.9" cy="22.9" r="1.1"/><circle cx="63.1" cy="40.8" r="0.7"/><circle cx="57.6" cy="40.4" r="1.0"/><circle cx="56.3" cy="36.7" r="0.8"/><circle cx="44.7" cy="28.6" r="1.0"/><circle cx="38.7" cy="35.4" r="0.7"/><circle cx="48.9" cy="27.0" r="0.7"/><circle cx="51.2" cy="42.0" r="0.9"/><circle cx="49.4" cy="11.3" r="1.0"/><circle cx="82.8" cy="62.0" r="1.0"/><circle cx="87.6" cy="43.2" r="1.1"/><circle cx="87.9" cy="45.9" r="0.9"/><circle cx="83.6" cy="43.6" r="1.0"/><circle cx="81.7" cy="40.8" r="1.0"/><circle cx="163.4" cy="63.0" r="1.0"/><circle cx="157.2" cy="63.0" r="0.8"/><circle cx="160.6" cy="9.8" r="0.8"/><circle cx="161.6" cy="6.0" r="0.8"/><circle cx="71.2" cy="114.9" r="1.0"/><circle cx="70.9" cy="132.5" r="0.8"/><circle cx="46.0" cy="127.7" r="1.0"/><circle cx="44.6" cy="132.4" r="0.8"/><circle cx="26.3" cy="98.2" r="0.8"/><circle cx="27.3" cy="106.7" r="0.8"/><circle cx="23.1" cy="106.0" r="0.7"/><circle cx="25.8" cy="111.8" r="1.0"/><circle cx="23.6" cy="111.7" r="0.8"/><circle cx="22.6" cy="97.4" r="1.0"/><circle cx="38.4" cy="113.1" r="1.1"/><circle cx="42.2" cy="111.2" r="1.0"/><circle cx="37.8" cy="107.5" r="0.8"/><circle cx="35.3" cy="111.2" r="1.1"/><circle cx="46.0" cy="90.0" r="0.9"/><circle cx="41.7" cy="102.2" r="1.0"/><circle cx="38.9" cy="105.8" r="0.9"/><circle cx="69.2" cy="51.9" r="1.0"/><circle cx="130.3" cy="66.0" r="0.8"/><circle cx="140.0" cy="73.0" r="1.0"/><circle cx="138.5" cy="59.4" r="0.8"/><circle cx="134.1" cy="59.7" r="0.8"/><circle cx="139.8" cy="58.2" r="0.8"/><circle cx="130.8" cy="94.0" r="0.8"/><circle cx="132.2" cy="101.6" r="1.0"/><circle cx="148.5" cy="98.1" r="0.9"/><circle cx="138.0" cy="105.0" r="0.9"/><circle cx="144.8" cy="106.5" r="1.0"/><circle cx="129.7" cy="96.3" r="1.1"/><circle cx="118.3" cy="99.8" r="0.9"/><circle cx="107.7" cy="85.0" r="0.8"/><circle cx="160.4" cy="83.8" r="0.8"/><circle cx="167.8" cy="82.8" r="1.0"/><circle cx="157.7" cy="80.4" r="1.1"/><circle cx="156.7" cy="91.1" r="1.1"/><circle cx="147.9" cy="93.4" r="0.7"/><circle cx="150.3" cy="86.5" r="0.9"/><circle cx="151.0" cy="109.8" r="0.9"/><circle cx="152.9" cy="114.4" r="0.9"/><circle cx="153.2" cy="106.9" r="0.7"/><circle cx="150.9" cy="106.0" r="0.8"/><circle cx="152.4" cy="101.3" r="1.0"/><circle cx="159.3" cy="100.5" r="1.0"/><circle cx="123.6" cy="133.3" r="0.7"/><circle cx="16.7" cy="69.4" r="0.9"/><circle cx="13.0" cy="66.0" r="1.0"/><circle cx="11.8" cy="66.2" r="0.8"/><circle cx="17.3" cy="70.0" r="1.0"/><circle cx="9.4" cy="74.7" r="0.9"/><circle cx="12.3" cy="64.6" r="0.9"/><circle cx="35.4" cy="50.9" r="0.7"/><circle cx="31.6" cy="51.2" r="0.9"/><circle cx="15.4" cy="81.3" r="0.9"/><circle cx="22.9" cy="91.5" r="1.0"/><circle cx="15.7" cy="100.2" r="0.9"/><circle cx="19.1" cy="97.4" r="1.1"/><circle cx="1.1" cy="101.7" r="0.9"/><circle cx="43.8" cy="8.4" r="0.9"/><circle cx="50.4" cy="3.0" r="0.9"/><circle cx="48.4" cy="1.7" r="0.8"/><circle cx="45.0" cy="2.7" r="1.0"/><circle cx="32.5" cy="1.3" r="0.9"/><circle cx="34.6" cy="1.6" r="0.9"/><circle cx="29.7" cy="33.2" r="0.9"/><circle cx="24.2" cy="32.7" r="1.0"/><circle cx="35.9" cy="12.7" r="0.8"/><circle cx="21.7" cy="30.4" r="0.8"/><circle cx="12.2" cy="29.8" r="0.7"/><circle cx="52.1" cy="70.8" r="1.0"/><circle cx="46.3" cy="45.0" r="1.0"/><circle cx="3.7" cy="167.9" r="1.0"/><circle cx="19.2" cy="153.5" r="0.8"/><circle cx="15.5" cy="159.8" r="0.9"/><circle cx="36.1" cy="133.5" r="1.0"/><circle cx="29.5" cy="143.2" r="1.0"/><circle cx="29.5" cy="140.6" r="1.0"/><circle cx="41.1" cy="134.2" r="0.7"/><circle cx="28.1" cy="153.9" r="1.1"/><circle cx="46.6" cy="162.7" r="0.8"/><circle cx="47.5" cy="163.2" r="1.0"/><circle cx="50.5" cy="162.7" r="1.0"/><circle cx="50.9" cy="164.1" r="1.1"/><circle cx="95.0" cy="167.8" r="0.8"/><circle cx="134.5" cy="157.4" r="0.9"/><circle cx="131.9" cy="157.0" r="0.9"/><circle cx="102.1" cy="138.6" r="1.0"/><circle cx="102.4" cy="140.0" r="1.0"/><circle cx="99.7" cy="144.4" r="1.1"/><circle cx="101.2" cy="144.2" r="1.0"/><circle cx="101.9" cy="134.6" r="0.9"/><circle cx="102.4" cy="143.3" r="1.0"/><circle cx="97.3" cy="148.3" r="0.9"/><circle cx="102.8" cy="123.4" r="0.7"/><circle cx="107.9" cy="125.3" r="0.9"/><circle cx="101.8" cy="125.4" r="0.8"/><circle cx="102.3" cy="120.9" r="0.9"/><circle cx="153.4" cy="128.7" r="1.0"/><circle cx="155.9" cy="128.9" r="0.9"/><circle cx="5.9" cy="18.6" r="0.7"/><circle cx="15.3" cy="18.4" r="1.0"/><circle cx="9.9" cy="16.2" r="0.9"/><circle cx="163.6" cy="48.3" r="1.1"/><circle cx="157.3" cy="45.2" r="0.8"/><circle cx="162.7" cy="40.7" r="0.8"/><circle cx="147.9" cy="55.0" r="1.0"/><circle cx="151.2" cy="50.2" r="0.9"/><circle cx="150.2" cy="49.5" r="0.9"/><circle cx="151.0" cy="57.7" r="1.0"/><circle cx="144.7" cy="49.0" r="0.9"/><circle cx="154.9" cy="49.6" r="0.9"/><circle cx="135.3" cy="11.9" r="1.1"/><circle cx="138.7" cy="8.1" r="1.0"/><circle cx="139.4" cy="13.2" r="0.9"/><circle cx="140.9" cy="13.1" r="0.9"/><circle cx="148.1" cy="16.0" r="0.8"/><circle cx="152.1" cy="7.8" r="0.9"/><circle cx="148.5" cy="5.8" r="0.8"/><circle cx="151.7" cy="22.9" r="0.9"/><circle cx="147.4" cy="17.5" r="1.0"/><circle cx="153.8" cy="25.5" r="0.7"/><circle cx="149.5" cy="22.9" r="0.8"/><circle cx="142.0" cy="3.3" r="0.9"/><circle cx="142.4" cy="6.5" r="1.0"/><circle cx="138.2" cy="1.9" r="0.7"/><circle cx="141.3" cy="0.4" r="1.1"/><circle cx="120.9" cy="21.2" r="1.0"/><circle cx="127.5" cy="27.3" r="1.0"/><circle cx="122.6" cy="29.0" r="0.9"/><circle cx="79.0" cy="20.4" r="0.8"/><circle cx="52.3" cy="33.3" r="1.0"/><circle cx="55.4" cy="25.9" r="0.9"/><circle cx="89.9" cy="52.8" r="1.0"/><circle cx="164.8" cy="46.3" r="0.9"/><circle cx="163.5" cy="49.2" r="1.1"/><circle cx="166.1" cy="42.0" r="0.7"/><circle cx="167.1" cy="40.6" r="0.7"/><circle cx="170.0" cy="66.6" r="0.8"/><circle cx="169.7" cy="51.6" r="0.9"/><circle cx="170.8" cy="42.4" r="1.0"/><circle cx="77.0" cy="123.8" r="1.1"/><circle cx="76.5" cy="118.3" r="0.9"/><circle cx="83.3" cy="127.5" r="0.7"/><circle cx="78.3" cy="126.2" r="1.1"/><circle cx="26.1" cy="133.2" r="1.0"/><circle cx="15.3" cy="135.4" r="0.8"/><circle cx="19.2" cy="130.8" r="0.9"/><circle cx="34.8" cy="119.4" r="0.7"/><circle cx="36.9" cy="122.5" r="0.9"/><circle cx="47.2" cy="89.0" r="0.9"/><circle cx="77.2" cy="55.7" r="0.8"/><circle cx="73.7" cy="54.0" r="0.9"/><circle cx="80.6" cy="57.9" r="0.7"/><circle cx="112.3" cy="96.5" r="1.0"/><circle cx="113.4" cy="95.4" r="1.0"/><circle cx="104.4" cy="85.8" r="0.9"/><circle cx="111.0" cy="100.1" r="1.0"/><circle cx="27.2" cy="61.2" r="0.8"/><circle cx="10.4" cy="97.7" r="1.0"/><circle cx="-2.9" cy="45.8" r="0.8"/><circle cx="1.7" cy="46.2" r="1.0"/><circle cx="-1.0" cy="32.4" r="0.9"/><circle cx="1.4" cy="36.3" r="0.8"/><circle cx="2.6" cy="36.7" r="1.1"/><circle cx="15.4" cy="23.1" r="1.0"/><circle cx="31.7" cy="25.7" r="1.0"/><circle cx="30.8" cy="28.9" r="0.8"/><circle cx="29.7" cy="15.6" r="0.9"/><circle cx="23.7" cy="21.3" r="0.9"/><circle cx="5.8" cy="24.3" r="1.0"/><circle cx="9.3" cy="30.9" r="1.0"/><circle cx="44.2" cy="68.9" r="0.9"/><circle cx="49.9" cy="67.9" r="0.8"/><circle cx="50.9" cy="64.1" r="0.8"/><circle cx="47.3" cy="75.7" r="1.1"/><circle cx="7.9" cy="157.8" r="0.9"/><circle cx="6.1" cy="162.6" r="0.9"/><circle cx="98.6" cy="168.5" r="1.0"/><circle cx="98.5" cy="166.7" r="1.0"/><circle cx="106.1" cy="105.6" r="0.7"/><circle cx="105.3" cy="111.2" r="0.9"/><circle cx="97.9" cy="117.0" r="0.7"/><circle cx="24.6" cy="15.3" r="0.8"/><circle cx="24.5" cy="8.3" r="0.9"/><circle cx="0.8" cy="19.1" r="0.9"/><circle cx="4.8" cy="12.4" r="1.0"/><circle cx="3.7" cy="11.4" r="1.0"/><circle cx="7.8" cy="11.4" r="0.9"/><circle cx="1.2" cy="7.3" r="0.9"/><circle cx="157.5" cy="54.9" r="0.8"/><circle cx="163.9" cy="57.1" r="0.9"/><circle cx="165.4" cy="55.6" r="0.8"/><circle cx="145.8" cy="19.7" r="0.7"/><circle cx="146.0" cy="68.7" r="1.0"/><circle cx="142.3" cy="75.2" r="0.7"/><circle cx="150.7" cy="70.5" r="1.0"/><circle cx="157.4" cy="69.5" r="0.7"/><circle cx="133.1" cy="19.4" r="1.0"/><circle cx="127.3" cy="14.6" r="0.9"/><circle cx="124.4" cy="15.5" r="0.9"/><circle cx="133.3" cy="18.9" r="0.7"/><circle cx="54.9" cy="19.7" r="0.9"/><circle cx="69.5" cy="24.6" r="0.7"/><circle cx="168.7" cy="56.8" r="0.9"/><circle cx="41.9" cy="80.0" r="1.1"/><circle cx="0.6" cy="59.5" r="1.0"/><circle cx="-0.4" cy="68.8" r="1.1"/><circle cx="6.0" cy="67.0" r="1.1"/><circle cx="4.4" cy="60.2" r="1.1"/><circle cx="5.0" cy="50.4" r="1.0"/><circle cx="1.6" cy="56.0" r="0.7"/><circle cx="1.4" cy="51.4" r="1.0"/><circle cx="6.6" cy="48.8" r="1.0"/><circle cx="-2.5" cy="168.9" r="1.1"/><circle cx="100.9" cy="101.3" r="1.0"/><circle cx="102.2" cy="105.9" r="0.7"/><circle cx="95.8" cy="111.0" r="0.7"/><circle cx="15.0" cy="8.1" r="0.9"/><circle cx="15.9" cy="7.3" r="0.9"/><circle cx="15.5" cy="5.0" r="1.1"/><circle cx="16.6" cy="9.1" r="0.8"/><circle cx="8.3" cy="4.7" r="0.7"/><circle cx="148.1" cy="78.2" r="0.7"/><circle cx="144.3" cy="76.2" r="1.1"/><circle cx="148.1" cy="80.0" r="0.9"/><circle cx="156.6" cy="75.5" r="0.9"/><circle cx="80.6" cy="-2.4" r="0.8"/><circle cx="69.3" cy="2.2" r="0.9"/><circle cx="56.0" cy="4.2" r="0.9"/><circle cx="61.9" cy="7.0" r="0.9"/><circle cx="64.6" cy="0.9" r="0.8"/><circle cx="62.4" cy="-1.8" r="1.0"/><circle cx="80.6" cy="8.2" r="1.1"/><circle cx="81.6" cy="2.3" r="0.7"/><circle cx="77.8" cy="9.8" r="0.7"/><circle cx="84.0" cy="4.5" r="0.8"/></g>
</pattern>
<pattern id="nuc" width="24" height="24" patternUnits="userSpaceOnUse"><g fill="#3e2478"><circle cx="15.0" cy="21.5" r="0.91"/><circle cx="5.4" cy="7.2" r="0.95"/><circle cx="0.1" cy="19.7" r="0.92"/><circle cx="24.1" cy="19.7" r="0.92"/><circle cx="11.2" cy="7.3" r="0.71"/><circle cx="6.1" cy="10.7" r="0.80"/><circle cx="13.3" cy="-0.1" r="0.92"/><circle cx="13.3" cy="23.9" r="0.92"/><circle cx="14.9" cy="-0.3" r="0.69"/><circle cx="14.9" cy="23.7" r="0.69"/><circle cx="3.8" cy="14.7" r="0.62"/><circle cx="0.9" cy="12.4" r="0.79"/><circle cx="22.0" cy="15.1" r="0.81"/><circle cx="11.9" cy="5.9" r="0.60"/><circle cx="4.6" cy="16.6" r="0.68"/><circle cx="8.9" cy="0.1" r="0.93"/><circle cx="8.9" cy="24.1" r="0.93"/><circle cx="3.7" cy="6.4" r="0.95"/><circle cx="12.2" cy="20.3" r="0.86"/><circle cx="17.8" cy="2.2" r="0.82"/><circle cx="12.2" cy="20.9" r="0.74"/><circle cx="14.4" cy="1.4" r="0.76"/><circle cx="7.8" cy="3.6" r="0.93"/><circle cx="9.1" cy="-0.5" r="0.84"/><circle cx="9.1" cy="23.5" r="0.84"/><circle cx="14.5" cy="15.3" r="0.87"/><circle cx="3.6" cy="10.6" r="0.70"/><circle cx="9.7" cy="2.3" r="0.99"/><circle cx="5.2" cy="16.1" r="0.72"/><circle cx="21.0" cy="15.9" r="0.65"/><circle cx="20.3" cy="22.7" r="0.96"/><circle cx="13.7" cy="3.5" r="0.68"/><circle cx="22.3" cy="13.3" r="0.67"/><circle cx="21.2" cy="15.4" r="0.83"/><circle cx="9.0" cy="9.9" r="0.70"/><circle cx="0.9" cy="21.0" r="0.79"/><circle cx="13.1" cy="7.7" r="0.90"/><circle cx="0.6" cy="8.9" r="0.61"/><circle cx="24.6" cy="8.9" r="0.61"/><circle cx="2.9" cy="-0.8" r="0.86"/><circle cx="2.9" cy="23.2" r="0.86"/><circle cx="10.3" cy="12.6" r="0.95"/><circle cx="8.3" cy="14.2" r="0.87"/><circle cx="8.5" cy="12.5" r="0.91"/><circle cx="21.8" cy="3.6" r="0.97"/><circle cx="0.1" cy="18.1" r="0.92"/><circle cx="24.1" cy="18.1" r="0.92"/><circle cx="3.3" cy="10.1" r="0.93"/><circle cx="0.3" cy="15.1" r="0.92"/><circle cx="24.3" cy="15.1" r="0.92"/><circle cx="12.3" cy="17.4" r="0.69"/><circle cx="4.8" cy="8.7" r="0.67"/><circle cx="8.3" cy="22.8" r="0.83"/><circle cx="8.2" cy="6.5" r="0.98"/><circle cx="10.7" cy="-0.5" r="0.81"/><circle cx="10.7" cy="23.5" r="0.81"/><circle cx="12.5" cy="21.5" r="0.90"/><circle cx="13.9" cy="10.2" r="0.95"/><circle cx="9.9" cy="22.1" r="0.63"/><circle cx="10.3" cy="12.5" r="0.98"/><circle cx="6.0" cy="19.3" r="0.87"/><circle cx="17.2" cy="15.1" r="0.99"/><circle cx="8.0" cy="9.6" r="0.68"/><circle cx="1.2" cy="5.1" r="0.97"/><circle cx="20.2" cy="2.7" r="0.84"/><circle cx="11.5" cy="14.3" r="0.86"/><circle cx="7.4" cy="23.1" r="0.79"/><circle cx="15.1" cy="15.2" r="0.67"/><circle cx="1.5" cy="9.9" r="0.91"/><circle cx="19.6" cy="17.5" r="0.65"/><circle cx="21.9" cy="19.2" r="0.95"/><circle cx="12.6" cy="22.0" r="0.62"/><circle cx="0.7" cy="0.5" r="0.70"/><circle cx="0.7" cy="24.5" r="0.70"/><circle cx="6.0" cy="4.5" r="0.83"/><circle cx="0.9" cy="14.2" r="0.67"/><circle cx="16.3" cy="0.5" r="0.72"/><circle cx="16.3" cy="24.5" r="0.72"/><circle cx="22.5" cy="12.9" r="0.92"/><circle cx="15.8" cy="14.7" r="0.68"/><circle cx="13.8" cy="1.0" r="0.92"/><circle cx="23.0" cy="20.5" r="0.62"/></g></pattern>
<pattern id="nuc2" width="24" height="24" patternUnits="userSpaceOnUse"><g fill="#3a2070"><circle cx="20.9" cy="6.9" r="0.76"/><circle cx="18.7" cy="17.2" r="0.87"/><circle cx="20.6" cy="22.0" r="0.56"/><circle cx="10.5" cy="11.6" r="0.57"/><circle cx="0.1" cy="19.9" r="0.89"/><circle cx="24.1" cy="19.9" r="0.89"/><circle cx="18.8" cy="7.6" r="0.80"/><circle cx="7.2" cy="17.8" r="0.65"/><circle cx="18.8" cy="-0.3" r="0.90"/><circle cx="18.8" cy="23.7" r="0.90"/><circle cx="21.2" cy="21.9" r="0.80"/><circle cx="13.3" cy="22.2" r="0.58"/><circle cx="8.9" cy="14.5" r="0.72"/><circle cx="19.0" cy="4.7" r="0.57"/><circle cx="3.0" cy="23.1" r="0.60"/><circle cx="5.4" cy="9.0" r="0.77"/><circle cx="18.8" cy="1.9" r="0.88"/><circle cx="18.3" cy="7.7" r="0.62"/><circle cx="14.3" cy="14.3" r="0.64"/><circle cx="4.1" cy="18.4" r="0.79"/><circle cx="19.2" cy="5.3" r="0.80"/><circle cx="1.8" cy="0.2" r="0.61"/><circle cx="1.8" cy="24.2" r="0.61"/><circle cx="18.8" cy="13.0" r="0.77"/><circle cx="14.2" cy="15.3" r="0.66"/><circle cx="17.3" cy="0.4" r="0.68"/><circle cx="17.3" cy="24.4" r="0.68"/><circle cx="1.3" cy="3.0" r="0.87"/><circle cx="14.5" cy="19.0" r="0.76"/><circle cx="13.7" cy="19.1" r="0.77"/><circle cx="12.2" cy="13.4" r="0.75"/><circle cx="8.2" cy="16.0" r="0.69"/><circle cx="15.7" cy="11.6" r="0.81"/><circle cx="16.6" cy="0.9" r="0.82"/><circle cx="21.5" cy="7.9" r="0.81"/><circle cx="20.3" cy="12.0" r="0.60"/><circle cx="17.6" cy="20.1" r="0.66"/><circle cx="5.2" cy="18.4" r="0.73"/><circle cx="0.4" cy="4.7" r="0.63"/><circle cx="24.4" cy="4.7" r="0.63"/><circle cx="14.0" cy="13.4" r="0.73"/><circle cx="8.2" cy="9.4" r="0.73"/><circle cx="13.7" cy="13.6" r="0.80"/><circle cx="-0.1" cy="18.0" r="0.72"/><circle cx="23.9" cy="18.0" r="0.72"/><circle cx="-0.6" cy="3.0" r="0.88"/><circle cx="23.4" cy="3.0" r="0.88"/><circle cx="12.0" cy="11.6" r="0.85"/><circle cx="14.6" cy="19.7" r="0.68"/><circle cx="13.3" cy="15.6" r="0.63"/><circle cx="18.3" cy="3.7" r="0.60"/><circle cx="6.5" cy="19.4" r="0.72"/><circle cx="0.8" cy="4.7" r="0.75"/><circle cx="1.5" cy="7.6" r="0.62"/><circle cx="16.5" cy="3.5" r="0.68"/><circle cx="10.8" cy="21.6" r="0.69"/><circle cx="3.3" cy="10.1" r="0.68"/><circle cx="13.6" cy="3.0" r="0.70"/><circle cx="15.7" cy="9.8" r="0.88"/><circle cx="8.7" cy="21.0" r="0.67"/><circle cx="9.6" cy="16.9" r="0.74"/><circle cx="22.4" cy="21.3" r="0.65"/><circle cx="7.8" cy="15.5" r="0.83"/><circle cx="2.7" cy="21.7" r="0.67"/><circle cx="3.4" cy="6.4" r="0.83"/><circle cx="6.1" cy="2.8" r="0.76"/><circle cx="21.9" cy="7.5" r="0.73"/><circle cx="9.3" cy="22.6" r="0.85"/><circle cx="11.7" cy="-0.5" r="0.63"/><circle cx="11.7" cy="23.5" r="0.63"/><circle cx="10.0" cy="13.5" r="0.82"/><circle cx="16.9" cy="10.0" r="0.88"/><circle cx="-0.4" cy="20.4" r="0.71"/><circle cx="23.6" cy="20.4" r="0.71"/><circle cx="19.7" cy="6.4" r="0.61"/><circle cx="1.8" cy="19.2" r="0.89"/><circle cx="7.1" cy="17.3" r="0.64"/><circle cx="18.5" cy="4.0" r="0.73"/><circle cx="19.0" cy="-0.7" r="0.79"/><circle cx="19.0" cy="23.3" r="0.79"/><circle cx="16.5" cy="9.7" r="0.61"/><circle cx="19.4" cy="1.9" r="0.81"/><circle cx="7.4" cy="1.2" r="0.60"/><circle cx="12.8" cy="7.6" r="0.60"/><circle cx="7.8" cy="19.2" r="0.80"/><circle cx="11.2" cy="8.9" r="0.90"/><circle cx="12.3" cy="16.2" r="0.84"/><circle cx="12.2" cy="15.0" r="0.71"/><circle cx="20.1" cy="18.3" r="0.71"/><circle cx="19.9" cy="5.7" r="0.67"/><circle cx="16.1" cy="3.1" r="0.88"/><circle cx="0.5" cy="22.3" r="0.65"/><circle cx="24.5" cy="22.3" r="0.65"/><circle cx="21.4" cy="7.4" r="0.82"/><circle cx="12.8" cy="10.5" r="0.74"/><circle cx="-0.1" cy="21.6" r="0.66"/><circle cx="23.9" cy="21.6" r="0.66"/><circle cx="5.8" cy="22.4" r="0.59"/><circle cx="2.0" cy="15.8" r="0.62"/><circle cx="0.2" cy="15.5" r="0.59"/><circle cx="24.2" cy="15.5" r="0.59"/><circle cx="5.6" cy="17.6" r="0.89"/><circle cx="10.9" cy="11.3" r="0.57"/><circle cx="12.1" cy="4.7" r="0.74"/><circle cx="2.5" cy="6.8" r="0.85"/><circle cx="8.0" cy="19.3" r="0.78"/><circle cx="2.6" cy="11.0" r="0.73"/><circle cx="11.5" cy="4.7" r="0.66"/><circle cx="18.0" cy="14.1" r="0.69"/><circle cx="10.9" cy="10.9" r="0.72"/><circle cx="13.4" cy="21.6" r="0.56"/><circle cx="14.7" cy="1.8" r="0.58"/><circle cx="22.9" cy="15.1" r="0.73"/><circle cx="19.2" cy="12.5" r="0.86"/><circle cx="21.3" cy="-0.4" r="0.57"/><circle cx="21.3" cy="23.6" r="0.57"/><circle cx="9.3" cy="4.7" r="0.80"/><circle cx="14.9" cy="8.5" r="0.60"/><circle cx="12.3" cy="2.7" r="0.81"/><circle cx="11.6" cy="2.2" r="0.82"/><circle cx="6.1" cy="12.1" r="0.80"/><circle cx="9.1" cy="4.9" r="0.75"/><circle cx="17.7" cy="20.7" r="0.62"/><circle cx="10.0" cy="17.1" r="0.59"/><circle cx="0.7" cy="21.4" r="0.68"/><circle cx="20.4" cy="19.8" r="0.79"/><circle cx="-0.5" cy="5.1" r="0.71"/><circle cx="23.5" cy="5.1" r="0.71"/><circle cx="5.3" cy="4.3" r="0.65"/><circle cx="8.1" cy="4.5" r="0.74"/><circle cx="21.3" cy="12.2" r="0.60"/><circle cx="3.4" cy="18.2" r="0.67"/><circle cx="1.7" cy="20.1" r="0.88"/><circle cx="14.3" cy="1.5" r="0.63"/><circle cx="16.8" cy="17.9" r="0.58"/><circle cx="-0.7" cy="3.0" r="0.90"/><circle cx="23.3" cy="3.0" r="0.90"/><circle cx="15.0" cy="11.3" r="0.83"/><circle cx="19.4" cy="2.4" r="0.61"/><circle cx="22.5" cy="22.3" r="0.84"/><circle cx="0.0" cy="13.0" r="0.65"/><circle cx="24.0" cy="13.0" r="0.65"/><circle cx="13.6" cy="2.7" r="0.82"/><circle cx="2.6" cy="6.6" r="0.63"/><circle cx="21.3" cy="8.1" r="0.64"/><circle cx="7.8" cy="10.2" r="0.74"/><circle cx="15.4" cy="9.2" r="0.79"/><circle cx="16.4" cy="11.4" r="0.63"/><circle cx="19.2" cy="10.9" r="0.70"/><circle cx="10.6" cy="20.4" r="0.81"/><circle cx="22.1" cy="2.2" r="0.65"/><circle cx="10.1" cy="7.5" r="0.85"/><circle cx="1.0" cy="4.3" r="0.86"/><circle cx="2.5" cy="-0.4" r="0.72"/><circle cx="2.5" cy="23.6" r="0.72"/><circle cx="21.9" cy="17.3" r="0.77"/><circle cx="6.8" cy="17.9" r="0.63"/><circle cx="1.1" cy="7.2" r="0.69"/><circle cx="1.5" cy="10.6" r="0.73"/><circle cx="16.6" cy="14.8" r="0.56"/><circle cx="19.0" cy="1.0" r="0.72"/><circle cx="1.5" cy="10.4" r="0.60"/><circle cx="21.0" cy="21.6" r="0.64"/><circle cx="2.3" cy="14.2" r="0.76"/><circle cx="15.8" cy="6.5" r="0.85"/><circle cx="1.8" cy="7.0" r="0.88"/><circle cx="4.6" cy="5.6" r="0.80"/><circle cx="6.4" cy="17.7" r="0.57"/></g></pattern>
<pattern id="cuff" width="3" height="3" patternUnits="userSpaceOnUse"><rect width="3" height="3" fill="#8a3aae"/><circle cx="1" cy="1" r="0.55" fill="#d8b0e8"/><circle cx="2.4" cy="2.3" r="0.6" fill="#5a2488"/></pattern>
<pattern id="dense" width="3.2" height="3.2" patternUnits="userSpaceOnUse"><rect width="3.2" height="3.2" fill="#c8a4dc"/><circle cx="0.8" cy="0.8" r="0.75" fill="#4a2c88"/><circle cx="2.4" cy="2.4" r="0.7" fill="#6a40a8"/><circle cx="2.4" cy="0.8" r="0.45" fill="#f0e0f4"/></pattern>
<pattern id="dense2" width="2.6" height="2.6" patternUnits="userSpaceOnUse"><rect width="2.6" height="2.6" fill="#9a70c4"/><circle cx="0.7" cy="0.7" r="0.7" fill="#3c2478"/><circle cx="2" cy="2" r="0.5" fill="#e8d8f0"/></pattern>
<pattern id="alv2" href="#alv" patternTransform="translate(40,30) scale(-1,1)"/>
<pattern id="alv3" href="#alv" patternTransform="translate(20,70) scale(1,-1)"/>
<filter id="rough" x="-20%" y="-20%" width="140%" height="140%"><feTurbulence type="fractalNoise" baseFrequency="0.35" numOctaves="2" seed="5" result="t"/><feDisplacementMap in="SourceGraphic" in2="t" scale="3.2" xChannelSelector="R" yChannelSelector="G"/></filter>
<filter id="blur2" x="-50%" y="-50%" width="200%" height="200%"><feGaussianBlur stdDeviation="2"/></filter>
<filter id="blur1" x="-50%" y="-50%" width="200%" height="200%"><feGaussianBlur stdDeviation="0.45"/></filter>
<clipPath id="c1"><rect x="3" y="561" width="166" height="139"/></clipPath>
<clipPath id="c2"><rect x="176" y="561" width="167" height="139"/></clipPath>
<clipPath id="c3"><rect x="349" y="562" width="166.5" height="138"/></clipPath>
</defs>
<rect width="520" height="700" fill="#fff"/>

<text transform="translate(-0.11,21.40) scale(1.0169,1.0933)" font-size="22" font-weight="bold" fill="#000" stroke="#000" stroke-width="0.55">A</text>
<polygon points="123.30,2.40 133.00,2.40 133.00,12.10 123.30,12.10" fill="#fff" stroke="#000" stroke-width="1.2" stroke-linejoin="miter"/>
<text transform="translate(136.05,13.36) scale(1.0994,0.9509)" font-size="18" font-weight="normal" fill="#000" stroke="#000" stroke-width="0.28">Naive</text>
<polygon points="194.00,3.00 203.50,3.00 203.50,12.20 194.00,12.20" fill="#6a6a6a" stroke="#000" stroke-width="1.2" stroke-linejoin="miter"/>
<text transform="translate(206.65,13.93) scale(1.1329,1.0667)" font-size="18" font-weight="normal" fill="#000" stroke="#000" stroke-width="0.28">OVA</text>
<polygon points="258.60,1.40 270.50,1.40 270.50,12.00 258.60,12.00" fill="url(#lgrid)" stroke="#000" stroke-width="1.3" stroke-linejoin="miter"/>
<text transform="translate(276.92,13.58) scale(0.9802,0.9910)" font-size="18" font-weight="normal" fill="#000" stroke="#000" stroke-width="0.28">CT only</text>
<polygon points="344.50,3.80 354.00,3.80 354.00,12.80 344.50,12.80" fill="#111" stroke="#000" stroke-width="1.2" stroke-linejoin="miter"/>
<text transform="translate(358.77,15.44) scale(1.1070,1.0491)" font-size="18" font-weight="normal" fill="#000" stroke="#000" stroke-width="0.28">OVA/CT</text>
<polygon points="80.60,32.60 180.80,32.60 180.80,230.20 80.60,230.20" fill="#fff" stroke="#000" stroke-width="1.3" stroke-linejoin="miter"/>
<polygon points="74.20,236.60 80.60,230.20 180.80,230.20 174.40,236.60" fill="#fff" stroke="#000" stroke-width="1.3" stroke-linejoin="miter"/>
<polygon points="74.20,39.00 80.60,32.60 80.60,230.20 74.20,236.60" fill="url(#wall)" stroke="#000" stroke-width="1.3" stroke-linejoin="miter"/>
<line x1="70.20" y1="236.40" x2="74.20" y2="236.40" stroke="#000" stroke-width="1.3"/>
<line x1="70.20" y1="171.00" x2="74.20" y2="171.00" stroke="#000" stroke-width="1.3"/>
<line x1="70.20" y1="104.60" x2="74.20" y2="104.60" stroke="#000" stroke-width="1.3"/>
<line x1="70.20" y1="38.70" x2="74.20" y2="38.70" stroke="#000" stroke-width="1.3"/>
<line x1="87.50" y1="236.60" x2="87.50" y2="240.40" stroke="#000" stroke-width="1.3"/>
<line x1="112.30" y1="236.60" x2="112.30" y2="240.40" stroke="#000" stroke-width="1.3"/>
<line x1="137.70" y1="236.60" x2="137.70" y2="240.40" stroke="#000" stroke-width="1.3"/>
<line x1="162.30" y1="236.60" x2="162.30" y2="240.40" stroke="#000" stroke-width="1.3"/>
<polygon points="96.60,207.30 101.90,201.70 101.90,231.00 96.60,236.60" fill="url(#side)" stroke="#000" stroke-width="1.3" stroke-linejoin="miter"/>
<polygon points="78.60,207.30 83.90,201.70 101.90,201.70 96.60,207.30" fill="#fff" stroke="#000" stroke-width="1.3" stroke-linejoin="miter"/>
<polygon points="78.60,207.30 96.60,207.30 96.60,236.60 78.60,236.60" fill="#fff" stroke="#000" stroke-width="1.3" stroke-linejoin="miter"/>
<polygon points="121.70,176.30 127.00,170.70 127.00,231.00 121.70,236.60" fill="url(#side)" stroke="#000" stroke-width="1.3" stroke-linejoin="miter"/>
<polygon points="103.70,176.30 109.00,170.70 127.00,170.70 121.70,176.30" fill="#fff" stroke="#000" stroke-width="1.3" stroke-linejoin="miter"/>
<polygon points="103.70,176.30 121.70,176.30 121.70,236.60 103.70,236.60" fill="#363636" stroke="#000" stroke-width="1.3" stroke-linejoin="miter"/>
<polygon points="146.70,185.50 152.00,179.90 152.00,231.00 146.70,236.60" fill="url(#side)" stroke="#000" stroke-width="1.3" stroke-linejoin="miter"/>
<polygon points="128.70,185.50 134.00,179.90 152.00,179.90 146.70,185.50" fill="#fff" stroke="#000" stroke-width="1.3" stroke-linejoin="miter"/>
<polygon points="128.70,185.50 146.70,185.50 146.70,236.60 128.70,236.60" fill="url(#dots)" stroke="#000" stroke-width="1.3" stroke-linejoin="miter"/>
<polygon points="171.30,102.60 176.60,97.00 176.60,231.00 171.30,236.60" fill="url(#side)" stroke="#000" stroke-width="1.3" stroke-linejoin="miter"/>
<polygon points="153.30,102.60 158.60,97.00 176.60,97.00 171.30,102.60" fill="#fff" stroke="#000" stroke-width="1.3" stroke-linejoin="miter"/>
<polygon points="153.30,102.60 171.30,102.60 171.30,236.60 153.30,236.60" fill="#111" stroke="#000" stroke-width="1.3" stroke-linejoin="miter"/>
<line x1="87.50" y1="197.80" x2="87.50" y2="216.80" stroke="#000" stroke-width="1.3"/>
<line x1="84.70" y1="197.80" x2="90.30" y2="197.80" stroke="#000" stroke-width="1.7"/>
<line x1="84.70" y1="216.80" x2="90.30" y2="216.80" stroke="#000" stroke-width="1.7"/>
<line x1="112.30" y1="161.80" x2="112.30" y2="191.90" stroke="#000" stroke-width="1.3"/>
<line x1="109.50" y1="161.80" x2="115.10" y2="161.80" stroke="#000" stroke-width="1.7"/>
<line x1="109.50" y1="191.90" x2="115.10" y2="191.90" stroke="#000" stroke-width="1.7"/>
<line x1="137.70" y1="171.60" x2="137.70" y2="197.60" stroke="#000" stroke-width="1.3"/>
<line x1="134.90" y1="171.60" x2="140.50" y2="171.60" stroke="#000" stroke-width="1.7"/>
<line x1="134.90" y1="197.60" x2="140.50" y2="197.60" stroke="#000" stroke-width="1.7"/>
<line x1="162.20" y1="52.00" x2="162.20" y2="100.00" stroke="#000" stroke-width="1.3"/>
<line x1="159.40" y1="52.00" x2="165.00" y2="52.00" stroke="#000" stroke-width="1.7"/>
<text transform="translate(59.28,242.60) scale(1.0345,0.9619)" font-size="15" font-weight="normal" fill="#000" stroke="#000" stroke-width="0.28">0</text>
<text transform="translate(59.00,175.60) scale(1.0714,1.0439)" font-size="15" font-weight="normal" fill="#000" stroke="#000" stroke-width="0.28">5</text>
<text transform="translate(52.43,110.30) scale(1.0169,0.9905)" font-size="15" font-weight="normal" fill="#000" stroke="#000" stroke-width="0.28">10</text>
<text transform="translate(48.93,46.70) scale(1.0169,1.0341)" font-size="15" font-weight="normal" fill="#000" stroke="#000" stroke-width="0.28">15</text>
<text transform="translate(40.34,212.98) scale(1.0431,0.9822) rotate(-90)" font-size="18" font-weight="normal" fill="#000" stroke="#000" stroke-width="0.28">Cells/mouse (X 10<tspan dy="-0.21em" font-size="94%">6</tspan><tspan dy="0.21em">)</tspan></text>
<text transform="translate(75.53,260.04) scale(1.0987,1.0383)" font-size="16" font-weight="normal" fill="#000" stroke="#000" stroke-width="0.28">Total LN Cells</text>
<polygon points="242.20,31.10 345.50,31.10 345.50,227.60 242.20,227.60" fill="#fff" stroke="#000" stroke-width="1.3" stroke-linejoin="miter"/>
<polygon points="236.00,233.80 242.20,227.60 345.50,227.60 339.30,233.80" fill="#fff" stroke="#000" stroke-width="1.3" stroke-linejoin="miter"/>
<polygon points="236.00,37.30 242.20,31.10 242.20,227.60 236.00,233.80" fill="url(#wall)" stroke="#000" stroke-width="1.3" stroke-linejoin="miter"/>
<line x1="232.30" y1="233.60" x2="236.00" y2="233.60" stroke="#000" stroke-width="1.3"/>
<line x1="232.30" y1="185.10" x2="236.00" y2="185.10" stroke="#000" stroke-width="1.3"/>
<line x1="232.30" y1="136.10" x2="236.00" y2="136.10" stroke="#000" stroke-width="1.3"/>
<line x1="232.30" y1="86.60" x2="236.00" y2="86.60" stroke="#000" stroke-width="1.3"/>
<line x1="232.30" y1="37.30" x2="236.00" y2="37.30" stroke="#000" stroke-width="1.3"/>
<line x1="249.00" y1="233.80" x2="249.00" y2="237.60" stroke="#000" stroke-width="1.3"/>
<line x1="274.50" y1="233.80" x2="274.50" y2="237.60" stroke="#000" stroke-width="1.3"/>
<line x1="300.30" y1="233.80" x2="300.30" y2="237.60" stroke="#000" stroke-width="1.3"/>
<line x1="326.00" y1="233.80" x2="326.00" y2="237.60" stroke="#000" stroke-width="1.3"/>
<polygon points="258.30,216.70 263.50,210.70 263.50,227.80 258.30,233.80" fill="url(#side)" stroke="#000" stroke-width="1.3" stroke-linejoin="miter"/>
<polygon points="241.00,216.70 246.20,210.70 263.50,210.70 258.30,216.70" fill="#fff" stroke="#000" stroke-width="1.3" stroke-linejoin="miter"/>
<polygon points="241.00,216.70 258.30,216.70 258.30,233.80 241.00,233.80" fill="#fff" stroke="#000" stroke-width="1.3" stroke-linejoin="miter"/>
<polygon points="283.60,196.70 288.80,190.70 288.80,227.80 283.60,233.80" fill="url(#side)" stroke="#000" stroke-width="1.3" stroke-linejoin="miter"/>
<polygon points="266.30,196.70 271.50,190.70 288.80,190.70 283.60,196.70" fill="#fff" stroke="#000" stroke-width="1.3" stroke-linejoin="miter"/>
<polygon points="266.30,196.70 283.60,196.70 283.60,233.80 266.30,233.80" fill="#363636" stroke="#000" stroke-width="1.3" stroke-linejoin="miter"/>
<polygon points="309.80,166.70 315.00,160.70 315.00,227.80 309.80,233.80" fill="url(#side)" stroke="#000" stroke-width="1.3" stroke-linejoin="miter"/>
<polygon points="291.90,166.70 297.10,160.70 315.00,160.70 309.80,166.70" fill="#fff" stroke="#000" stroke-width="1.3" stroke-linejoin="miter"/>
<polygon points="291.90,166.70 309.80,166.70 309.80,233.80 291.90,233.80" fill="url(#dots)" stroke="#000" stroke-width="1.3" stroke-linejoin="miter"/>
<polygon points="335.50,83.00 340.70,77.00 340.70,227.80 335.50,233.80" fill="url(#side)" stroke="#000" stroke-width="1.3" stroke-linejoin="miter"/>
<polygon points="317.50,83.00 322.70,77.00 340.70,77.00 335.50,83.00" fill="#fff" stroke="#000" stroke-width="1.3" stroke-linejoin="miter"/>
<polygon points="317.50,83.00 335.50,83.00 335.50,233.80 317.50,233.80" fill="#111" stroke="#000" stroke-width="1.3" stroke-linejoin="miter"/>
<line x1="249.00" y1="211.00" x2="249.00" y2="221.00" stroke="#000" stroke-width="1.3"/>
<line x1="246.20" y1="211.00" x2="251.80" y2="211.00" stroke="#000" stroke-width="1.7"/>
<line x1="246.20" y1="221.00" x2="251.80" y2="221.00" stroke="#000" stroke-width="1.7"/>
<line x1="300.30" y1="128.10" x2="300.30" y2="204.00" stroke="#000" stroke-width="1.3"/>
<line x1="297.50" y1="128.10" x2="303.10" y2="128.10" stroke="#000" stroke-width="1.7"/>
<line x1="297.50" y1="204.00" x2="303.10" y2="204.00" stroke="#000" stroke-width="1.7"/>
<line x1="326.00" y1="39.00" x2="326.00" y2="80.00" stroke="#000" stroke-width="1.3"/>
<line x1="323.20" y1="39.00" x2="328.80" y2="39.00" stroke="#000" stroke-width="1.7"/>
<text transform="translate(217.95,240.00) scale(1.1034,1.0000)" font-size="15" font-weight="normal" fill="#000" stroke="#000" stroke-width="0.28">0</text>
<text transform="translate(212.19,193.50) scale(1.0508,1.0000)" font-size="15" font-weight="normal" fill="#000" stroke="#000" stroke-width="0.28">10</text>
<text transform="translate(213.50,143.90) scale(1.0689,0.9810)" font-size="15" font-weight="normal" fill="#000" stroke="#000" stroke-width="0.28">20</text>
<text transform="translate(215.90,92.50) scale(1.0065,0.9714)" font-size="15" font-weight="normal" fill="#000" stroke="#000" stroke-width="0.28">30</text>
<text transform="translate(215.64,42.70) scale(1.0222,0.9905)" font-size="15" font-weight="normal" fill="#000" stroke="#000" stroke-width="0.28">40</text>
<text transform="translate(209.04,211.68) scale(1.0431,0.9847) rotate(-90)" font-size="18" font-weight="normal" fill="#000" stroke="#000" stroke-width="0.28">Cells/mouse (X 10<tspan dy="-0.21em" font-size="94%">5</tspan><tspan dy="0.21em">)</tspan></text>
<text transform="translate(262.42,257.94) scale(1.1364,1.0213)" font-size="16" font-weight="normal" fill="#000" stroke="#000" stroke-width="0.28">T Cells</text>
<polygon points="404.60,27.90 506.60,27.90 506.60,226.40 404.60,226.40" fill="#fff" stroke="#000" stroke-width="1.3" stroke-linejoin="miter"/>
<polygon points="399.00,232.00 404.60,226.40 506.60,226.40 501.00,232.00" fill="#fff" stroke="#000" stroke-width="1.3" stroke-linejoin="miter"/>
<polygon points="399.00,33.50 404.60,27.90 404.60,226.40 399.00,232.00" fill="url(#wall)" stroke="#000" stroke-width="1.3" stroke-linejoin="miter"/>
<line x1="395.50" y1="231.50" x2="399.00" y2="231.50" stroke="#000" stroke-width="1.3"/>
<line x1="395.50" y1="182.20" x2="399.00" y2="182.20" stroke="#000" stroke-width="1.3"/>
<line x1="395.50" y1="132.80" x2="399.00" y2="132.80" stroke="#000" stroke-width="1.3"/>
<line x1="395.50" y1="83.10" x2="399.00" y2="83.10" stroke="#000" stroke-width="1.3"/>
<line x1="395.50" y1="33.30" x2="399.00" y2="33.30" stroke="#000" stroke-width="1.3"/>
<line x1="412.00" y1="232.00" x2="412.00" y2="235.80" stroke="#000" stroke-width="1.3"/>
<line x1="437.70" y1="232.00" x2="437.70" y2="235.80" stroke="#000" stroke-width="1.3"/>
<line x1="462.00" y1="232.00" x2="462.00" y2="235.80" stroke="#000" stroke-width="1.3"/>
<line x1="487.60" y1="232.00" x2="487.60" y2="235.80" stroke="#000" stroke-width="1.3"/>
<polygon points="421.00,214.80 425.60,209.00 425.60,226.20 421.00,232.00" fill="url(#side)" stroke="#000" stroke-width="1.3" stroke-linejoin="miter"/>
<polygon points="403.70,214.80 408.30,209.00 425.60,209.00 421.00,214.80" fill="#fff" stroke="#000" stroke-width="1.3" stroke-linejoin="miter"/>
<polygon points="403.70,214.80 421.00,214.80 421.00,232.00 403.70,232.00" fill="#fff" stroke="#000" stroke-width="1.3" stroke-linejoin="miter"/>
<polygon points="446.60,200.10 451.20,194.30 451.20,226.20 446.60,232.00" fill="url(#side)" stroke="#000" stroke-width="1.3" stroke-linejoin="miter"/>
<polygon points="429.30,200.10 433.90,194.30 451.20,194.30 446.60,200.10" fill="#fff" stroke="#000" stroke-width="1.3" stroke-linejoin="miter"/>
<polygon points="429.30,200.10 446.60,200.10 446.60,232.00 429.30,232.00" fill="#363636" stroke="#000" stroke-width="1.3" stroke-linejoin="miter"/>
<polygon points="471.00,201.80 475.60,196.00 475.60,226.20 471.00,232.00" fill="url(#side)" stroke="#000" stroke-width="1.3" stroke-linejoin="miter"/>
<polygon points="453.70,201.80 458.30,196.00 475.60,196.00 471.00,201.80" fill="#fff" stroke="#000" stroke-width="1.3" stroke-linejoin="miter"/>
<polygon points="453.70,201.80 471.00,201.80 471.00,232.00 453.70,232.00" fill="url(#dots)" stroke="#000" stroke-width="1.3" stroke-linejoin="miter"/>
<polygon points="497.00,102.90 501.60,97.10 501.60,226.20 497.00,232.00" fill="url(#side)" stroke="#000" stroke-width="1.3" stroke-linejoin="miter"/>
<polygon points="479.20,102.90 483.80,97.10 501.60,97.10 497.00,102.90" fill="#fff" stroke="#000" stroke-width="1.3" stroke-linejoin="miter"/>
<polygon points="479.20,102.90 497.00,102.90 497.00,232.00 479.20,232.00" fill="#111" stroke="#000" stroke-width="1.3" stroke-linejoin="miter"/>
<line x1="412.00" y1="207.60" x2="412.00" y2="222.00" stroke="#000" stroke-width="1.3"/>
<line x1="409.20" y1="207.60" x2="414.80" y2="207.60" stroke="#000" stroke-width="1.7"/>
<line x1="409.20" y1="222.00" x2="414.80" y2="222.00" stroke="#000" stroke-width="1.7"/>
<line x1="437.70" y1="183.70" x2="437.70" y2="217.70" stroke="#000" stroke-width="1.3"/>
<line x1="434.90" y1="183.70" x2="440.50" y2="183.70" stroke="#000" stroke-width="1.7"/>
<line x1="434.90" y1="217.70" x2="440.50" y2="217.70" stroke="#000" stroke-width="1.7"/>
<line x1="462.00" y1="185.60" x2="462.00" y2="217.90" stroke="#000" stroke-width="1.3"/>
<line x1="459.20" y1="185.60" x2="464.80" y2="185.60" stroke="#000" stroke-width="1.7"/>
<line x1="459.20" y1="217.90" x2="464.80" y2="217.90" stroke="#000" stroke-width="1.7"/>
<line x1="487.60" y1="45.00" x2="487.60" y2="100.00" stroke="#000" stroke-width="1.3"/>
<line x1="484.80" y1="45.00" x2="490.40" y2="45.00" stroke="#000" stroke-width="1.7"/>
<text transform="translate(383.47,237.30) scale(1.0621,0.9810)" font-size="15" font-weight="normal" fill="#000" stroke="#000" stroke-width="0.28">0</text>
<text transform="translate(375.79,188.50) scale(1.0508,0.9810)" font-size="15" font-weight="normal" fill="#000" stroke="#000" stroke-width="0.28">10</text>
<text transform="translate(377.20,140.10) scale(1.0689,1.0286)" font-size="15" font-weight="normal" fill="#000" stroke="#000" stroke-width="0.28">20</text>
<text transform="translate(376.48,88.50) scale(1.0323,0.9524)" font-size="15" font-weight="normal" fill="#000" stroke="#000" stroke-width="0.28">30</text>
<text transform="translate(378.25,38.00) scale(1.0159,0.9524)" font-size="15" font-weight="normal" fill="#000" stroke="#000" stroke-width="0.28">40</text>
<text transform="translate(370.74,216.47) scale(1.0588,0.9739) rotate(-90)" font-size="18" font-weight="normal" fill="#000" stroke="#000" stroke-width="0.28">Cells/mouse (X 10<tspan dy="-0.2em">3)</tspan></text>
<text transform="translate(386.56,254.90) scale(1.2493,1.2087)" font-size="16" font-weight="normal" fill="#000" stroke="#000" stroke-width="0.28">CD11c+ DCs</text>
<text transform="translate(-0.33,284.10) scale(1.0222,1.0933)" font-size="22" font-weight="bold" fill="#000" stroke="#000" stroke-width="0.55">B</text>
<polygon points="52.50,282.80 303.80,282.80 303.80,464.00 52.50,464.00" fill="#fff" stroke="#000" stroke-width="1.3" stroke-linejoin="miter"/>
<polygon points="44.00,470.50 52.50,464.00 303.80,464.00 295.30,470.50" fill="#fff" stroke="#000" stroke-width="1.3" stroke-linejoin="miter"/>
<polygon points="44.00,289.30 52.50,282.80 52.50,464.00 44.00,470.50" fill="url(#wall)" stroke="#000" stroke-width="1.3" stroke-linejoin="miter"/>
<line x1="37.00" y1="470.50" x2="44.00" y2="470.50" stroke="#000" stroke-width="1.3"/>
<line x1="37.00" y1="420.30" x2="44.00" y2="420.30" stroke="#000" stroke-width="1.3"/>
<line x1="37.00" y1="370.20" x2="44.00" y2="370.20" stroke="#000" stroke-width="1.3"/>
<line x1="37.00" y1="320.10" x2="44.00" y2="320.10" stroke="#000" stroke-width="1.3"/>
<line x1="75.50" y1="470.50" x2="75.50" y2="474.30" stroke="#000" stroke-width="1.3"/>
<line x1="137.70" y1="470.50" x2="137.70" y2="474.30" stroke="#000" stroke-width="1.3"/>
<line x1="199.70" y1="470.50" x2="199.70" y2="474.30" stroke="#000" stroke-width="1.3"/>
<line x1="262.10" y1="470.50" x2="262.10" y2="474.30" stroke="#000" stroke-width="1.3"/>
<polygon points="66.40,456.00 73.90,449.80 73.90,464.30 66.40,470.50" fill="url(#side)" stroke="#000" stroke-width="1.3" stroke-linejoin="miter"/>
<polygon points="47.70,456.00 55.20,449.80 73.90,449.80 66.40,456.00" fill="#fff" stroke="#000" stroke-width="1.3" stroke-linejoin="miter"/>
<polygon points="47.70,456.00 66.40,456.00 66.40,470.50 47.70,470.50" fill="#262626" stroke="#000" stroke-width="1.3" stroke-linejoin="miter"/>
<polygon points="84.20,448.50 91.70,442.30 91.70,464.30 84.20,470.50" fill="url(#side)" stroke="#000" stroke-width="1.3" stroke-linejoin="miter"/>
<polygon points="66.40,448.50 73.90,442.30 91.70,442.30 84.20,448.50" fill="#fff" stroke="#000" stroke-width="1.3" stroke-linejoin="miter"/>
<polygon points="66.40,448.50 84.20,448.50 84.20,470.50 66.40,470.50" fill="url(#grid)" stroke="#000" stroke-width="1.3" stroke-linejoin="miter"/>
<polygon points="103.00,424.80 110.50,418.60 110.50,464.30 103.00,470.50" fill="url(#side)" stroke="#000" stroke-width="1.3" stroke-linejoin="miter"/>
<polygon points="84.20,424.80 91.70,418.60 110.50,418.60 103.00,424.80" fill="#fff" stroke="#000" stroke-width="1.3" stroke-linejoin="miter"/>
<polygon points="84.20,424.80 103.00,424.80 103.00,470.50 84.20,470.50" fill="#111" stroke="#000" stroke-width="1.3" stroke-linejoin="miter"/>
<polygon points="131.00,470.50 138.00,464.30 138.00,464.30 131.00,470.50" fill="url(#side)" stroke="#000" stroke-width="1.3" stroke-linejoin="miter"/>
<polygon points="110.00,470.50 117.00,464.30 138.00,464.30 131.00,470.50" fill="#fff" stroke="#000" stroke-width="1.3" stroke-linejoin="miter"/>
<polygon points="110.00,470.50 131.00,470.50 131.00,470.50 110.00,470.50" fill="#fff" stroke="#000" stroke-width="1.3" stroke-linejoin="miter"/>
<polygon points="192.20,470.50 199.20,464.30 199.20,464.30 192.20,470.50" fill="url(#side)" stroke="#000" stroke-width="1.3" stroke-linejoin="miter"/>
<polygon points="172.20,470.50 179.20,464.30 199.20,464.30 192.20,470.50" fill="#fff" stroke="#000" stroke-width="1.3" stroke-linejoin="miter"/>
<polygon points="172.20,470.50 192.20,470.50 192.20,470.50 172.20,470.50" fill="#fff" stroke="#000" stroke-width="1.3" stroke-linejoin="miter"/>
<polygon points="257.20,470.50 264.20,464.30 264.20,464.30 257.20,470.50" fill="url(#side)" stroke="#000" stroke-width="1.3" stroke-linejoin="miter"/>
<polygon points="235.60,470.50 242.60,464.30 264.20,464.30 257.20,470.50" fill="#fff" stroke="#000" stroke-width="1.3" stroke-linejoin="miter"/>
<polygon points="235.60,470.50 257.20,470.50 257.20,470.50 235.60,470.50" fill="#fff" stroke="#000" stroke-width="1.3" stroke-linejoin="miter"/>
<polygon points="208.60,464.60 216.10,458.40 216.10,464.30 208.60,470.50" fill="url(#side)" stroke="#000" stroke-width="1.3" stroke-linejoin="miter"/>
<polygon points="192.20,464.60 199.70,458.40 216.10,458.40 208.60,464.60" fill="#fff" stroke="#000" stroke-width="1.3" stroke-linejoin="miter"/>
<polygon points="192.20,464.60 208.60,464.60 208.60,470.50 192.20,470.50" fill="url(#grid2)" stroke="#000" stroke-width="1.3" stroke-linejoin="miter"/>
<polygon points="227.80,436.40 235.30,430.20 235.30,464.30 227.80,470.50" fill="url(#side)" stroke="#000" stroke-width="1.3" stroke-linejoin="miter"/>
<polygon points="209.40,436.40 216.90,430.20 235.30,430.20 227.80,436.40" fill="#fff" stroke="#000" stroke-width="1.3" stroke-linejoin="miter"/>
<polygon points="209.40,436.40 227.80,436.40 227.80,470.50 209.40,470.50" fill="#111" stroke="#000" stroke-width="1.3" stroke-linejoin="miter"/>
<polygon points="290.80,323.20 297.80,317.30 297.80,464.60 290.80,470.50" fill="url(#side)" stroke="#000" stroke-width="1.3" stroke-linejoin="miter"/>
<polygon points="271.20,323.20 278.20,317.30 297.80,317.30 290.80,323.20" fill="#fff" stroke="#000" stroke-width="1.3" stroke-linejoin="miter"/>
<polygon points="271.20,323.20 290.80,323.20 290.80,470.50 271.20,470.50" fill="#111" stroke="#000" stroke-width="1.3" stroke-linejoin="miter"/>
<line x1="56.80" y1="441.50" x2="56.80" y2="452.00" stroke="#000" stroke-width="1.3"/>
<line x1="54.00" y1="441.50" x2="59.60" y2="441.50" stroke="#000" stroke-width="1.7"/>
<line x1="75.40" y1="429.80" x2="75.40" y2="446.00" stroke="#000" stroke-width="1.3"/>
<line x1="72.60" y1="429.80" x2="78.20" y2="429.80" stroke="#000" stroke-width="1.7"/>
<line x1="92.60" y1="415.40" x2="92.60" y2="421.00" stroke="#000" stroke-width="1.3"/>
<line x1="89.80" y1="415.40" x2="95.40" y2="415.40" stroke="#000" stroke-width="1.7"/>
<line x1="198.40" y1="457.80" x2="198.40" y2="462.00" stroke="#000" stroke-width="1.3"/>
<line x1="195.60" y1="457.80" x2="201.20" y2="457.80" stroke="#000" stroke-width="1.7"/>
<line x1="219.00" y1="433.30" x2="219.00" y2="434.00" stroke="#000" stroke-width="1.3"/>
<line x1="216.20" y1="433.30" x2="221.80" y2="433.30" stroke="#000" stroke-width="1.7"/>
<line x1="280.50" y1="295.50" x2="280.50" y2="320.00" stroke="#000" stroke-width="1.3"/>
<line x1="277.70" y1="295.50" x2="283.30" y2="295.50" stroke="#000" stroke-width="1.7"/>
<text transform="translate(18.96,326.00) scale(1.0357,1.0526)" font-size="14" font-weight="normal" fill="#000" stroke="#000" stroke-width="0.28">15</text>
<text transform="translate(16.54,373.50) scale(0.9643,1.0769)" font-size="14" font-weight="normal" fill="#000" stroke="#000" stroke-width="0.28">10</text>
<text transform="translate(22.13,425.50) scale(1.1538,1.0526)" font-size="14" font-weight="normal" fill="#000" stroke="#000" stroke-width="0.28">5</text>
<text transform="translate(24.41,475.00) scale(1.1852,1.0256)" font-size="14" font-weight="normal" fill="#000" stroke="#000" stroke-width="0.28">0</text>
<text transform="translate(16.30,459.86) scale(1.0439,1.0079) rotate(-90)" font-size="15" font-weight="normal" fill="#000" stroke="#000" stroke-width="0.28">BAL Cell counts (X 10<tspan dy="-0.24em">4)</tspan></text>
<text transform="translate(92.63,311.25) scale(1.1608,1.0196)" font-size="18" font-weight="normal" fill="#000" stroke="#000" stroke-width="0.28">OVA</text>
<text transform="translate(90.91,334.57) scale(0.9851,0.9134)" font-size="18" font-weight="normal" fill="#000" stroke="#000" stroke-width="0.28">CT only</text>
<text transform="translate(90.38,357.56) scale(1.0961,0.9660)" font-size="18" font-weight="normal" fill="#000" stroke="#000" stroke-width="0.28">OVA/CT</text>
<text transform="translate(37.55,492.17) scale(1.0007,1.0113)" font-size="15" font-weight="normal" fill="#000" stroke="#000" stroke-width="0.28">Monocytes</text>
<text transform="translate(97.55,510.36) scale(0.9986,0.9455)" font-size="15" font-weight="normal" fill="#000" stroke="#000" stroke-width="0.28">Neutrophils</text>
<text transform="translate(153.53,492.28) scale(1.0128,0.9745)" font-size="15" font-weight="normal" fill="#000" stroke="#000" stroke-width="0.28">Lymphocytes</text>
<text transform="translate(237.34,508.69) scale(1.0080,0.9018)" font-size="15" font-weight="normal" fill="#000" stroke="#000" stroke-width="0.28">Eosinophils</text>
<polygon points="71.80,300.00 84.00,300.00 84.00,312.20 71.80,312.20" fill="#6a6a6a" stroke="#000" stroke-width="1.2" stroke-linejoin="miter"/>
<polygon points="71.80,322.40 84.00,322.40 84.00,335.00 71.80,335.00" fill="url(#lgrid2)" stroke="#000" stroke-width="1.2" stroke-linejoin="miter"/>
<polygon points="71.80,345.40 84.00,345.40 84.00,357.00 71.80,357.00" fill="#111" stroke="#000" stroke-width="1.2" stroke-linejoin="miter"/>
<text transform="translate(330.47,284.33) scale(1.0316,1.0903)" font-size="22" font-weight="bold" fill="#000" stroke="#000" stroke-width="0.55">C</text>
<polygon points="373.70,279.50 517.30,279.50 517.30,472.50 373.70,472.50" fill="#fff" stroke="#000" stroke-width="1.3" stroke-linejoin="miter"/>
<polygon points="367.30,478.90 373.70,472.50 517.30,472.50 510.90,478.90" fill="#fff" stroke="#000" stroke-width="1.3" stroke-linejoin="miter"/>
<polygon points="367.30,285.90 373.70,279.50 373.70,472.50 367.30,478.90" fill="url(#wall)" stroke="#000" stroke-width="1.3" stroke-linejoin="miter"/>
<line x1="363.60" y1="478.60" x2="367.30" y2="478.60" stroke="#000" stroke-width="1.3"/>
<line x1="363.60" y1="423.80" x2="367.30" y2="423.80" stroke="#000" stroke-width="1.3"/>
<line x1="363.60" y1="368.60" x2="367.30" y2="368.60" stroke="#000" stroke-width="1.3"/>
<line x1="363.60" y1="313.80" x2="367.30" y2="313.80" stroke="#000" stroke-width="1.3"/>
<line x1="392.00" y1="478.90" x2="392.00" y2="483.40" stroke="#000" stroke-width="1.3"/>
<line x1="439.40" y1="478.90" x2="439.40" y2="483.40" stroke="#000" stroke-width="1.3"/>
<line x1="487.40" y1="478.90" x2="487.40" y2="483.40" stroke="#000" stroke-width="1.3"/>
<polygon points="408.90,470.80 413.40,464.30 413.40,472.40 408.90,478.90" fill="url(#side)" stroke="#000" stroke-width="1.3" stroke-linejoin="miter"/>
<polygon points="376.20,470.80 380.70,464.30 413.40,464.30 408.90,470.80" fill="#fff" stroke="#000" stroke-width="1.3" stroke-linejoin="miter"/>
<polygon points="376.20,470.80 408.90,470.80 408.90,478.90 376.20,478.90" fill="#111" stroke="#000" stroke-width="1.3" stroke-linejoin="miter"/>
<polygon points="455.50,471.30 460.00,464.80 460.00,472.40 455.50,478.90" fill="url(#side)" stroke="#000" stroke-width="1.3" stroke-linejoin="miter"/>
<polygon points="423.70,471.30 428.20,464.80 460.00,464.80 455.50,471.30" fill="#fff" stroke="#000" stroke-width="1.3" stroke-linejoin="miter"/>
<polygon points="423.70,471.30 455.50,471.30 455.50,478.90 423.70,478.90" fill="url(#cdots)" stroke="#000" stroke-width="1.3" stroke-linejoin="miter"/>
<polygon points="504.40,336.70 508.90,330.20 508.90,472.40 504.40,478.90" fill="url(#side)" stroke="#000" stroke-width="1.3" stroke-linejoin="miter"/>
<polygon points="471.50,336.70 476.00,330.20 508.90,330.20 504.40,336.70" fill="#fff" stroke="#000" stroke-width="1.3" stroke-linejoin="miter"/>
<polygon points="471.50,336.70 504.40,336.70 504.40,478.90 471.50,478.90" fill="#111" stroke="#000" stroke-width="1.3" stroke-linejoin="miter"/>
<line x1="487.50" y1="300.60" x2="487.50" y2="374.30" stroke="#000" stroke-width="1.3"/>
<line x1="484.70" y1="300.60" x2="490.30" y2="300.60" stroke="#000" stroke-width="1.7"/>
<line x1="484.70" y1="374.30" x2="490.30" y2="374.30" stroke="#000" stroke-width="1.7"/>
<text transform="translate(350.18,318.04) scale(1.0933,1.0435)" font-size="16" font-weight="normal" fill="#000" stroke="#000" stroke-width="0.28">3</text>
<text transform="translate(353.02,374.90) scale(1.1724,1.0222)" font-size="16" font-weight="normal" fill="#000" stroke="#000" stroke-width="0.28">2</text>
<text transform="translate(349.84,429.40) scale(1.0500,1.0909)" font-size="16" font-weight="normal" fill="#000" stroke="#000" stroke-width="0.28">1</text>
<text transform="translate(351.90,482.85) scale(1.0667,0.9913)" font-size="16" font-weight="normal" fill="#000" stroke="#000" stroke-width="0.28">0</text>
<text transform="translate(341.43,454.56) scale(1.0791,1.0115) rotate(-90)" font-size="15" font-weight="normal" fill="#000" stroke="#000" stroke-width="0.28">Serum IgE (U/ml X10<tspan dy="-0.21em" font-size="94%">3</tspan><tspan dy="0.21em">)</tspan></text>
<text transform="translate(374.64,498.95) scale(1.0173,0.9913)" font-size="16" font-weight="normal" fill="#000" stroke="#000" stroke-width="0.28">OVA</text>
<text transform="translate(427.09,499.65) scale(0.9531,0.9826)" font-size="16" font-weight="normal" fill="#000" stroke="#000" stroke-width="0.28">CT</text>
<text transform="translate(461.15,499.25) scale(1.0061,1.0128)" font-size="16" font-weight="normal" fill="#000" stroke="#000" stroke-width="0.28">OVA/CT</text>
<text transform="translate(-0.37,556.60) scale(1.0444,1.1133)" font-size="22" font-weight="bold" fill="#000" stroke="#000" stroke-width="0.55">D</text>
<text transform="translate(63.53,556.63) scale(1.0674,1.0774)" font-size="22" font-weight="normal" fill="#000" stroke="#000" stroke-width="0.28">OVA</text>
<text transform="translate(216.77,555.97) scale(1.0290,0.9854)" font-size="22" font-weight="normal" fill="#000" stroke="#000" stroke-width="0.28">CT only</text>
<text transform="translate(387.65,554.96) scale(1.0489,0.9477)" font-size="22" font-weight="normal" fill="#000" stroke="#000" stroke-width="0.28">OVA/CT</text>
<g clip-path="url(#c1)">
<rect x="3" y="561" width="166" height="139" fill="url(#alv)"/>
<ellipse cx="37" cy="570" rx="3.5" ry="4.5" transform="rotate(0 37 570)" fill="#fefbfe" filter="url(#blur1)"/>
<ellipse cx="67.5" cy="610" rx="4.5" ry="5" transform="rotate(0 67.5 610)" fill="#fefbfe" filter="url(#blur1)"/>
<ellipse cx="121.5" cy="612" rx="4" ry="5.5" transform="rotate(0 121.5 612)" fill="#fefbfe" filter="url(#blur1)"/>
<ellipse cx="40" cy="663" rx="4.5" ry="8" transform="rotate(-20 40 663)" fill="#fefbfe" filter="url(#blur1)"/>
<ellipse cx="74" cy="580" rx="3" ry="3" transform="rotate(0 74 580)" fill="#fefbfe" filter="url(#blur1)"/>
<ellipse cx="150" cy="600" rx="3.5" ry="3" transform="rotate(0 150 600)" fill="#fefbfe" filter="url(#blur1)"/>
<ellipse cx="95" cy="580" rx="3" ry="2.5" transform="rotate(0 95 580)" fill="#fefbfe" filter="url(#blur1)"/>
<ellipse cx="60" cy="640" rx="3" ry="3" transform="rotate(0 60 640)" fill="#fefbfe" filter="url(#blur1)"/>
<ellipse cx="160" cy="680" rx="3.5" ry="4" transform="rotate(0 160 680)" fill="#fefbfe" filter="url(#blur1)"/>
<ellipse cx="100" cy="690" rx="3" ry="3" transform="rotate(0 100 690)" fill="#fefbfe" filter="url(#blur1)"/>
<ellipse cx="20" cy="650" rx="3" ry="4" transform="rotate(0 20 650)" fill="#fefbfe" filter="url(#blur1)"/>
<ellipse cx="140" cy="575" rx="3" ry="3" transform="rotate(0 140 575)" fill="#fefbfe" filter="url(#blur1)"/>
<ellipse cx="25" cy="593.5" rx="12.5" ry="14" fill="#8c40b4" opacity="0.3"/>
<ellipse cx="24.5" cy="593.5" rx="11.5" ry="13" fill="#f6e8f2" stroke="#b070c0" stroke-width="1.6"/>
<path d="M19 585 C23 590 18 597 22 602 M25 583 C28 589 24 596 28 603 M30 586 C31 592 29 597 31 601" stroke="#b868b8" stroke-width="1.1" fill="none"/>
<path d="M28.0 576.0C29.3 573.5 35.0 572.5 38.0 573.0C41.0 573.5 44.0 576.2 46.0 579.0C48.0 581.8 50.0 586.8 50.0 590.0C50.0 593.2 48.5 596.7 46.0 598.0C43.5 599.3 37.7 599.7 35.0 598.0C32.3 596.3 31.2 591.7 30.0 588.0C28.8 584.3 26.7 578.5 28.0 576.0Z" fill="#8c40b4" opacity="0.45"/>
<path d="M28.0 576.0C29.3 573.5 35.0 572.5 38.0 573.0C41.0 573.5 44.0 576.2 46.0 579.0C48.0 581.8 50.0 586.8 50.0 590.0C50.0 593.2 48.5 596.7 46.0 598.0C43.5 599.3 37.7 599.7 35.0 598.0C32.3 596.3 31.2 591.7 30.0 588.0C28.8 584.3 26.7 578.5 28.0 576.0Z" fill="url(#nuc)" opacity="1.0"/>
<g filter="url(#rough)">
<path d="M39.9 598.4C41.7 597.3 44.9 597.1 46.3 597.9C47.6 598.7 48.0 600.5 48.0 603.1C48.0 605.7 47.6 610.3 46.3 613.4C44.9 616.5 42.3 619.6 39.9 621.5C37.5 623.4 34.2 624.6 31.8 625.0C29.4 625.4 26.8 624.9 25.5 623.8C24.2 622.6 23.8 620.2 24.3 618.1C24.8 616.0 26.6 613.4 28.4 611.1C30.2 608.8 33.4 606.3 35.3 604.2C37.2 602.1 38.1 599.5 39.9 598.4Z" fill="none" stroke="#8c40b4" stroke-width="19.0" stroke-linejoin="round" opacity="0.5"/>
<path d="M39.9 598.4C41.7 597.3 44.9 597.1 46.3 597.9C47.6 598.7 48.0 600.5 48.0 603.1C48.0 605.7 47.6 610.3 46.3 613.4C44.9 616.5 42.3 619.6 39.9 621.5C37.5 623.4 34.2 624.6 31.8 625.0C29.4 625.4 26.8 624.9 25.5 623.8C24.2 622.6 23.8 620.2 24.3 618.1C24.8 616.0 26.6 613.4 28.4 611.1C30.2 608.8 33.4 606.3 35.3 604.2C37.2 602.1 38.1 599.5 39.9 598.4Z" fill="none" stroke="url(#nuc)" stroke-width="19.0" stroke-linejoin="round"/>
<path d="M39.9 598.4C41.7 597.3 44.9 597.1 46.3 597.9C47.6 598.7 48.0 600.5 48.0 603.1C48.0 605.7 47.6 610.3 46.3 613.4C44.9 616.5 42.3 619.6 39.9 621.5C37.5 623.4 34.2 624.6 31.8 625.0C29.4 625.4 26.8 624.9 25.5 623.8C24.2 622.6 23.8 620.2 24.3 618.1C24.8 616.0 26.6 613.4 28.4 611.1C30.2 608.8 33.4 606.3 35.3 604.2C37.2 602.1 38.1 599.5 39.9 598.4Z" fill="#fdfcf4" stroke="#a0209a" stroke-width="8" stroke-linejoin="round"/>
<path d="M39.9 598.4C41.7 597.3 44.9 597.1 46.3 597.9C47.6 598.7 48.0 600.5 48.0 603.1C48.0 605.7 47.6 610.3 46.3 613.4C44.9 616.5 42.3 619.6 39.9 621.5C37.5 623.4 34.2 624.6 31.8 625.0C29.4 625.4 26.8 624.9 25.5 623.8C24.2 622.6 23.8 620.2 24.3 618.1C24.8 616.0 26.6 613.4 28.4 611.1C30.2 608.8 33.4 606.3 35.3 604.2C37.2 602.1 38.1 599.5 39.9 598.4Z" fill="#fdfcf4"/>
</g>
<g filter="url(#rough)">
<path d="M151.0 640.0C151.4 641.6 151.1 643.4 150.5 645.0C149.8 646.5 148.4 648.1 146.9 649.2C145.4 650.3 143.3 651.3 141.4 651.7C139.4 652.1 137.1 652.1 135.3 651.7C133.4 651.3 131.5 650.4 130.3 649.2C129.0 648.1 128.1 646.5 127.8 645.0C127.4 643.4 127.7 641.6 128.3 640.0C129.0 638.5 130.4 636.9 131.9 635.8C133.4 634.7 135.5 633.7 137.4 633.3C139.4 632.9 141.7 632.9 143.5 633.3C145.4 633.7 147.3 634.6 148.5 635.8C149.8 636.9 150.7 638.5 151.0 640.0Z" fill="none" stroke="#8c40b4" stroke-width="13.8" stroke-linejoin="round" opacity="0.5"/>
<path d="M151.0 640.0C151.4 641.6 151.1 643.4 150.5 645.0C149.8 646.5 148.4 648.1 146.9 649.2C145.4 650.3 143.3 651.3 141.4 651.7C139.4 652.1 137.1 652.1 135.3 651.7C133.4 651.3 131.5 650.4 130.3 649.2C129.0 648.1 128.1 646.5 127.8 645.0C127.4 643.4 127.7 641.6 128.3 640.0C129.0 638.5 130.4 636.9 131.9 635.8C133.4 634.7 135.5 633.7 137.4 633.3C139.4 632.9 141.7 632.9 143.5 633.3C145.4 633.7 147.3 634.6 148.5 635.8C149.8 636.9 150.7 638.5 151.0 640.0Z" fill="none" stroke="url(#nuc)" stroke-width="13.8" stroke-linejoin="round"/>
<path d="M151.0 640.0C151.4 641.6 151.1 643.4 150.5 645.0C149.8 646.5 148.4 648.1 146.9 649.2C145.4 650.3 143.3 651.3 141.4 651.7C139.4 652.1 137.1 652.1 135.3 651.7C133.4 651.3 131.5 650.4 130.3 649.2C129.0 648.1 128.1 646.5 127.8 645.0C127.4 643.4 127.7 641.6 128.3 640.0C129.0 638.5 130.4 636.9 131.9 635.8C133.4 634.7 135.5 633.7 137.4 633.3C139.4 632.9 141.7 632.9 143.5 633.3C145.4 633.7 147.3 634.6 148.5 635.8C149.8 636.9 150.7 638.5 151.0 640.0Z" fill="#fdfcf4" stroke="#a0209a" stroke-width="6.8" stroke-linejoin="round"/>
<path d="M151.0 640.0C151.4 641.6 151.1 643.4 150.5 645.0C149.8 646.5 148.4 648.1 146.9 649.2C145.4 650.3 143.3 651.3 141.4 651.7C139.4 652.1 137.1 652.1 135.3 651.7C133.4 651.3 131.5 650.4 130.3 649.2C129.0 648.1 128.1 646.5 127.8 645.0C127.4 643.4 127.7 641.6 128.3 640.0C129.0 638.5 130.4 636.9 131.9 635.8C133.4 634.7 135.5 633.7 137.4 633.3C139.4 632.9 141.7 632.9 143.5 633.3C145.4 633.7 147.3 634.6 148.5 635.8C149.8 636.9 150.7 638.5 151.0 640.0Z" fill="#fdfcf4"/>
</g>
<g filter="url(#rough)">
<path d="M131.2 668.1C131.2 669.9 130.6 671.9 129.7 673.4C128.8 674.9 127.3 676.4 125.8 677.3C124.2 678.2 122.1 678.7 120.3 678.7C118.5 678.7 116.4 678.2 114.8 677.3C113.3 676.4 111.8 674.9 110.9 673.4C110.0 671.9 109.4 669.9 109.4 668.1C109.4 666.3 110.0 664.3 110.9 662.8C111.8 661.3 113.3 659.8 114.8 658.9C116.4 658.0 118.5 657.5 120.3 657.5C122.1 657.5 124.2 658.0 125.8 658.9C127.3 659.8 128.8 661.3 129.7 662.8C130.6 664.3 131.2 666.3 131.2 668.1Z" fill="none" stroke="#8c40b4" stroke-width="14.2" stroke-linejoin="round" opacity="0.5"/>
<path d="M131.2 668.1C131.2 669.9 130.6 671.9 129.7 673.4C128.8 674.9 127.3 676.4 125.8 677.3C124.2 678.2 122.1 678.7 120.3 678.7C118.5 678.7 116.4 678.2 114.8 677.3C113.3 676.4 111.8 674.9 110.9 673.4C110.0 671.9 109.4 669.9 109.4 668.1C109.4 666.3 110.0 664.3 110.9 662.8C111.8 661.3 113.3 659.8 114.8 658.9C116.4 658.0 118.5 657.5 120.3 657.5C122.1 657.5 124.2 658.0 125.8 658.9C127.3 659.8 128.8 661.3 129.7 662.8C130.6 664.3 131.2 666.3 131.2 668.1Z" fill="none" stroke="url(#nuc)" stroke-width="14.2" stroke-linejoin="round"/>
<path d="M131.2 668.1C131.2 669.9 130.6 671.9 129.7 673.4C128.8 674.9 127.3 676.4 125.8 677.3C124.2 678.2 122.1 678.7 120.3 678.7C118.5 678.7 116.4 678.2 114.8 677.3C113.3 676.4 111.8 674.9 110.9 673.4C110.0 671.9 109.4 669.9 109.4 668.1C109.4 666.3 110.0 664.3 110.9 662.8C111.8 661.3 113.3 659.8 114.8 658.9C116.4 658.0 118.5 657.5 120.3 657.5C122.1 657.5 124.2 658.0 125.8 658.9C127.3 659.8 128.8 661.3 129.7 662.8C130.6 664.3 131.2 666.3 131.2 668.1Z" fill="#fdfcf4" stroke="#a0209a" stroke-width="7.2" stroke-linejoin="round"/>
<path d="M131.2 668.1C131.2 669.9 130.6 671.9 129.7 673.4C128.8 674.9 127.3 676.4 125.8 677.3C124.2 678.2 122.1 678.7 120.3 678.7C118.5 678.7 116.4 678.2 114.8 677.3C113.3 676.4 111.8 674.9 110.9 673.4C110.0 671.9 109.4 669.9 109.4 668.1C109.4 666.3 110.0 664.3 110.9 662.8C111.8 661.3 113.3 659.8 114.8 658.9C116.4 658.0 118.5 657.5 120.3 657.5C122.1 657.5 124.2 658.0 125.8 658.9C127.3 659.8 128.8 661.3 129.7 662.8C130.6 664.3 131.2 666.3 131.2 668.1Z" fill="#fdfcf4"/>
</g>
<ellipse cx="156" cy="626" rx="5" ry="4" transform="rotate(20 156 626)" fill="#f4e8f4" stroke="#b070b8" stroke-width="1"/>
<g filter="url(#rough)">
<path d="M3 684 C8 683 12 688 17 689 C22 690 27 693 32 696 C36 698 40 699 44 701 L3 701 Z" fill="#fdfcf4"/>
<path d="M3 682 C8 681 12 686 17 687 C22 688 27 691 32 694 C36 696 40 697 44 699" stroke="#8c40b4" stroke-width="8" fill="none" opacity="0.4" transform="translate(0,-2)"/>
<path d="M3 682 C8 681 12 686 17 687 C22 688 27 691 32 694 C36 696 40 697 44 699" stroke="#a0209a" stroke-width="4" fill="none"/>
</g>
</g>
<g clip-path="url(#c2)">
<rect x="176" y="561" width="167" height="139" fill="url(#alv2)"/>
<ellipse cx="276" cy="582" rx="8" ry="10" transform="rotate(0 276 582)" fill="#fefbfe" filter="url(#blur1)"/>
<ellipse cx="301.7" cy="582.3" rx="6" ry="6" transform="rotate(0 301.7 582.3)" fill="#fefbfe" filter="url(#blur1)"/>
<ellipse cx="320" cy="581.5" rx="8" ry="6.5" transform="rotate(0 320 581.5)" fill="#fefbfe" filter="url(#blur1)"/>
<ellipse cx="316" cy="690" rx="11" ry="10" transform="rotate(0 316 690)" fill="#fefbfe" filter="url(#blur1)"/>
<ellipse cx="267" cy="625" rx="3" ry="3" transform="rotate(0 267 625)" fill="#fefbfe" filter="url(#blur1)"/>
<ellipse cx="262" cy="680" rx="4" ry="5" transform="rotate(0 262 680)" fill="#fefbfe" filter="url(#blur1)"/>
<ellipse cx="288" cy="668" rx="3" ry="3" transform="rotate(0 288 668)" fill="#fefbfe" filter="url(#blur1)"/>
<ellipse cx="198" cy="616" rx="7" ry="5" transform="rotate(0 198 616)" fill="#fefbfe" filter="url(#blur1)"/>
<ellipse cx="285" cy="650" rx="3" ry="3" transform="rotate(0 285 650)" fill="#fefbfe" filter="url(#blur1)"/>
<ellipse cx="330" cy="640" rx="3" ry="4" transform="rotate(0 330 640)" fill="#fefbfe" filter="url(#blur1)"/>
<ellipse cx="255" cy="600" rx="3" ry="3" transform="rotate(0 255 600)" fill="#fefbfe" filter="url(#blur1)"/>
<ellipse cx="190" cy="640" rx="3" ry="3" transform="rotate(0 190 640)" fill="#fefbfe" filter="url(#blur1)"/>
<ellipse cx="280" cy="690" rx="3" ry="3" transform="rotate(0 280 690)" fill="#fefbfe" filter="url(#blur1)"/>
<ellipse cx="335" cy="610" rx="3" ry="3" transform="rotate(0 335 610)" fill="#fefbfe" filter="url(#blur1)"/>
<ellipse cx="318" cy="625" rx="13" ry="22" fill="#d04080" opacity="0.22" filter="url(#blur2)"/>
<g filter="url(#rough)">
<path d="M176.0 561.0 L180.4 563.4 L195.2 570.1 L208.6 576.8 L222.1 584.9 L231.5 593.0 L236.2 601.1 L235.6 606.5 L234.2 607.8 L226.1 605.1 L215.4 599.7 L201.9 593.0 L188.5 586.9 L177.0 582.9 L176.0 582.7Z" fill="#fcfae6" stroke="none"/>
<path d="M180.4 563.4 L195.2 570.1 L208.6 576.8 L222.1 584.9 L231.5 593.0 L236.2 601.1 L235.6 606.5 L234.2 607.8" stroke="#8c40b4" stroke-width="7" fill="none" stroke-linejoin="round" opacity="0.35" transform="translate(1.5,-1.5)"/>
<path d="M180.4 563.4 L195.2 570.1 L208.6 576.8 L222.1 584.9 L231.5 593.0 L236.2 601.1 L235.6 606.5 L234.2 607.8 L226.1 605.1 L215.4 599.7 L201.9 593.0 L188.5 586.9 L177.0 582.9 L176.0 582.7" stroke="#9a2094" stroke-width="3.2" fill="none" stroke-linejoin="round"/>
</g>
<g filter="url(#rough)">
<path d="M295.4 607.3C297.1 606.6 301.3 605.6 303.1 606.5C304.9 607.4 305.4 610.2 306.2 612.7C307.0 615.2 307.7 618.8 307.7 621.2C307.7 623.6 307.2 625.9 306.2 627.3C305.2 628.7 303.3 629.4 301.5 629.6C299.7 629.9 297.0 629.7 295.4 628.8C293.8 627.9 292.5 626.2 291.9 624.2C291.2 622.2 291.4 618.8 291.5 616.5C291.6 614.2 292.1 611.9 292.7 610.4C293.3 608.9 293.7 607.9 295.4 607.3Z" fill="none" stroke="#8c40b4" stroke-width="11.8" stroke-linejoin="round" opacity="0.5"/>
<path d="M295.4 607.3C297.1 606.6 301.3 605.6 303.1 606.5C304.9 607.4 305.4 610.2 306.2 612.7C307.0 615.2 307.7 618.8 307.7 621.2C307.7 623.6 307.2 625.9 306.2 627.3C305.2 628.7 303.3 629.4 301.5 629.6C299.7 629.9 297.0 629.7 295.4 628.8C293.8 627.9 292.5 626.2 291.9 624.2C291.2 622.2 291.4 618.8 291.5 616.5C291.6 614.2 292.1 611.9 292.7 610.4C293.3 608.9 293.7 607.9 295.4 607.3Z" fill="none" stroke="url(#nuc)" stroke-width="11.8" stroke-linejoin="round"/>
<path d="M295.4 607.3C297.1 606.6 301.3 605.6 303.1 606.5C304.9 607.4 305.4 610.2 306.2 612.7C307.0 615.2 307.7 618.8 307.7 621.2C307.7 623.6 307.2 625.9 306.2 627.3C305.2 628.7 303.3 629.4 301.5 629.6C299.7 629.9 297.0 629.7 295.4 628.8C293.8 627.9 292.5 626.2 291.9 624.2C291.2 622.2 291.4 618.8 291.5 616.5C291.6 614.2 292.1 611.9 292.7 610.4C293.3 608.9 293.7 607.9 295.4 607.3Z" fill="#fdfcf4" stroke="#7a2890" stroke-width="4.8" stroke-linejoin="round"/>
<path d="M295.4 607.3C297.1 606.6 301.3 605.6 303.1 606.5C304.9 607.4 305.4 610.2 306.2 612.7C307.0 615.2 307.7 618.8 307.7 621.2C307.7 623.6 307.2 625.9 306.2 627.3C305.2 628.7 303.3 629.4 301.5 629.6C299.7 629.9 297.0 629.7 295.4 628.8C293.8 627.9 292.5 626.2 291.9 624.2C291.2 622.2 291.4 618.8 291.5 616.5C291.6 614.2 292.1 611.9 292.7 610.4C293.3 608.9 293.7 607.9 295.4 607.3Z" fill="#fdfcf4"/>
</g>
<path d="M212.0 630.0C214.5 630.0 218.0 631.0 220.0 633.0C222.0 635.0 223.5 638.8 224.0 642.0C224.5 645.2 223.7 648.7 223.0 652.0C222.3 655.3 221.5 659.3 220.0 662.0C218.5 664.7 216.0 668.0 214.0 668.0C212.0 668.0 209.7 665.0 208.0 662.0C206.3 659.0 204.8 653.7 204.0 650.0C203.2 646.3 202.8 642.8 203.0 640.0C203.2 637.2 203.5 634.7 205.0 633.0C206.5 631.3 209.5 630.0 212.0 630.0Z" fill="#faf8ee" stroke="#c8a8cc" stroke-width="1"/>
<path d="M210.6 637.7C210.8 636.0 212.6 637.6 214.0 640.0C215.4 642.4 217.2 647.3 219.0 652.0C220.8 656.7 224.7 666.0 225.0 668.0C225.3 670.0 223.0 667.0 221.0 664.0C219.0 661.0 214.7 654.4 213.0 650.0C211.3 645.6 210.4 639.4 210.6 637.7Z" fill="none" stroke="#a85aa8" stroke-width="1.1"/>
<g filter="url(#rough)">
<path d="M238.1 645.4C239.7 644.3 242.2 642.7 243.8 642.5C245.4 642.3 247.2 642.5 247.7 644.4C248.2 646.3 247.3 651.1 246.7 654.0C246.0 656.9 244.3 659.6 243.8 661.7C243.3 663.8 243.0 665.0 243.8 666.5C244.6 668.0 248.0 668.6 248.7 670.4C249.3 672.2 248.7 675.8 247.7 677.1C246.7 678.4 244.8 678.4 242.9 678.1C241.0 677.8 238.0 676.5 236.2 675.2C234.4 673.9 233.1 672.2 232.3 670.4C231.5 668.6 231.8 666.4 231.3 664.6C230.8 662.8 229.4 661.4 229.4 659.8C229.4 658.2 230.5 656.8 231.3 655.0C232.1 653.2 233.1 650.8 234.2 649.2C235.3 647.6 236.5 646.5 238.1 645.4Z" fill="none" stroke="#8c40b4" stroke-width="15.2" stroke-linejoin="round" opacity="0.5"/>
<path d="M238.1 645.4C239.7 644.3 242.2 642.7 243.8 642.5C245.4 642.3 247.2 642.5 247.7 644.4C248.2 646.3 247.3 651.1 246.7 654.0C246.0 656.9 244.3 659.6 243.8 661.7C243.3 663.8 243.0 665.0 243.8 666.5C244.6 668.0 248.0 668.6 248.7 670.4C249.3 672.2 248.7 675.8 247.7 677.1C246.7 678.4 244.8 678.4 242.9 678.1C241.0 677.8 238.0 676.5 236.2 675.2C234.4 673.9 233.1 672.2 232.3 670.4C231.5 668.6 231.8 666.4 231.3 664.6C230.8 662.8 229.4 661.4 229.4 659.8C229.4 658.2 230.5 656.8 231.3 655.0C232.1 653.2 233.1 650.8 234.2 649.2C235.3 647.6 236.5 646.5 238.1 645.4Z" fill="none" stroke="url(#nuc)" stroke-width="15.2" stroke-linejoin="round"/>
<path d="M238.1 645.4C239.7 644.3 242.2 642.7 243.8 642.5C245.4 642.3 247.2 642.5 247.7 644.4C248.2 646.3 247.3 651.1 246.7 654.0C246.0 656.9 244.3 659.6 243.8 661.7C243.3 663.8 243.0 665.0 243.8 666.5C244.6 668.0 248.0 668.6 248.7 670.4C249.3 672.2 248.7 675.8 247.7 677.1C246.7 678.4 244.8 678.4 242.9 678.1C241.0 677.8 238.0 676.5 236.2 675.2C234.4 673.9 233.1 672.2 232.3 670.4C231.5 668.6 231.8 666.4 231.3 664.6C230.8 662.8 229.4 661.4 229.4 659.8C229.4 658.2 230.5 656.8 231.3 655.0C232.1 653.2 233.1 650.8 234.2 649.2C235.3 647.6 236.5 646.5 238.1 645.4Z" fill="#fdfcf4" stroke="#9a1890" stroke-width="9.2" stroke-linejoin="round"/>
<path d="M238.1 645.4C239.7 644.3 242.2 642.7 243.8 642.5C245.4 642.3 247.2 642.5 247.7 644.4C248.2 646.3 247.3 651.1 246.7 654.0C246.0 656.9 244.3 659.6 243.8 661.7C243.3 663.8 243.0 665.0 243.8 666.5C244.6 668.0 248.0 668.6 248.7 670.4C249.3 672.2 248.7 675.8 247.7 677.1C246.7 678.4 244.8 678.4 242.9 678.1C241.0 677.8 238.0 676.5 236.2 675.2C234.4 673.9 233.1 672.2 232.3 670.4C231.5 668.6 231.8 666.4 231.3 664.6C230.8 662.8 229.4 661.4 229.4 659.8C229.4 658.2 230.5 656.8 231.3 655.0C232.1 653.2 233.1 650.8 234.2 649.2C235.3 647.6 236.5 646.5 238.1 645.4Z" fill="#fdfcf4"/>
</g>
<g filter="url(#rough)">
<path d="M176 667 C181 666 185 668 188 671 C186 674 181 676 176 676 Z" fill="#fdfcf4"/>
<path d="M176 661.5 C184 660 192 663 195.5 670.5 C192 678 184 681.5 176 681" stroke="#8c40b4" stroke-width="7" fill="none" opacity="0.4"/>
<path d="M176 664 C182 663 188 665 191.5 671 C188 676.5 182 678.5 176 678.5" stroke="#a0209a" stroke-width="4.5" fill="none"/>
<path d="M176 695 C180 695 184 697 186 700" stroke="#a0209a" stroke-width="3.5" fill="none"/>
</g>
<circle cx="207.5" cy="609" r="2.8" fill="#f8eef8" stroke="#8a4aa8" stroke-width="1.2"/>
</g>
<g clip-path="url(#c3)">
<rect x="349" y="562" width="166.5" height="138" fill="url(#alv3)"/>
<rect x="349" y="562" width="166.5" height="138" fill="#8a48c0" opacity="0.10"/>
<ellipse cx="368" cy="681" rx="6" ry="9" transform="rotate(0 368 681)" fill="#fefbfe" filter="url(#blur1)"/>
<ellipse cx="456.8" cy="671" rx="7" ry="5" transform="rotate(0 456.8 671)" fill="#fefbfe" filter="url(#blur1)"/>
<ellipse cx="479.7" cy="677.6" rx="6" ry="5" transform="rotate(0 479.7 677.6)" fill="#fefbfe" filter="url(#blur1)"/>
<ellipse cx="440.5" cy="658" rx="4" ry="4" transform="rotate(0 440.5 658)" fill="#fefbfe" filter="url(#blur1)"/>
<ellipse cx="360" cy="620" rx="3" ry="3" transform="rotate(0 360 620)" fill="#fefbfe" filter="url(#blur1)"/>
<ellipse cx="505" cy="600" rx="3" ry="3" transform="rotate(0 505 600)" fill="#fefbfe" filter="url(#blur1)"/>
<ellipse cx="455" cy="645" rx="4" ry="3" transform="rotate(0 455 645)" fill="#fefbfe" filter="url(#blur1)"/>
<ellipse cx="500" cy="650" rx="3" ry="4" transform="rotate(0 500 650)" fill="#fefbfe" filter="url(#blur1)"/>
<ellipse cx="440" cy="690" rx="3" ry="3" transform="rotate(0 440 690)" fill="#fefbfe" filter="url(#blur1)"/>
<ellipse cx="505" cy="680" rx="3" ry="3" transform="rotate(0 505 680)" fill="#fefbfe" filter="url(#blur1)"/>
<ellipse cx="460" cy="575" rx="3" ry="3" transform="rotate(0 460 575)" fill="#fefbfe" filter="url(#blur1)"/>
<ellipse cx="497" cy="632" rx="3" ry="3" transform="rotate(0 497 632)" fill="#fefbfe" filter="url(#blur1)"/>
<ellipse cx="430" cy="670" rx="3" ry="3" transform="rotate(0 430 670)" fill="#fefbfe" filter="url(#blur1)"/>
<path d="M372.0 575.0C376.5 570.0 387.0 568.8 395.0 570.0C403.0 571.2 411.7 578.0 420.0 582.0C428.3 586.0 440.5 589.0 445.0 594.0C449.5 599.0 448.7 605.0 447.0 612.0C445.3 619.0 439.8 629.3 435.0 636.0C430.2 642.7 421.5 646.3 418.0 652.0C414.5 657.7 416.2 663.3 414.0 670.0C411.8 676.7 409.8 688.0 405.0 692.0C400.2 696.0 390.2 697.3 385.0 694.0C379.8 690.7 376.2 680.2 374.0 672.0C371.8 663.8 371.3 653.7 372.0 645.0C372.7 636.3 378.7 627.5 378.0 620.0C377.3 612.5 369.0 607.5 368.0 600.0C367.0 592.5 367.5 580.0 372.0 575.0Z" fill="#8c40b4" opacity="0.25"/>
<path d="M372.0 575.0C376.5 570.0 387.0 568.8 395.0 570.0C403.0 571.2 411.7 578.0 420.0 582.0C428.3 586.0 440.5 589.0 445.0 594.0C449.5 599.0 448.7 605.0 447.0 612.0C445.3 619.0 439.8 629.3 435.0 636.0C430.2 642.7 421.5 646.3 418.0 652.0C414.5 657.7 416.2 663.3 414.0 670.0C411.8 676.7 409.8 688.0 405.0 692.0C400.2 696.0 390.2 697.3 385.0 694.0C379.8 690.7 376.2 680.2 374.0 672.0C371.8 663.8 371.3 653.7 372.0 645.0C372.7 636.3 378.7 627.5 378.0 620.0C377.3 612.5 369.0 607.5 368.0 600.0C367.0 592.5 367.5 580.0 372.0 575.0Z" fill="url(#nuc)" opacity="0.55"/>
<path d="M391.5 579.6C395.9 575.8 407.9 574.7 414.4 576.3C420.9 577.9 429.1 585.0 430.7 589.4C432.3 593.8 426.9 598.7 424.2 602.5C421.5 606.3 417.1 608.5 414.4 612.3C411.7 616.1 407.8 619.9 407.8 625.4C407.8 630.9 413.3 638.5 414.4 645.0C415.5 651.5 414.9 658.6 414.4 664.6C413.8 670.6 413.3 676.5 411.1 680.9C408.9 685.2 405.7 689.3 401.3 690.7C396.9 692.1 388.7 691.8 384.9 689.1C381.1 686.4 380.0 680.7 378.4 674.4C376.8 668.1 375.1 658.6 375.1 651.5C375.1 644.4 376.8 637.9 378.4 631.9C380.0 625.9 383.3 621.0 384.9 615.6C386.5 610.2 387.1 605.2 388.2 599.2C389.3 593.2 387.1 583.4 391.5 579.6Z" fill="#7a48b0" opacity="0.33"/>
<path d="M391.5 579.6C395.9 575.8 407.9 574.7 414.4 576.3C420.9 577.9 429.1 585.0 430.7 589.4C432.3 593.8 426.9 598.7 424.2 602.5C421.5 606.3 417.1 608.5 414.4 612.3C411.7 616.1 407.8 619.9 407.8 625.4C407.8 630.9 413.3 638.5 414.4 645.0C415.5 651.5 414.9 658.6 414.4 664.6C413.8 670.6 413.3 676.5 411.1 680.9C408.9 685.2 405.7 689.3 401.3 690.7C396.9 692.1 388.7 691.8 384.9 689.1C381.1 686.4 380.0 680.7 378.4 674.4C376.8 668.1 375.1 658.6 375.1 651.5C375.1 644.4 376.8 637.9 378.4 631.9C380.0 625.9 383.3 621.0 384.9 615.6C386.5 610.2 387.1 605.2 388.2 599.2C389.3 593.2 387.1 583.4 391.5 579.6Z" fill="url(#nuc2)" opacity="0.95"/>
<path d="M392.0 588.0C393.7 584.8 402.7 583.7 406.0 585.0C409.3 586.3 412.3 592.2 412.0 596.0C411.7 599.8 406.7 606.7 404.0 608.0C401.3 609.3 398.0 607.3 396.0 604.0C394.0 600.7 390.3 591.2 392.0 588.0Z" fill="#6a3aa4" opacity="0.24"/>
<path d="M392.0 588.0C393.7 584.8 402.7 583.7 406.0 585.0C409.3 586.3 412.3 592.2 412.0 596.0C411.7 599.8 406.7 606.7 404.0 608.0C401.3 609.3 398.0 607.3 396.0 604.0C394.0 600.7 390.3 591.2 392.0 588.0Z" fill="url(#nuc2)" opacity="0.7"/>
<path d="M384.0 660.0C385.3 655.3 393.7 656.0 398.0 658.0C402.3 660.0 409.0 667.0 410.0 672.0C411.0 677.0 407.3 685.7 404.0 688.0C400.7 690.3 393.3 690.7 390.0 686.0C386.7 681.3 382.7 664.7 384.0 660.0Z" fill="#6a3aa4" opacity="0.24"/>
<path d="M384.0 660.0C385.3 655.3 393.7 656.0 398.0 658.0C402.3 660.0 409.0 667.0 410.0 672.0C411.0 677.0 407.3 685.7 404.0 688.0C400.7 690.3 393.3 690.7 390.0 686.0C386.7 681.3 382.7 664.7 384.0 660.0Z" fill="url(#nuc2)" opacity="0.7"/>
<path d="M470.0 566.0C472.0 561.7 477.7 563.0 482.0 564.0C486.3 565.0 493.0 568.7 496.0 572.0C499.0 575.3 500.7 580.7 500.0 584.0C499.3 587.3 495.3 590.0 492.0 592.0C488.7 594.0 483.7 596.3 480.0 596.0C476.3 595.7 471.7 595.0 470.0 590.0C468.3 585.0 468.0 570.3 470.0 566.0Z" fill="#8c40b4" opacity="0.27"/>
<path d="M470.0 566.0C472.0 561.7 477.7 563.0 482.0 564.0C486.3 565.0 493.0 568.7 496.0 572.0C499.0 575.3 500.7 580.7 500.0 584.0C499.3 587.3 495.3 590.0 492.0 592.0C488.7 594.0 483.7 596.3 480.0 596.0C476.3 595.7 471.7 595.0 470.0 590.0C468.3 585.0 468.0 570.3 470.0 566.0Z" fill="url(#nuc)" opacity="0.6"/>
<g filter="url(#rough)">
<path d="M382.2 584.2C382.2 585.0 381.9 585.9 381.3 586.6C380.7 587.2 379.8 587.9 378.9 588.3C377.9 588.7 376.6 588.9 375.5 588.9C374.4 588.9 373.1 588.7 372.1 588.3C371.2 587.9 370.3 587.2 369.7 586.6C369.1 585.9 368.8 585.0 368.8 584.2C368.8 583.4 369.1 582.5 369.7 581.9C370.3 581.2 371.2 580.5 372.1 580.1C373.1 579.7 374.4 579.5 375.5 579.5C376.6 579.5 377.9 579.7 378.9 580.1C379.8 580.5 380.7 581.2 381.3 581.9C381.9 582.5 382.2 583.4 382.2 584.2Z" fill="none" stroke="#8c40b4" stroke-width="12" stroke-linejoin="round" opacity="0.5"/>
<path d="M382.2 584.2C382.2 585.0 381.9 585.9 381.3 586.6C380.7 587.2 379.8 587.9 378.9 588.3C377.9 588.7 376.6 588.9 375.5 588.9C374.4 588.9 373.1 588.7 372.1 588.3C371.2 587.9 370.3 587.2 369.7 586.6C369.1 585.9 368.8 585.0 368.8 584.2C368.8 583.4 369.1 582.5 369.7 581.9C370.3 581.2 371.2 580.5 372.1 580.1C373.1 579.7 374.4 579.5 375.5 579.5C376.6 579.5 377.9 579.7 378.9 580.1C379.8 580.5 380.7 581.2 381.3 581.9C381.9 582.5 382.2 583.4 382.2 584.2Z" fill="none" stroke="url(#nuc)" stroke-width="12" stroke-linejoin="round"/>
<path d="M382.2 584.2C382.2 585.0 381.9 585.9 381.3 586.6C380.7 587.2 379.8 587.9 378.9 588.3C377.9 588.7 376.6 588.9 375.5 588.9C374.4 588.9 373.1 588.7 372.1 588.3C371.2 587.9 370.3 587.2 369.7 586.6C369.1 585.9 368.8 585.0 368.8 584.2C368.8 583.4 369.1 582.5 369.7 581.9C370.3 581.2 371.2 580.5 372.1 580.1C373.1 579.7 374.4 579.5 375.5 579.5C376.6 579.5 377.9 579.7 378.9 580.1C379.8 580.5 380.7 581.2 381.3 581.9C381.9 582.5 382.2 583.4 382.2 584.2Z" fill="#fdfcf4" stroke="#9838b0" stroke-width="6" stroke-linejoin="round"/>
<path d="M382.2 584.2C382.2 585.0 381.9 585.9 381.3 586.6C380.7 587.2 379.8 587.9 378.9 588.3C377.9 588.7 376.6 588.9 375.5 588.9C374.4 588.9 373.1 588.7 372.1 588.3C371.2 587.9 370.3 587.2 369.7 586.6C369.1 585.9 368.8 585.0 368.8 584.2C368.8 583.4 369.1 582.5 369.7 581.9C370.3 581.2 371.2 580.5 372.1 580.1C373.1 579.7 374.4 579.5 375.5 579.5C376.6 579.5 377.9 579.7 378.9 580.1C379.8 580.5 380.7 581.2 381.3 581.9C381.9 582.5 382.2 583.4 382.2 584.2Z" fill="#fdfcf4"/>
</g>
<path d="M404.5 605.0C405.3 604.2 408.7 604.8 410.0 606.0C411.3 607.2 412.7 610.7 412.5 612.0C412.3 613.3 410.2 614.2 409.0 614.0C407.8 613.8 405.8 612.5 405.0 611.0C404.2 609.5 403.7 605.8 404.5 605.0Z" fill="#fdfcf4" stroke="#a448c0" stroke-width="1.4"/>
<g filter="url(#rough)">
<path d="M391.1 619.6C392.7 619.1 395.2 619.0 397.1 620.0C399.0 621.0 401.0 623.8 402.3 625.6C403.6 627.4 404.2 628.7 404.8 630.7C405.4 632.7 405.8 635.3 405.7 637.6C405.6 639.9 404.7 642.3 404.0 644.4C403.3 646.5 402.2 648.5 401.4 650.4C400.5 652.3 399.8 654.6 398.9 655.6C398.0 656.6 397.0 657.1 396.3 656.4C395.6 655.7 395.2 653.4 394.6 651.3C394.0 649.2 393.9 646.2 392.9 643.6C391.9 641.0 389.6 638.2 388.6 635.8C387.6 633.4 387.0 631.1 386.9 629.0C386.8 626.9 387.0 624.6 387.7 623.0C388.4 621.4 389.5 620.1 391.1 619.6Z" fill="none" stroke="#8c40b4" stroke-width="10.2" stroke-linejoin="round" opacity="0.5"/>
<path d="M391.1 619.6C392.7 619.1 395.2 619.0 397.1 620.0C399.0 621.0 401.0 623.8 402.3 625.6C403.6 627.4 404.2 628.7 404.8 630.7C405.4 632.7 405.8 635.3 405.7 637.6C405.6 639.9 404.7 642.3 404.0 644.4C403.3 646.5 402.2 648.5 401.4 650.4C400.5 652.3 399.8 654.6 398.9 655.6C398.0 656.6 397.0 657.1 396.3 656.4C395.6 655.7 395.2 653.4 394.6 651.3C394.0 649.2 393.9 646.2 392.9 643.6C391.9 641.0 389.6 638.2 388.6 635.8C387.6 633.4 387.0 631.1 386.9 629.0C386.8 626.9 387.0 624.6 387.7 623.0C388.4 621.4 389.5 620.1 391.1 619.6Z" fill="none" stroke="url(#nuc)" stroke-width="10.2" stroke-linejoin="round"/>
<path d="M391.1 619.6C392.7 619.1 395.2 619.0 397.1 620.0C399.0 621.0 401.0 623.8 402.3 625.6C403.6 627.4 404.2 628.7 404.8 630.7C405.4 632.7 405.8 635.3 405.7 637.6C405.6 639.9 404.7 642.3 404.0 644.4C403.3 646.5 402.2 648.5 401.4 650.4C400.5 652.3 399.8 654.6 398.9 655.6C398.0 656.6 397.0 657.1 396.3 656.4C395.6 655.7 395.2 653.4 394.6 651.3C394.0 649.2 393.9 646.2 392.9 643.6C391.9 641.0 389.6 638.2 388.6 635.8C387.6 633.4 387.0 631.1 386.9 629.0C386.8 626.9 387.0 624.6 387.7 623.0C388.4 621.4 389.5 620.1 391.1 619.6Z" fill="#fdfcf4" stroke="#a448c0" stroke-width="5.2" stroke-linejoin="round"/>
<path d="M391.1 619.6C392.7 619.1 395.2 619.0 397.1 620.0C399.0 621.0 401.0 623.8 402.3 625.6C403.6 627.4 404.2 628.7 404.8 630.7C405.4 632.7 405.8 635.3 405.7 637.6C405.6 639.9 404.7 642.3 404.0 644.4C403.3 646.5 402.2 648.5 401.4 650.4C400.5 652.3 399.8 654.6 398.9 655.6C398.0 656.6 397.0 657.1 396.3 656.4C395.6 655.7 395.2 653.4 394.6 651.3C394.0 649.2 393.9 646.2 392.9 643.6C391.9 641.0 389.6 638.2 388.6 635.8C387.6 633.4 387.0 631.1 386.9 629.0C386.8 626.9 387.0 624.6 387.7 623.0C388.4 621.4 389.5 620.1 391.1 619.6Z" fill="#fdfcf4"/>
</g>
<g filter="url(#rough)">
<path d="M432.7 598.5C434.6 597.0 437.2 596.9 438.5 597.5C439.8 598.1 440.2 600.2 440.4 602.3C440.5 604.4 439.9 607.4 439.4 610.0C438.9 612.6 438.4 615.1 437.5 617.7C436.6 620.3 435.1 623.1 433.7 625.4C432.2 627.6 430.4 629.9 428.8 631.2C427.2 632.5 425.3 633.3 424.0 633.1C422.7 632.9 421.7 631.8 421.2 630.2C420.7 628.6 420.9 626.2 421.2 623.5C421.5 620.8 422.2 616.7 423.1 613.8C424.1 610.9 425.3 608.8 426.9 606.2C428.5 603.7 430.8 600.0 432.7 598.5Z" fill="none" stroke="#8c40b4" stroke-width="12.4" stroke-linejoin="round" opacity="0.5"/>
<path d="M432.7 598.5C434.6 597.0 437.2 596.9 438.5 597.5C439.8 598.1 440.2 600.2 440.4 602.3C440.5 604.4 439.9 607.4 439.4 610.0C438.9 612.6 438.4 615.1 437.5 617.7C436.6 620.3 435.1 623.1 433.7 625.4C432.2 627.6 430.4 629.9 428.8 631.2C427.2 632.5 425.3 633.3 424.0 633.1C422.7 632.9 421.7 631.8 421.2 630.2C420.7 628.6 420.9 626.2 421.2 623.5C421.5 620.8 422.2 616.7 423.1 613.8C424.1 610.9 425.3 608.8 426.9 606.2C428.5 603.7 430.8 600.0 432.7 598.5Z" fill="none" stroke="url(#nuc)" stroke-width="12.4" stroke-linejoin="round"/>
<path d="M432.7 598.5C434.6 597.0 437.2 596.9 438.5 597.5C439.8 598.1 440.2 600.2 440.4 602.3C440.5 604.4 439.9 607.4 439.4 610.0C438.9 612.6 438.4 615.1 437.5 617.7C436.6 620.3 435.1 623.1 433.7 625.4C432.2 627.6 430.4 629.9 428.8 631.2C427.2 632.5 425.3 633.3 424.0 633.1C422.7 632.9 421.7 631.8 421.2 630.2C420.7 628.6 420.9 626.2 421.2 623.5C421.5 620.8 422.2 616.7 423.1 613.8C424.1 610.9 425.3 608.8 426.9 606.2C428.5 603.7 430.8 600.0 432.7 598.5Z" fill="#fdfcf4" stroke="#a040b8" stroke-width="6.4" stroke-linejoin="round"/>
<path d="M432.7 598.5C434.6 597.0 437.2 596.9 438.5 597.5C439.8 598.1 440.2 600.2 440.4 602.3C440.5 604.4 439.9 607.4 439.4 610.0C438.9 612.6 438.4 615.1 437.5 617.7C436.6 620.3 435.1 623.1 433.7 625.4C432.2 627.6 430.4 629.9 428.8 631.2C427.2 632.5 425.3 633.3 424.0 633.1C422.7 632.9 421.7 631.8 421.2 630.2C420.7 628.6 420.9 626.2 421.2 623.5C421.5 620.8 422.2 616.7 423.1 613.8C424.1 610.9 425.3 608.8 426.9 606.2C428.5 603.7 430.8 600.0 432.7 598.5Z" fill="#fdfcf4"/>
</g>
<g filter="url(#rough)">
<path d="M480.3 578.2C480.4 580.3 480.4 582.7 480.2 584.5C479.9 586.3 479.4 588.1 478.9 589.1C478.4 590.2 477.6 590.9 476.9 591.0C476.2 591.0 475.3 590.4 474.6 589.4C473.9 588.5 473.2 586.8 472.7 585.0C472.2 583.2 471.9 580.9 471.7 578.8C471.6 576.7 471.6 574.3 471.8 572.5C472.1 570.7 472.6 568.9 473.1 567.9C473.6 566.8 474.4 566.1 475.1 566.0C475.8 566.0 476.7 566.6 477.4 567.6C478.1 568.5 478.8 570.2 479.3 572.0C479.8 573.8 480.1 576.1 480.3 578.2Z" fill="none" stroke="#8c40b4" stroke-width="11.2" stroke-linejoin="round" opacity="0.5"/>
<path d="M480.3 578.2C480.4 580.3 480.4 582.7 480.2 584.5C479.9 586.3 479.4 588.1 478.9 589.1C478.4 590.2 477.6 590.9 476.9 591.0C476.2 591.0 475.3 590.4 474.6 589.4C473.9 588.5 473.2 586.8 472.7 585.0C472.2 583.2 471.9 580.9 471.7 578.8C471.6 576.7 471.6 574.3 471.8 572.5C472.1 570.7 472.6 568.9 473.1 567.9C473.6 566.8 474.4 566.1 475.1 566.0C475.8 566.0 476.7 566.6 477.4 567.6C478.1 568.5 478.8 570.2 479.3 572.0C479.8 573.8 480.1 576.1 480.3 578.2Z" fill="none" stroke="url(#nuc)" stroke-width="11.2" stroke-linejoin="round"/>
<path d="M480.3 578.2C480.4 580.3 480.4 582.7 480.2 584.5C479.9 586.3 479.4 588.1 478.9 589.1C478.4 590.2 477.6 590.9 476.9 591.0C476.2 591.0 475.3 590.4 474.6 589.4C473.9 588.5 473.2 586.8 472.7 585.0C472.2 583.2 471.9 580.9 471.7 578.8C471.6 576.7 471.6 574.3 471.8 572.5C472.1 570.7 472.6 568.9 473.1 567.9C473.6 566.8 474.4 566.1 475.1 566.0C475.8 566.0 476.7 566.6 477.4 567.6C478.1 568.5 478.8 570.2 479.3 572.0C479.8 573.8 480.1 576.1 480.3 578.2Z" fill="#fdfcf4" stroke="#9838b0" stroke-width="5.2" stroke-linejoin="round"/>
<path d="M480.3 578.2C480.4 580.3 480.4 582.7 480.2 584.5C479.9 586.3 479.4 588.1 478.9 589.1C478.4 590.2 477.6 590.9 476.9 591.0C476.2 591.0 475.3 590.4 474.6 589.4C473.9 588.5 473.2 586.8 472.7 585.0C472.2 583.2 471.9 580.9 471.7 578.8C471.6 576.7 471.6 574.3 471.8 572.5C472.1 570.7 472.6 568.9 473.1 567.9C473.6 566.8 474.4 566.1 475.1 566.0C475.8 566.0 476.7 566.6 477.4 567.6C478.1 568.5 478.8 570.2 479.3 572.0C479.8 573.8 480.1 576.1 480.3 578.2Z" fill="#fdfcf4"/>
</g>
<path d="M474 590 C475 596 476 600 476.5 603" stroke="#8c40b4" stroke-width="4" fill="none" opacity="0.5"/>
<g filter="url(#rough)">
<path d="M485.5 629.4C485.5 630.2 485.2 631.2 484.7 631.9C484.2 632.6 483.4 633.3 482.6 633.7C481.8 634.1 480.7 634.4 479.7 634.4C478.7 634.4 477.6 634.1 476.8 633.7C476.0 633.3 475.2 632.6 474.7 631.9C474.2 631.2 473.9 630.2 473.9 629.4C473.9 628.6 474.2 627.6 474.7 626.9C475.2 626.2 476.0 625.5 476.8 625.1C477.6 624.7 478.7 624.4 479.7 624.4C480.7 624.4 481.8 624.7 482.6 625.1C483.4 625.5 484.2 626.2 484.7 626.9C485.2 627.6 485.5 628.6 485.5 629.4Z" fill="none" stroke="#8c40b4" stroke-width="9.0" stroke-linejoin="round" opacity="0.5"/>
<path d="M485.5 629.4C485.5 630.2 485.2 631.2 484.7 631.9C484.2 632.6 483.4 633.3 482.6 633.7C481.8 634.1 480.7 634.4 479.7 634.4C478.7 634.4 477.6 634.1 476.8 633.7C476.0 633.3 475.2 632.6 474.7 631.9C474.2 631.2 473.9 630.2 473.9 629.4C473.9 628.6 474.2 627.6 474.7 626.9C475.2 626.2 476.0 625.5 476.8 625.1C477.6 624.7 478.7 624.4 479.7 624.4C480.7 624.4 481.8 624.7 482.6 625.1C483.4 625.5 484.2 626.2 484.7 626.9C485.2 627.6 485.5 628.6 485.5 629.4Z" fill="none" stroke="url(#nuc)" stroke-width="9.0" stroke-linejoin="round"/>
<path d="M485.5 629.4C485.5 630.2 485.2 631.2 484.7 631.9C484.2 632.6 483.4 633.3 482.6 633.7C481.8 634.1 480.7 634.4 479.7 634.4C478.7 634.4 477.6 634.1 476.8 633.7C476.0 633.3 475.2 632.6 474.7 631.9C474.2 631.2 473.9 630.2 473.9 629.4C473.9 628.6 474.2 627.6 474.7 626.9C475.2 626.2 476.0 625.5 476.8 625.1C477.6 624.7 478.7 624.4 479.7 624.4C480.7 624.4 481.8 624.7 482.6 625.1C483.4 625.5 484.2 626.2 484.7 626.9C485.2 627.6 485.5 628.6 485.5 629.4Z" fill="#fdfcf4" stroke="#a048b8" stroke-width="4" stroke-linejoin="round"/>
<path d="M485.5 629.4C485.5 630.2 485.2 631.2 484.7 631.9C484.2 632.6 483.4 633.3 482.6 633.7C481.8 634.1 480.7 634.4 479.7 634.4C478.7 634.4 477.6 634.1 476.8 633.7C476.0 633.3 475.2 632.6 474.7 631.9C474.2 631.2 473.9 630.2 473.9 629.4C473.9 628.6 474.2 627.6 474.7 626.9C475.2 626.2 476.0 625.5 476.8 625.1C477.6 624.7 478.7 624.4 479.7 624.4C480.7 624.4 481.8 624.7 482.6 625.1C483.4 625.5 484.2 626.2 484.7 626.9C485.2 627.6 485.5 628.6 485.5 629.4Z" fill="#fdfcf4"/>
</g>
<line x1="413.3" y1="569.4" x2="403.0" y2="587.2" stroke="#000" stroke-width="1.7"/>
<polygon points="397.8,596.3 399.5,583.4 408.1,588.4" fill="#000"/>
<line x1="417.7" y1="641.8" x2="407.0" y2="660.7" stroke="#000" stroke-width="1.7"/>
<polygon points="401.8,669.8 403.4,656.9 412.1,661.8" fill="#000"/>
<line x1="460.6" y1="627.7" x2="470.5" y2="612.6" stroke="#000" stroke-width="1.7"/>
<polygon points="476.2,603.8 473.8,616.6 465.5,611.1" fill="#000"/>
</g>
</svg></body></html>
